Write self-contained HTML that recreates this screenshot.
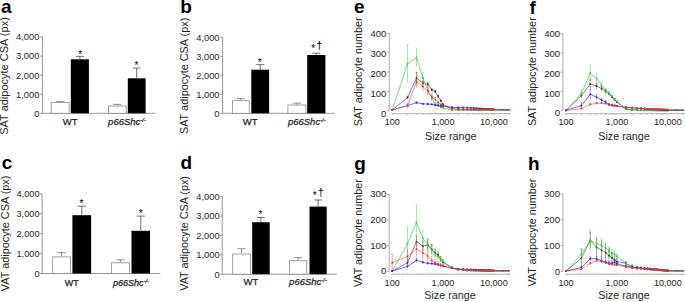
<!DOCTYPE html>
<html><head><meta charset="utf-8"><style>
html,body{margin:0;padding:0;background:#fff;}
body{width:685px;height:302px;overflow:hidden;}
svg{display:block;font-family:"Liberation Sans", sans-serif;}
.s{stroke:#231f20;stroke-width:0.25px;}
</style></head><body>
<svg width="685" height="302" viewBox="0 0 685 302">
<rect width="685" height="302" fill="#fff"/>
<line x1="42.40" y1="36.70" x2="42.40" y2="113.30" stroke="#8a8a8a" stroke-width="0.9" />
<line x1="40.20" y1="113.30" x2="42.40" y2="113.30" stroke="#8a8a8a" stroke-width="0.9" />
<text x="39.30" y="116.65" font-size="9.3" text-anchor="end" font-weight="normal" font-style="normal" fill="#231f20" >0</text>
<line x1="40.20" y1="94.22" x2="42.40" y2="94.22" stroke="#8a8a8a" stroke-width="0.9" />
<text x="39.30" y="97.57" font-size="9.3" text-anchor="end" font-weight="normal" font-style="normal" fill="#231f20" >1,000</text>
<line x1="40.20" y1="75.15" x2="42.40" y2="75.15" stroke="#8a8a8a" stroke-width="0.9" />
<text x="39.30" y="78.50" font-size="9.3" text-anchor="end" font-weight="normal" font-style="normal" fill="#231f20" >2,000</text>
<line x1="40.20" y1="56.08" x2="42.40" y2="56.08" stroke="#8a8a8a" stroke-width="0.9" />
<text x="39.30" y="59.42" font-size="9.3" text-anchor="end" font-weight="normal" font-style="normal" fill="#231f20" >3,000</text>
<line x1="40.20" y1="37.00" x2="42.40" y2="37.00" stroke="#8a8a8a" stroke-width="0.9" />
<text x="39.30" y="40.35" font-size="9.3" text-anchor="end" font-weight="normal" font-style="normal" fill="#231f20" >4,000</text>
<line x1="42.40" y1="113.30" x2="155.50" y2="113.30" stroke="#8a8a8a" stroke-width="0.9" />
<line x1="60.20" y1="102.20" x2="60.20" y2="101.40" stroke="#666" stroke-width="0.7" />
<line x1="55.97" y1="101.40" x2="64.43" y2="101.40" stroke="#666" stroke-width="0.7" />
<rect x="51.20" y="102.60" width="18.00" height="10.70" fill="#fff" stroke="#888" stroke-width="0.8"/>
<line x1="79.85" y1="59.30" x2="79.85" y2="56.40" stroke="#333" stroke-width="0.7" />
<line x1="75.78" y1="56.40" x2="83.92" y2="56.40" stroke="#333" stroke-width="0.7" />
<rect x="70.80" y="59.30" width="18.10" height="54.00" fill="#000"/>
<line x1="117.35" y1="105.60" x2="117.35" y2="104.40" stroke="#666" stroke-width="0.7" />
<line x1="113.19" y1="104.40" x2="121.51" y2="104.40" stroke="#666" stroke-width="0.7" />
<rect x="108.50" y="106.00" width="17.70" height="7.30" fill="#fff" stroke="#888" stroke-width="0.8"/>
<line x1="136.70" y1="78.30" x2="136.70" y2="68.10" stroke="#333" stroke-width="0.7" />
<line x1="132.69" y1="68.10" x2="140.70" y2="68.10" stroke="#333" stroke-width="0.7" />
<rect x="127.80" y="78.30" width="17.80" height="35.00" fill="#000"/>
<text x="80.20" y="57.70" font-size="10" text-anchor="middle" font-weight="normal" font-style="normal" fill="#000" >*</text>
<text x="136.40" y="69.30" font-size="10" text-anchor="middle" font-weight="normal" font-style="normal" fill="#000" >*</text>
<text x="70.20" y="125.40" font-size="9.5" text-anchor="middle" font-weight="normal" font-style="normal" fill="#231f20" class="s">WT</text>
<text class="s" x="127.00" y="125.40" font-size="9.5" text-anchor="middle" font-style="italic" fill="#231f20">p66Shc<tspan font-size="5.89" dy="-3.14">-/-</tspan></text>
<text transform="translate(8.40,76.00) rotate(-90)" font-size="11.0" text-anchor="middle" fill="#231f20">SAT adipocyte CSA (px)</text>
<text x="1.10" y="13.40" font-size="19" text-anchor="start" font-weight="bold" font-style="normal" fill="#000" >a</text>
<line x1="222.60" y1="37.00" x2="222.60" y2="113.30" stroke="#8a8a8a" stroke-width="0.9" />
<line x1="220.40" y1="113.30" x2="222.60" y2="113.30" stroke="#8a8a8a" stroke-width="0.9" />
<text x="219.50" y="116.65" font-size="9.3" text-anchor="end" font-weight="normal" font-style="normal" fill="#231f20" >0</text>
<line x1="220.40" y1="94.30" x2="222.60" y2="94.30" stroke="#8a8a8a" stroke-width="0.9" />
<text x="219.50" y="97.65" font-size="9.3" text-anchor="end" font-weight="normal" font-style="normal" fill="#231f20" >1,000</text>
<line x1="220.40" y1="75.30" x2="222.60" y2="75.30" stroke="#8a8a8a" stroke-width="0.9" />
<text x="219.50" y="78.65" font-size="9.3" text-anchor="end" font-weight="normal" font-style="normal" fill="#231f20" >2,000</text>
<line x1="220.40" y1="56.30" x2="222.60" y2="56.30" stroke="#8a8a8a" stroke-width="0.9" />
<text x="219.50" y="59.65" font-size="9.3" text-anchor="end" font-weight="normal" font-style="normal" fill="#231f20" >3,000</text>
<line x1="220.40" y1="37.30" x2="222.60" y2="37.30" stroke="#8a8a8a" stroke-width="0.9" />
<text x="219.50" y="40.65" font-size="9.3" text-anchor="end" font-weight="normal" font-style="normal" fill="#231f20" >4,000</text>
<line x1="222.60" y1="113.30" x2="334.40" y2="113.30" stroke="#8a8a8a" stroke-width="0.9" />
<line x1="240.80" y1="100.30" x2="240.80" y2="98.60" stroke="#666" stroke-width="0.7" />
<line x1="236.84" y1="98.60" x2="244.76" y2="98.60" stroke="#666" stroke-width="0.7" />
<rect x="232.40" y="100.70" width="16.80" height="12.60" fill="#fff" stroke="#888" stroke-width="0.8"/>
<line x1="260.20" y1="69.70" x2="260.20" y2="64.60" stroke="#333" stroke-width="0.7" />
<line x1="256.20" y1="64.60" x2="264.21" y2="64.60" stroke="#333" stroke-width="0.7" />
<rect x="251.30" y="69.70" width="17.80" height="43.60" fill="#000"/>
<line x1="296.90" y1="104.60" x2="296.90" y2="103.10" stroke="#666" stroke-width="0.7" />
<line x1="292.67" y1="103.10" x2="301.13" y2="103.10" stroke="#666" stroke-width="0.7" />
<rect x="287.90" y="105.00" width="18.00" height="8.30" fill="#fff" stroke="#888" stroke-width="0.8"/>
<line x1="316.30" y1="55.00" x2="316.30" y2="53.20" stroke="#333" stroke-width="0.7" />
<line x1="312.20" y1="53.20" x2="320.39" y2="53.20" stroke="#333" stroke-width="0.7" />
<rect x="307.20" y="55.00" width="18.20" height="58.30" fill="#000"/>
<text x="259.80" y="65.90" font-size="10" text-anchor="middle" font-weight="normal" font-style="normal" fill="#000" >*</text>
<text x="313.30" y="52.00" font-size="10" text-anchor="middle" font-weight="normal" font-style="normal" fill="#000" >*</text>
<text x="250.20" y="125.20" font-size="9.5" text-anchor="middle" font-weight="normal" font-style="normal" fill="#231f20" class="s">WT</text>
<text class="s" x="306.80" y="125.20" font-size="9.5" text-anchor="middle" font-style="italic" fill="#231f20">p66Shc<tspan font-size="5.89" dy="-3.14">-/-</tspan></text>
<text transform="translate(188.30,75.90) rotate(-90)" font-size="10.9" text-anchor="middle" fill="#231f20">SAT adipocyte CSA (px)</text>
<text x="180.30" y="13.40" font-size="19" text-anchor="start" font-weight="bold" font-style="normal" fill="#000" >b</text>
<text x="319.30" y="49.20" font-size="11" text-anchor="middle" font-weight="normal" font-style="normal" fill="#000" >†</text>
<line x1="42.10" y1="193.60" x2="42.10" y2="273.50" stroke="#8a8a8a" stroke-width="0.9" />
<line x1="39.90" y1="273.50" x2="42.10" y2="273.50" stroke="#8a8a8a" stroke-width="0.9" />
<text x="39.50" y="276.81" font-size="9.2" text-anchor="end" font-weight="normal" font-style="normal" fill="#231f20" >0</text>
<line x1="39.90" y1="253.60" x2="42.10" y2="253.60" stroke="#8a8a8a" stroke-width="0.9" />
<text x="39.50" y="256.91" font-size="9.2" text-anchor="end" font-weight="normal" font-style="normal" fill="#231f20" >1,000</text>
<line x1="39.90" y1="233.70" x2="42.10" y2="233.70" stroke="#8a8a8a" stroke-width="0.9" />
<text x="39.50" y="237.01" font-size="9.2" text-anchor="end" font-weight="normal" font-style="normal" fill="#231f20" >2,000</text>
<line x1="39.90" y1="213.80" x2="42.10" y2="213.80" stroke="#8a8a8a" stroke-width="0.9" />
<text x="39.50" y="217.11" font-size="9.2" text-anchor="end" font-weight="normal" font-style="normal" fill="#231f20" >3,000</text>
<line x1="39.90" y1="193.90" x2="42.10" y2="193.90" stroke="#8a8a8a" stroke-width="0.9" />
<text x="39.50" y="197.21" font-size="9.2" text-anchor="end" font-weight="normal" font-style="normal" fill="#231f20" >4,000</text>
<line x1="42.10" y1="273.50" x2="160.30" y2="273.50" stroke="#8a8a8a" stroke-width="0.9" />
<line x1="61.55" y1="256.50" x2="61.55" y2="252.60" stroke="#666" stroke-width="0.7" />
<line x1="57.39" y1="252.60" x2="65.71" y2="252.60" stroke="#666" stroke-width="0.7" />
<rect x="52.70" y="256.90" width="17.70" height="16.60" fill="#fff" stroke="#888" stroke-width="0.8"/>
<line x1="81.75" y1="215.20" x2="81.75" y2="206.20" stroke="#333" stroke-width="0.7" />
<line x1="77.54" y1="206.20" x2="85.96" y2="206.20" stroke="#333" stroke-width="0.7" />
<rect x="72.40" y="215.20" width="18.70" height="58.30" fill="#000"/>
<line x1="120.55" y1="262.40" x2="120.55" y2="259.80" stroke="#666" stroke-width="0.7" />
<line x1="116.34" y1="259.80" x2="124.76" y2="259.80" stroke="#666" stroke-width="0.7" />
<rect x="111.60" y="262.80" width="17.90" height="10.70" fill="#fff" stroke="#888" stroke-width="0.8"/>
<line x1="140.75" y1="230.80" x2="140.75" y2="216.10" stroke="#333" stroke-width="0.7" />
<line x1="136.59" y1="216.10" x2="144.91" y2="216.10" stroke="#333" stroke-width="0.7" />
<rect x="131.50" y="230.80" width="18.50" height="42.70" fill="#000"/>
<text x="81.50" y="206.56" font-size="10.3" text-anchor="middle" font-weight="normal" font-style="normal" fill="#000" >*</text>
<text x="140.80" y="216.76" font-size="10.3" text-anchor="middle" font-weight="normal" font-style="normal" fill="#000" >*</text>
<text x="71.80" y="286.20" font-size="9.0" text-anchor="middle" font-weight="normal" font-style="normal" fill="#231f20" class="s">WT</text>
<text class="s" x="131.00" y="286.20" font-size="9.0" text-anchor="middle" font-style="italic" fill="#231f20">p66Shc<tspan font-size="5.58" dy="-2.97">-/-</tspan></text>
<text transform="translate(8.60,233.40) rotate(-90)" font-size="10.9" text-anchor="middle" fill="#231f20">VAT adipocyte CSA (px)</text>
<text x="1.70" y="169.30" font-size="19" text-anchor="start" font-weight="bold" font-style="normal" fill="#000" >c</text>
<line x1="222.20" y1="196.30" x2="222.20" y2="274.20" stroke="#8a8a8a" stroke-width="0.9" />
<line x1="220.00" y1="274.20" x2="222.20" y2="274.20" stroke="#8a8a8a" stroke-width="0.9" />
<text x="219.60" y="277.55" font-size="9.3" text-anchor="end" font-weight="normal" font-style="normal" fill="#231f20" >0</text>
<line x1="220.00" y1="254.80" x2="222.20" y2="254.80" stroke="#8a8a8a" stroke-width="0.9" />
<text x="219.60" y="258.15" font-size="9.3" text-anchor="end" font-weight="normal" font-style="normal" fill="#231f20" >1,000</text>
<line x1="220.00" y1="235.40" x2="222.20" y2="235.40" stroke="#8a8a8a" stroke-width="0.9" />
<text x="219.60" y="238.75" font-size="9.3" text-anchor="end" font-weight="normal" font-style="normal" fill="#231f20" >2,000</text>
<line x1="220.00" y1="216.00" x2="222.20" y2="216.00" stroke="#8a8a8a" stroke-width="0.9" />
<text x="219.60" y="219.35" font-size="9.3" text-anchor="end" font-weight="normal" font-style="normal" fill="#231f20" >3,000</text>
<line x1="220.00" y1="196.60" x2="222.20" y2="196.60" stroke="#8a8a8a" stroke-width="0.9" />
<text x="219.60" y="199.95" font-size="9.3" text-anchor="end" font-weight="normal" font-style="normal" fill="#231f20" >4,000</text>
<line x1="222.20" y1="274.20" x2="336.80" y2="274.20" stroke="#8a8a8a" stroke-width="0.9" />
<line x1="241.55" y1="253.60" x2="241.55" y2="248.70" stroke="#666" stroke-width="0.7" />
<line x1="237.39" y1="248.70" x2="245.71" y2="248.70" stroke="#666" stroke-width="0.7" />
<rect x="232.70" y="254.00" width="17.70" height="20.20" fill="#fff" stroke="#888" stroke-width="0.8"/>
<line x1="260.95" y1="222.20" x2="260.95" y2="217.50" stroke="#333" stroke-width="0.7" />
<line x1="257.01" y1="217.50" x2="264.89" y2="217.50" stroke="#333" stroke-width="0.7" />
<rect x="252.20" y="222.20" width="17.50" height="52.00" fill="#000"/>
<line x1="298.10" y1="260.30" x2="298.10" y2="257.60" stroke="#666" stroke-width="0.7" />
<line x1="294.01" y1="257.60" x2="302.19" y2="257.60" stroke="#666" stroke-width="0.7" />
<rect x="289.40" y="260.70" width="17.40" height="13.50" fill="#fff" stroke="#888" stroke-width="0.8"/>
<line x1="318.10" y1="206.60" x2="318.10" y2="200.00" stroke="#333" stroke-width="0.7" />
<line x1="314.23" y1="200.00" x2="321.97" y2="200.00" stroke="#333" stroke-width="0.7" />
<rect x="309.50" y="206.60" width="17.20" height="67.60" fill="#000"/>
<text x="260.40" y="218.10" font-size="10" text-anchor="middle" font-weight="normal" font-style="normal" fill="#000" >*</text>
<text x="314.70" y="199.10" font-size="10" text-anchor="middle" font-weight="normal" font-style="normal" fill="#000" >*</text>
<text x="251.00" y="285.00" font-size="9.5" text-anchor="middle" font-weight="normal" font-style="normal" fill="#231f20" class="s">WT</text>
<text class="s" x="308.00" y="285.00" font-size="9.5" text-anchor="middle" font-style="italic" fill="#231f20">p66Shc<tspan font-size="5.89" dy="-3.14">-/-</tspan></text>
<text transform="translate(188.40,233.40) rotate(-90)" font-size="10.8" text-anchor="middle" fill="#231f20">VAT adipocyte CSA (px)</text>
<text x="180.40" y="169.00" font-size="19" text-anchor="start" font-weight="bold" font-style="normal" fill="#000" >d</text>
<text x="320.70" y="196.30" font-size="11" text-anchor="middle" font-weight="normal" font-style="normal" fill="#000" >†</text>
<line x1="389.30" y1="33.30" x2="389.30" y2="110.70" stroke="#a4a4a4" stroke-width="0.9" />
<line x1="387.10" y1="110.40" x2="389.30" y2="110.40" stroke="#a4a4a4" stroke-width="0.9" />
<text x="386.40" y="116.76" font-size="9.6" text-anchor="end" font-weight="normal" font-style="normal" fill="#231f20" >0</text>
<line x1="387.10" y1="91.20" x2="389.30" y2="91.20" stroke="#a4a4a4" stroke-width="0.9" />
<text x="386.40" y="96.86" font-size="9.6" text-anchor="end" font-weight="normal" font-style="normal" fill="#231f20" >100</text>
<line x1="387.10" y1="72.00" x2="389.30" y2="72.00" stroke="#a4a4a4" stroke-width="0.9" />
<text x="386.40" y="76.86" font-size="9.6" text-anchor="end" font-weight="normal" font-style="normal" fill="#231f20" >200</text>
<line x1="387.10" y1="52.80" x2="389.30" y2="52.80" stroke="#a4a4a4" stroke-width="0.9" />
<text x="386.40" y="57.16" font-size="9.6" text-anchor="end" font-weight="normal" font-style="normal" fill="#231f20" >300</text>
<line x1="387.10" y1="33.60" x2="389.30" y2="33.60" stroke="#a4a4a4" stroke-width="0.9" />
<text x="386.40" y="37.26" font-size="9.6" text-anchor="end" font-weight="normal" font-style="normal" fill="#231f20" >400</text>
<line x1="391.80" y1="113.70" x2="510.69" y2="113.70" stroke="#a4a4a4" stroke-width="0.9" />
<line x1="392.30" y1="113.70" x2="392.30" y2="115.00" stroke="#a4a4a4" stroke-width="0.6" />
<line x1="407.59" y1="113.70" x2="407.59" y2="115.00" stroke="#a4a4a4" stroke-width="0.6" />
<line x1="416.54" y1="113.70" x2="416.54" y2="115.00" stroke="#a4a4a4" stroke-width="0.6" />
<line x1="422.88" y1="113.70" x2="422.88" y2="115.00" stroke="#a4a4a4" stroke-width="0.6" />
<line x1="427.81" y1="113.70" x2="427.81" y2="115.00" stroke="#a4a4a4" stroke-width="0.6" />
<line x1="431.83" y1="113.70" x2="431.83" y2="115.00" stroke="#a4a4a4" stroke-width="0.6" />
<line x1="435.23" y1="113.70" x2="435.23" y2="115.00" stroke="#a4a4a4" stroke-width="0.6" />
<line x1="438.18" y1="113.70" x2="438.18" y2="115.00" stroke="#a4a4a4" stroke-width="0.6" />
<line x1="440.78" y1="113.70" x2="440.78" y2="115.00" stroke="#a4a4a4" stroke-width="0.6" />
<line x1="443.10" y1="113.70" x2="443.10" y2="115.00" stroke="#a4a4a4" stroke-width="0.6" />
<line x1="458.39" y1="113.70" x2="458.39" y2="115.00" stroke="#a4a4a4" stroke-width="0.6" />
<line x1="467.34" y1="113.70" x2="467.34" y2="115.00" stroke="#a4a4a4" stroke-width="0.6" />
<line x1="473.68" y1="113.70" x2="473.68" y2="115.00" stroke="#a4a4a4" stroke-width="0.6" />
<line x1="478.61" y1="113.70" x2="478.61" y2="115.00" stroke="#a4a4a4" stroke-width="0.6" />
<line x1="482.63" y1="113.70" x2="482.63" y2="115.00" stroke="#a4a4a4" stroke-width="0.6" />
<line x1="486.03" y1="113.70" x2="486.03" y2="115.00" stroke="#a4a4a4" stroke-width="0.6" />
<line x1="488.98" y1="113.70" x2="488.98" y2="115.00" stroke="#a4a4a4" stroke-width="0.6" />
<line x1="491.58" y1="113.70" x2="491.58" y2="115.00" stroke="#a4a4a4" stroke-width="0.6" />
<line x1="493.90" y1="113.70" x2="493.90" y2="115.00" stroke="#a4a4a4" stroke-width="0.6" />
<line x1="509.19" y1="113.70" x2="509.19" y2="115.00" stroke="#a4a4a4" stroke-width="0.6" />
<text x="392.30" y="125.00" font-size="9.1" text-anchor="middle" font-weight="normal" font-style="normal" fill="#231f20" >100</text>
<text x="443.10" y="125.00" font-size="9.1" text-anchor="middle" font-weight="normal" font-style="normal" fill="#231f20" >1,000</text>
<text x="493.90" y="125.00" font-size="9.1" text-anchor="middle" font-weight="normal" font-style="normal" fill="#231f20" >10,000</text>
<text x="450.70" y="140.10" font-size="10.75" text-anchor="middle" font-weight="normal" font-style="normal" fill="#231f20" >Size range</text>
<text transform="translate(362.40,71.90) rotate(-90)" font-size="10.8" text-anchor="middle" fill="#231f20">SAT adipocyte number</text>
<text x="353.90" y="13.10" font-size="19" text-anchor="start" font-weight="bold" font-style="normal" fill="#000" >e</text>
<path d="M392.30,109.82 L407.59,97.54 L416.54,78.14 L422.88,83.33 L427.81,84.29 L431.83,89.86 L435.23,91.58 L438.18,96.38 L440.78,100.80 L443.10,104.45 L452.05,108.67 L458.39,109.25 L463.32,109.46 L467.34,109.63 L470.74,109.68 L473.68,109.72 L476.28,109.76 L478.61,109.79 L480.71,109.83 L482.63,109.85 L484.40,109.88 L486.03,109.90 L487.55,109.92 L488.98,109.94 L490.31,109.96 L491.58,109.98 L492.77,110.00 L493.90,110.02 L502.85,110.13 L509.19,110.21" fill="none" stroke="#222" stroke-width="0.7" opacity="0.8"/>
<line x1="392.30" y1="109.63" x2="392.30" y2="110.02" stroke="#222" stroke-width="0.6" opacity="0.75"/>
<line x1="391.50" y1="109.63" x2="393.10" y2="109.63" stroke="#222" stroke-width="0.6" opacity="0.75"/>
<rect x="391.50" y="109.02" width="1.6" height="1.6" fill="#222"/>
<line x1="407.59" y1="96.00" x2="407.59" y2="99.07" stroke="#222" stroke-width="0.6" opacity="0.75"/>
<line x1="406.79" y1="96.00" x2="408.39" y2="96.00" stroke="#222" stroke-width="0.6" opacity="0.75"/>
<rect x="406.79" y="96.74" width="1.6" height="1.6" fill="#222"/>
<line x1="416.54" y1="72.38" x2="416.54" y2="83.90" stroke="#222" stroke-width="0.6" opacity="0.75"/>
<line x1="415.74" y1="72.38" x2="417.34" y2="72.38" stroke="#222" stroke-width="0.6" opacity="0.75"/>
<rect x="415.74" y="77.34" width="1.6" height="1.6" fill="#222"/>
<line x1="422.88" y1="81.02" x2="422.88" y2="85.63" stroke="#222" stroke-width="0.6" opacity="0.75"/>
<line x1="422.08" y1="81.02" x2="423.68" y2="81.02" stroke="#222" stroke-width="0.6" opacity="0.75"/>
<rect x="422.08" y="82.53" width="1.6" height="1.6" fill="#222"/>
<line x1="427.81" y1="82.37" x2="427.81" y2="86.21" stroke="#222" stroke-width="0.6" opacity="0.75"/>
<line x1="427.01" y1="82.37" x2="428.61" y2="82.37" stroke="#222" stroke-width="0.6" opacity="0.75"/>
<rect x="427.01" y="83.49" width="1.6" height="1.6" fill="#222"/>
<line x1="431.83" y1="88.32" x2="431.83" y2="91.39" stroke="#222" stroke-width="0.6" opacity="0.75"/>
<line x1="431.03" y1="88.32" x2="432.63" y2="88.32" stroke="#222" stroke-width="0.6" opacity="0.75"/>
<rect x="431.03" y="89.06" width="1.6" height="1.6" fill="#222"/>
<line x1="435.23" y1="90.05" x2="435.23" y2="93.12" stroke="#222" stroke-width="0.6" opacity="0.75"/>
<line x1="434.43" y1="90.05" x2="436.03" y2="90.05" stroke="#222" stroke-width="0.6" opacity="0.75"/>
<rect x="434.43" y="90.78" width="1.6" height="1.6" fill="#222"/>
<line x1="438.18" y1="95.23" x2="438.18" y2="97.54" stroke="#222" stroke-width="0.6" opacity="0.75"/>
<line x1="437.38" y1="95.23" x2="438.98" y2="95.23" stroke="#222" stroke-width="0.6" opacity="0.75"/>
<rect x="437.38" y="95.58" width="1.6" height="1.6" fill="#222"/>
<line x1="440.78" y1="99.84" x2="440.78" y2="101.76" stroke="#222" stroke-width="0.6" opacity="0.75"/>
<line x1="439.98" y1="99.84" x2="441.58" y2="99.84" stroke="#222" stroke-width="0.6" opacity="0.75"/>
<rect x="439.98" y="100.00" width="1.6" height="1.6" fill="#222"/>
<line x1="443.10" y1="103.68" x2="443.10" y2="105.22" stroke="#222" stroke-width="0.6" opacity="0.75"/>
<line x1="442.30" y1="103.68" x2="443.90" y2="103.68" stroke="#222" stroke-width="0.6" opacity="0.75"/>
<rect x="442.30" y="103.65" width="1.6" height="1.6" fill="#222"/>
<line x1="452.05" y1="108.29" x2="452.05" y2="109.06" stroke="#222" stroke-width="0.6" opacity="0.75"/>
<line x1="451.25" y1="108.29" x2="452.85" y2="108.29" stroke="#222" stroke-width="0.6" opacity="0.75"/>
<rect x="451.25" y="107.87" width="1.6" height="1.6" fill="#222"/>
<line x1="458.39" y1="108.89" x2="458.39" y2="109.61" stroke="#222" stroke-width="0.6" opacity="0.75"/>
<line x1="457.59" y1="108.89" x2="459.19" y2="108.89" stroke="#222" stroke-width="0.6" opacity="0.75"/>
<rect x="457.59" y="108.45" width="1.6" height="1.6" fill="#222"/>
<line x1="463.32" y1="109.11" x2="463.32" y2="109.81" stroke="#222" stroke-width="0.6" opacity="0.75"/>
<line x1="462.52" y1="109.11" x2="464.12" y2="109.11" stroke="#222" stroke-width="0.6" opacity="0.75"/>
<rect x="462.52" y="108.66" width="1.6" height="1.6" fill="#222"/>
<line x1="467.34" y1="109.30" x2="467.34" y2="109.96" stroke="#222" stroke-width="0.6" opacity="0.75"/>
<line x1="466.54" y1="109.30" x2="468.14" y2="109.30" stroke="#222" stroke-width="0.6" opacity="0.75"/>
<rect x="466.54" y="108.83" width="1.6" height="1.6" fill="#222"/>
<line x1="470.74" y1="109.36" x2="470.74" y2="110.00" stroke="#222" stroke-width="0.6" opacity="0.75"/>
<line x1="469.94" y1="109.36" x2="471.54" y2="109.36" stroke="#222" stroke-width="0.6" opacity="0.75"/>
<rect x="469.94" y="108.88" width="1.6" height="1.6" fill="#222"/>
<line x1="473.68" y1="109.41" x2="473.68" y2="110.04" stroke="#222" stroke-width="0.6" opacity="0.75"/>
<line x1="472.88" y1="109.41" x2="474.48" y2="109.41" stroke="#222" stroke-width="0.6" opacity="0.75"/>
<rect x="472.88" y="108.92" width="1.6" height="1.6" fill="#222"/>
<line x1="476.28" y1="109.46" x2="476.28" y2="110.06" stroke="#222" stroke-width="0.6" opacity="0.75"/>
<line x1="475.48" y1="109.46" x2="477.08" y2="109.46" stroke="#222" stroke-width="0.6" opacity="0.75"/>
<rect x="475.48" y="108.96" width="1.6" height="1.6" fill="#222"/>
<line x1="478.61" y1="109.50" x2="478.61" y2="110.09" stroke="#222" stroke-width="0.6" opacity="0.75"/>
<line x1="477.81" y1="109.50" x2="479.41" y2="109.50" stroke="#222" stroke-width="0.6" opacity="0.75"/>
<rect x="477.81" y="108.99" width="1.6" height="1.6" fill="#222"/>
<line x1="480.71" y1="109.54" x2="480.71" y2="110.11" stroke="#222" stroke-width="0.6" opacity="0.75"/>
<line x1="479.91" y1="109.54" x2="481.51" y2="109.54" stroke="#222" stroke-width="0.6" opacity="0.75"/>
<rect x="479.91" y="109.03" width="1.6" height="1.6" fill="#222"/>
<line x1="482.63" y1="109.57" x2="482.63" y2="110.13" stroke="#222" stroke-width="0.6" opacity="0.75"/>
<line x1="481.83" y1="109.57" x2="483.43" y2="109.57" stroke="#222" stroke-width="0.6" opacity="0.75"/>
<rect x="481.83" y="109.05" width="1.6" height="1.6" fill="#222"/>
<line x1="484.40" y1="109.60" x2="484.40" y2="110.15" stroke="#222" stroke-width="0.6" opacity="0.75"/>
<line x1="483.60" y1="109.60" x2="485.20" y2="109.60" stroke="#222" stroke-width="0.6" opacity="0.75"/>
<rect x="483.60" y="109.08" width="1.6" height="1.6" fill="#222"/>
<line x1="486.03" y1="109.63" x2="486.03" y2="110.17" stroke="#222" stroke-width="0.6" opacity="0.75"/>
<line x1="485.23" y1="109.63" x2="486.83" y2="109.63" stroke="#222" stroke-width="0.6" opacity="0.75"/>
<rect x="485.23" y="109.10" width="1.6" height="1.6" fill="#222"/>
<line x1="487.55" y1="109.66" x2="487.55" y2="110.19" stroke="#222" stroke-width="0.6" opacity="0.75"/>
<line x1="486.75" y1="109.66" x2="488.35" y2="109.66" stroke="#222" stroke-width="0.6" opacity="0.75"/>
<rect x="486.75" y="109.12" width="1.6" height="1.6" fill="#222"/>
<line x1="488.98" y1="109.68" x2="488.98" y2="110.20" stroke="#222" stroke-width="0.6" opacity="0.75"/>
<line x1="488.18" y1="109.68" x2="489.78" y2="109.68" stroke="#222" stroke-width="0.6" opacity="0.75"/>
<rect x="488.18" y="109.14" width="1.6" height="1.6" fill="#222"/>
<line x1="490.31" y1="109.71" x2="490.31" y2="110.22" stroke="#222" stroke-width="0.6" opacity="0.75"/>
<line x1="489.51" y1="109.71" x2="491.11" y2="109.71" stroke="#222" stroke-width="0.6" opacity="0.75"/>
<rect x="489.51" y="109.16" width="1.6" height="1.6" fill="#222"/>
<line x1="491.58" y1="109.73" x2="491.58" y2="110.23" stroke="#222" stroke-width="0.6" opacity="0.75"/>
<line x1="490.78" y1="109.73" x2="492.38" y2="109.73" stroke="#222" stroke-width="0.6" opacity="0.75"/>
<rect x="490.78" y="109.18" width="1.6" height="1.6" fill="#222"/>
<line x1="492.77" y1="109.75" x2="492.77" y2="110.25" stroke="#222" stroke-width="0.6" opacity="0.75"/>
<line x1="491.97" y1="109.75" x2="493.57" y2="109.75" stroke="#222" stroke-width="0.6" opacity="0.75"/>
<rect x="491.97" y="109.20" width="1.6" height="1.6" fill="#222"/>
<line x1="493.90" y1="109.77" x2="493.90" y2="110.26" stroke="#222" stroke-width="0.6" opacity="0.75"/>
<line x1="493.10" y1="109.77" x2="494.70" y2="109.77" stroke="#222" stroke-width="0.6" opacity="0.75"/>
<rect x="493.10" y="109.22" width="1.6" height="1.6" fill="#222"/>
<line x1="502.85" y1="109.91" x2="502.85" y2="110.34" stroke="#222" stroke-width="0.6" opacity="0.75"/>
<line x1="502.05" y1="109.91" x2="503.65" y2="109.91" stroke="#222" stroke-width="0.6" opacity="0.75"/>
<line x1="509.19" y1="110.02" x2="509.19" y2="110.40" stroke="#222" stroke-width="0.6" opacity="0.75"/>
<line x1="508.39" y1="110.02" x2="509.99" y2="110.02" stroke="#222" stroke-width="0.6" opacity="0.75"/>
<path d="M392.30,109.82 L407.59,63.74 L416.54,57.41 L422.88,78.14 L427.81,90.24 L431.83,98.30 L435.23,103.87 L438.18,105.02 L440.78,106.94 L443.10,108.10 L452.05,110.21 L458.39,110.21 L463.32,110.21 L467.34,110.21 L470.74,110.21 L473.68,110.21 L476.28,110.21 L478.61,110.21 L480.71,110.21 L482.63,110.21 L484.40,110.21 L486.03,110.21 L487.55,110.21 L488.98,110.21 L490.31,110.21 L491.58,110.21 L492.77,110.21 L493.90,110.21 L502.85,110.21 L509.19,110.21" fill="none" stroke="#3cc83c" stroke-width="0.8" opacity="0.85"/>
<line x1="392.30" y1="109.63" x2="392.30" y2="110.02" stroke="#3cc83c" stroke-width="0.6" opacity="0.75"/>
<line x1="391.50" y1="109.63" x2="393.10" y2="109.63" stroke="#3cc83c" stroke-width="0.6" opacity="0.75"/>
<rect x="391.50" y="109.02" width="1.6" height="1.6" fill="#3cc83c"/>
<line x1="407.59" y1="44.54" x2="407.59" y2="82.94" stroke="#3cc83c" stroke-width="0.6" opacity="0.75"/>
<line x1="406.79" y1="44.54" x2="408.39" y2="44.54" stroke="#3cc83c" stroke-width="0.6" opacity="0.75"/>
<rect x="406.79" y="62.94" width="1.6" height="1.6" fill="#3cc83c"/>
<line x1="416.54" y1="48.19" x2="416.54" y2="66.62" stroke="#3cc83c" stroke-width="0.6" opacity="0.75"/>
<line x1="415.74" y1="48.19" x2="417.34" y2="48.19" stroke="#3cc83c" stroke-width="0.6" opacity="0.75"/>
<rect x="415.74" y="56.61" width="1.6" height="1.6" fill="#3cc83c"/>
<line x1="422.88" y1="72.38" x2="422.88" y2="83.90" stroke="#3cc83c" stroke-width="0.6" opacity="0.75"/>
<line x1="422.08" y1="72.38" x2="423.68" y2="72.38" stroke="#3cc83c" stroke-width="0.6" opacity="0.75"/>
<rect x="422.08" y="77.34" width="1.6" height="1.6" fill="#3cc83c"/>
<line x1="427.81" y1="86.40" x2="427.81" y2="94.08" stroke="#3cc83c" stroke-width="0.6" opacity="0.75"/>
<line x1="427.01" y1="86.40" x2="428.61" y2="86.40" stroke="#3cc83c" stroke-width="0.6" opacity="0.75"/>
<rect x="427.01" y="89.44" width="1.6" height="1.6" fill="#3cc83c"/>
<line x1="431.83" y1="95.42" x2="431.83" y2="101.18" stroke="#3cc83c" stroke-width="0.6" opacity="0.75"/>
<line x1="431.03" y1="95.42" x2="432.63" y2="95.42" stroke="#3cc83c" stroke-width="0.6" opacity="0.75"/>
<rect x="431.03" y="97.50" width="1.6" height="1.6" fill="#3cc83c"/>
<line x1="435.23" y1="101.95" x2="435.23" y2="105.79" stroke="#3cc83c" stroke-width="0.6" opacity="0.75"/>
<line x1="434.43" y1="101.95" x2="436.03" y2="101.95" stroke="#3cc83c" stroke-width="0.6" opacity="0.75"/>
<rect x="434.43" y="103.07" width="1.6" height="1.6" fill="#3cc83c"/>
<line x1="438.18" y1="103.49" x2="438.18" y2="106.56" stroke="#3cc83c" stroke-width="0.6" opacity="0.75"/>
<line x1="437.38" y1="103.49" x2="438.98" y2="103.49" stroke="#3cc83c" stroke-width="0.6" opacity="0.75"/>
<rect x="437.38" y="104.22" width="1.6" height="1.6" fill="#3cc83c"/>
<line x1="440.78" y1="105.79" x2="440.78" y2="108.10" stroke="#3cc83c" stroke-width="0.6" opacity="0.75"/>
<line x1="439.98" y1="105.79" x2="441.58" y2="105.79" stroke="#3cc83c" stroke-width="0.6" opacity="0.75"/>
<rect x="439.98" y="106.14" width="1.6" height="1.6" fill="#3cc83c"/>
<line x1="443.10" y1="107.33" x2="443.10" y2="108.86" stroke="#3cc83c" stroke-width="0.6" opacity="0.75"/>
<line x1="442.30" y1="107.33" x2="443.90" y2="107.33" stroke="#3cc83c" stroke-width="0.6" opacity="0.75"/>
<rect x="442.30" y="107.30" width="1.6" height="1.6" fill="#3cc83c"/>
<line x1="452.05" y1="109.82" x2="452.05" y2="110.40" stroke="#3cc83c" stroke-width="0.6" opacity="0.75"/>
<line x1="451.25" y1="109.82" x2="452.85" y2="109.82" stroke="#3cc83c" stroke-width="0.6" opacity="0.75"/>
<rect x="451.25" y="109.41" width="1.6" height="1.6" fill="#3cc83c"/>
<line x1="458.39" y1="109.85" x2="458.39" y2="110.40" stroke="#3cc83c" stroke-width="0.6" opacity="0.75"/>
<line x1="457.59" y1="109.85" x2="459.19" y2="109.85" stroke="#3cc83c" stroke-width="0.6" opacity="0.75"/>
<rect x="457.59" y="109.41" width="1.6" height="1.6" fill="#3cc83c"/>
<line x1="463.32" y1="109.86" x2="463.32" y2="110.40" stroke="#3cc83c" stroke-width="0.6" opacity="0.75"/>
<line x1="462.52" y1="109.86" x2="464.12" y2="109.86" stroke="#3cc83c" stroke-width="0.6" opacity="0.75"/>
<rect x="462.52" y="109.41" width="1.6" height="1.6" fill="#3cc83c"/>
<line x1="467.34" y1="109.88" x2="467.34" y2="110.40" stroke="#3cc83c" stroke-width="0.6" opacity="0.75"/>
<line x1="466.54" y1="109.88" x2="468.14" y2="109.88" stroke="#3cc83c" stroke-width="0.6" opacity="0.75"/>
<rect x="466.54" y="109.41" width="1.6" height="1.6" fill="#3cc83c"/>
<line x1="470.74" y1="109.89" x2="470.74" y2="110.40" stroke="#3cc83c" stroke-width="0.6" opacity="0.75"/>
<line x1="469.94" y1="109.89" x2="471.54" y2="109.89" stroke="#3cc83c" stroke-width="0.6" opacity="0.75"/>
<rect x="469.94" y="109.41" width="1.6" height="1.6" fill="#3cc83c"/>
<line x1="473.68" y1="109.90" x2="473.68" y2="110.40" stroke="#3cc83c" stroke-width="0.6" opacity="0.75"/>
<line x1="472.88" y1="109.90" x2="474.48" y2="109.90" stroke="#3cc83c" stroke-width="0.6" opacity="0.75"/>
<rect x="472.88" y="109.41" width="1.6" height="1.6" fill="#3cc83c"/>
<line x1="476.28" y1="109.91" x2="476.28" y2="110.40" stroke="#3cc83c" stroke-width="0.6" opacity="0.75"/>
<line x1="475.48" y1="109.91" x2="477.08" y2="109.91" stroke="#3cc83c" stroke-width="0.6" opacity="0.75"/>
<rect x="475.48" y="109.41" width="1.6" height="1.6" fill="#3cc83c"/>
<line x1="478.61" y1="109.91" x2="478.61" y2="110.40" stroke="#3cc83c" stroke-width="0.6" opacity="0.75"/>
<line x1="477.81" y1="109.91" x2="479.41" y2="109.91" stroke="#3cc83c" stroke-width="0.6" opacity="0.75"/>
<rect x="477.81" y="109.41" width="1.6" height="1.6" fill="#3cc83c"/>
<line x1="480.71" y1="109.92" x2="480.71" y2="110.40" stroke="#3cc83c" stroke-width="0.6" opacity="0.75"/>
<line x1="479.91" y1="109.92" x2="481.51" y2="109.92" stroke="#3cc83c" stroke-width="0.6" opacity="0.75"/>
<rect x="479.91" y="109.41" width="1.6" height="1.6" fill="#3cc83c"/>
<line x1="482.63" y1="109.93" x2="482.63" y2="110.40" stroke="#3cc83c" stroke-width="0.6" opacity="0.75"/>
<line x1="481.83" y1="109.93" x2="483.43" y2="109.93" stroke="#3cc83c" stroke-width="0.6" opacity="0.75"/>
<rect x="481.83" y="109.41" width="1.6" height="1.6" fill="#3cc83c"/>
<line x1="484.40" y1="109.93" x2="484.40" y2="110.40" stroke="#3cc83c" stroke-width="0.6" opacity="0.75"/>
<line x1="483.60" y1="109.93" x2="485.20" y2="109.93" stroke="#3cc83c" stroke-width="0.6" opacity="0.75"/>
<rect x="483.60" y="109.41" width="1.6" height="1.6" fill="#3cc83c"/>
<line x1="486.03" y1="109.94" x2="486.03" y2="110.40" stroke="#3cc83c" stroke-width="0.6" opacity="0.75"/>
<line x1="485.23" y1="109.94" x2="486.83" y2="109.94" stroke="#3cc83c" stroke-width="0.6" opacity="0.75"/>
<rect x="485.23" y="109.41" width="1.6" height="1.6" fill="#3cc83c"/>
<line x1="487.55" y1="109.94" x2="487.55" y2="110.40" stroke="#3cc83c" stroke-width="0.6" opacity="0.75"/>
<line x1="486.75" y1="109.94" x2="488.35" y2="109.94" stroke="#3cc83c" stroke-width="0.6" opacity="0.75"/>
<rect x="486.75" y="109.41" width="1.6" height="1.6" fill="#3cc83c"/>
<line x1="488.98" y1="109.95" x2="488.98" y2="110.40" stroke="#3cc83c" stroke-width="0.6" opacity="0.75"/>
<line x1="488.18" y1="109.95" x2="489.78" y2="109.95" stroke="#3cc83c" stroke-width="0.6" opacity="0.75"/>
<rect x="488.18" y="109.41" width="1.6" height="1.6" fill="#3cc83c"/>
<line x1="490.31" y1="109.95" x2="490.31" y2="110.40" stroke="#3cc83c" stroke-width="0.6" opacity="0.75"/>
<line x1="489.51" y1="109.95" x2="491.11" y2="109.95" stroke="#3cc83c" stroke-width="0.6" opacity="0.75"/>
<rect x="489.51" y="109.41" width="1.6" height="1.6" fill="#3cc83c"/>
<line x1="491.58" y1="109.96" x2="491.58" y2="110.40" stroke="#3cc83c" stroke-width="0.6" opacity="0.75"/>
<line x1="490.78" y1="109.96" x2="492.38" y2="109.96" stroke="#3cc83c" stroke-width="0.6" opacity="0.75"/>
<rect x="490.78" y="109.41" width="1.6" height="1.6" fill="#3cc83c"/>
<line x1="492.77" y1="109.96" x2="492.77" y2="110.40" stroke="#3cc83c" stroke-width="0.6" opacity="0.75"/>
<line x1="491.97" y1="109.96" x2="493.57" y2="109.96" stroke="#3cc83c" stroke-width="0.6" opacity="0.75"/>
<rect x="491.97" y="109.41" width="1.6" height="1.6" fill="#3cc83c"/>
<line x1="493.90" y1="109.96" x2="493.90" y2="110.40" stroke="#3cc83c" stroke-width="0.6" opacity="0.75"/>
<line x1="493.10" y1="109.96" x2="494.70" y2="109.96" stroke="#3cc83c" stroke-width="0.6" opacity="0.75"/>
<rect x="493.10" y="109.41" width="1.6" height="1.6" fill="#3cc83c"/>
<line x1="502.85" y1="109.99" x2="502.85" y2="110.40" stroke="#3cc83c" stroke-width="0.6" opacity="0.75"/>
<line x1="502.05" y1="109.99" x2="503.65" y2="109.99" stroke="#3cc83c" stroke-width="0.6" opacity="0.75"/>
<line x1="509.19" y1="110.02" x2="509.19" y2="110.40" stroke="#3cc83c" stroke-width="0.6" opacity="0.75"/>
<line x1="508.39" y1="110.02" x2="509.99" y2="110.02" stroke="#3cc83c" stroke-width="0.6" opacity="0.75"/>
<path d="M392.30,109.82 L407.59,105.60 L416.54,102.72 L422.88,103.87 L427.81,104.06 L431.83,104.45 L435.23,105.22 L438.18,105.60 L440.78,105.98 L443.10,106.18 L452.05,107.33 L458.39,107.52 L463.32,107.63 L467.34,107.71 L470.74,107.94 L473.68,108.14 L476.28,108.32 L478.61,108.48 L480.71,108.61 L482.63,108.73 L484.40,108.84 L486.03,108.95 L487.55,109.04 L488.98,109.13 L490.31,109.21 L491.58,109.29 L492.77,109.37 L493.90,109.44 L502.85,109.66 L509.19,109.82" fill="none" stroke="#2020e8" stroke-width="0.8" opacity="0.85"/>
<line x1="392.30" y1="109.63" x2="392.30" y2="110.02" stroke="#2020e8" stroke-width="0.6" opacity="0.75"/>
<line x1="391.50" y1="109.63" x2="393.10" y2="109.63" stroke="#2020e8" stroke-width="0.6" opacity="0.75"/>
<rect x="391.50" y="109.02" width="1.6" height="1.6" fill="#2020e8"/>
<line x1="407.59" y1="104.64" x2="407.59" y2="106.56" stroke="#2020e8" stroke-width="0.6" opacity="0.75"/>
<line x1="406.79" y1="104.64" x2="408.39" y2="104.64" stroke="#2020e8" stroke-width="0.6" opacity="0.75"/>
<rect x="406.79" y="104.80" width="1.6" height="1.6" fill="#2020e8"/>
<line x1="416.54" y1="101.76" x2="416.54" y2="103.68" stroke="#2020e8" stroke-width="0.6" opacity="0.75"/>
<line x1="415.74" y1="101.76" x2="417.34" y2="101.76" stroke="#2020e8" stroke-width="0.6" opacity="0.75"/>
<rect x="415.74" y="101.92" width="1.6" height="1.6" fill="#2020e8"/>
<line x1="422.88" y1="103.10" x2="422.88" y2="104.64" stroke="#2020e8" stroke-width="0.6" opacity="0.75"/>
<line x1="422.08" y1="103.10" x2="423.68" y2="103.10" stroke="#2020e8" stroke-width="0.6" opacity="0.75"/>
<rect x="422.08" y="103.07" width="1.6" height="1.6" fill="#2020e8"/>
<line x1="427.81" y1="103.34" x2="427.81" y2="104.79" stroke="#2020e8" stroke-width="0.6" opacity="0.75"/>
<line x1="427.01" y1="103.34" x2="428.61" y2="103.34" stroke="#2020e8" stroke-width="0.6" opacity="0.75"/>
<rect x="427.01" y="103.26" width="1.6" height="1.6" fill="#2020e8"/>
<line x1="431.83" y1="103.76" x2="431.83" y2="105.13" stroke="#2020e8" stroke-width="0.6" opacity="0.75"/>
<line x1="431.03" y1="103.76" x2="432.63" y2="103.76" stroke="#2020e8" stroke-width="0.6" opacity="0.75"/>
<rect x="431.03" y="103.65" width="1.6" height="1.6" fill="#2020e8"/>
<line x1="435.23" y1="104.57" x2="435.23" y2="105.87" stroke="#2020e8" stroke-width="0.6" opacity="0.75"/>
<line x1="434.43" y1="104.57" x2="436.03" y2="104.57" stroke="#2020e8" stroke-width="0.6" opacity="0.75"/>
<rect x="434.43" y="104.42" width="1.6" height="1.6" fill="#2020e8"/>
<line x1="438.18" y1="104.98" x2="438.18" y2="106.22" stroke="#2020e8" stroke-width="0.6" opacity="0.75"/>
<line x1="437.38" y1="104.98" x2="438.98" y2="104.98" stroke="#2020e8" stroke-width="0.6" opacity="0.75"/>
<rect x="437.38" y="104.80" width="1.6" height="1.6" fill="#2020e8"/>
<line x1="440.78" y1="105.39" x2="440.78" y2="106.58" stroke="#2020e8" stroke-width="0.6" opacity="0.75"/>
<line x1="439.98" y1="105.39" x2="441.58" y2="105.39" stroke="#2020e8" stroke-width="0.6" opacity="0.75"/>
<rect x="439.98" y="105.18" width="1.6" height="1.6" fill="#2020e8"/>
<line x1="443.10" y1="105.60" x2="443.10" y2="106.75" stroke="#2020e8" stroke-width="0.6" opacity="0.75"/>
<line x1="442.30" y1="105.60" x2="443.90" y2="105.60" stroke="#2020e8" stroke-width="0.6" opacity="0.75"/>
<rect x="442.30" y="105.38" width="1.6" height="1.6" fill="#2020e8"/>
<line x1="452.05" y1="106.75" x2="452.05" y2="107.90" stroke="#2020e8" stroke-width="0.6" opacity="0.75"/>
<line x1="451.25" y1="106.75" x2="452.85" y2="106.75" stroke="#2020e8" stroke-width="0.6" opacity="0.75"/>
<rect x="451.25" y="106.53" width="1.6" height="1.6" fill="#2020e8"/>
<line x1="458.39" y1="106.94" x2="458.39" y2="108.10" stroke="#2020e8" stroke-width="0.6" opacity="0.75"/>
<line x1="457.59" y1="106.94" x2="459.19" y2="106.94" stroke="#2020e8" stroke-width="0.6" opacity="0.75"/>
<rect x="457.59" y="106.72" width="1.6" height="1.6" fill="#2020e8"/>
<line x1="463.32" y1="107.05" x2="463.32" y2="108.20" stroke="#2020e8" stroke-width="0.6" opacity="0.75"/>
<line x1="462.52" y1="107.05" x2="464.12" y2="107.05" stroke="#2020e8" stroke-width="0.6" opacity="0.75"/>
<rect x="462.52" y="106.83" width="1.6" height="1.6" fill="#2020e8"/>
<line x1="467.34" y1="107.14" x2="467.34" y2="108.29" stroke="#2020e8" stroke-width="0.6" opacity="0.75"/>
<line x1="466.54" y1="107.14" x2="468.14" y2="107.14" stroke="#2020e8" stroke-width="0.6" opacity="0.75"/>
<rect x="466.54" y="106.91" width="1.6" height="1.6" fill="#2020e8"/>
<line x1="470.74" y1="107.40" x2="470.74" y2="108.49" stroke="#2020e8" stroke-width="0.6" opacity="0.75"/>
<line x1="469.94" y1="107.40" x2="471.54" y2="107.40" stroke="#2020e8" stroke-width="0.6" opacity="0.75"/>
<rect x="469.94" y="107.14" width="1.6" height="1.6" fill="#2020e8"/>
<line x1="473.68" y1="107.63" x2="473.68" y2="108.66" stroke="#2020e8" stroke-width="0.6" opacity="0.75"/>
<line x1="472.88" y1="107.63" x2="474.48" y2="107.63" stroke="#2020e8" stroke-width="0.6" opacity="0.75"/>
<rect x="472.88" y="107.34" width="1.6" height="1.6" fill="#2020e8"/>
<line x1="476.28" y1="107.83" x2="476.28" y2="108.82" stroke="#2020e8" stroke-width="0.6" opacity="0.75"/>
<line x1="475.48" y1="107.83" x2="477.08" y2="107.83" stroke="#2020e8" stroke-width="0.6" opacity="0.75"/>
<rect x="475.48" y="107.52" width="1.6" height="1.6" fill="#2020e8"/>
<line x1="478.61" y1="108.01" x2="478.61" y2="108.95" stroke="#2020e8" stroke-width="0.6" opacity="0.75"/>
<line x1="477.81" y1="108.01" x2="479.41" y2="108.01" stroke="#2020e8" stroke-width="0.6" opacity="0.75"/>
<rect x="477.81" y="107.68" width="1.6" height="1.6" fill="#2020e8"/>
<line x1="480.71" y1="108.16" x2="480.71" y2="109.07" stroke="#2020e8" stroke-width="0.6" opacity="0.75"/>
<line x1="479.91" y1="108.16" x2="481.51" y2="108.16" stroke="#2020e8" stroke-width="0.6" opacity="0.75"/>
<rect x="479.91" y="107.81" width="1.6" height="1.6" fill="#2020e8"/>
<line x1="482.63" y1="108.30" x2="482.63" y2="109.17" stroke="#2020e8" stroke-width="0.6" opacity="0.75"/>
<line x1="481.83" y1="108.30" x2="483.43" y2="108.30" stroke="#2020e8" stroke-width="0.6" opacity="0.75"/>
<rect x="481.83" y="107.93" width="1.6" height="1.6" fill="#2020e8"/>
<line x1="484.40" y1="108.42" x2="484.40" y2="109.26" stroke="#2020e8" stroke-width="0.6" opacity="0.75"/>
<line x1="483.60" y1="108.42" x2="485.20" y2="108.42" stroke="#2020e8" stroke-width="0.6" opacity="0.75"/>
<rect x="483.60" y="108.04" width="1.6" height="1.6" fill="#2020e8"/>
<line x1="486.03" y1="108.54" x2="486.03" y2="109.35" stroke="#2020e8" stroke-width="0.6" opacity="0.75"/>
<line x1="485.23" y1="108.54" x2="486.83" y2="108.54" stroke="#2020e8" stroke-width="0.6" opacity="0.75"/>
<rect x="485.23" y="108.15" width="1.6" height="1.6" fill="#2020e8"/>
<line x1="487.55" y1="108.65" x2="487.55" y2="109.43" stroke="#2020e8" stroke-width="0.6" opacity="0.75"/>
<line x1="486.75" y1="108.65" x2="488.35" y2="108.65" stroke="#2020e8" stroke-width="0.6" opacity="0.75"/>
<rect x="486.75" y="108.24" width="1.6" height="1.6" fill="#2020e8"/>
<line x1="488.98" y1="108.75" x2="488.98" y2="109.51" stroke="#2020e8" stroke-width="0.6" opacity="0.75"/>
<line x1="488.18" y1="108.75" x2="489.78" y2="108.75" stroke="#2020e8" stroke-width="0.6" opacity="0.75"/>
<rect x="488.18" y="108.33" width="1.6" height="1.6" fill="#2020e8"/>
<line x1="490.31" y1="108.85" x2="490.31" y2="109.58" stroke="#2020e8" stroke-width="0.6" opacity="0.75"/>
<line x1="489.51" y1="108.85" x2="491.11" y2="108.85" stroke="#2020e8" stroke-width="0.6" opacity="0.75"/>
<rect x="489.51" y="108.41" width="1.6" height="1.6" fill="#2020e8"/>
<line x1="491.58" y1="108.94" x2="491.58" y2="109.65" stroke="#2020e8" stroke-width="0.6" opacity="0.75"/>
<line x1="490.78" y1="108.94" x2="492.38" y2="108.94" stroke="#2020e8" stroke-width="0.6" opacity="0.75"/>
<rect x="490.78" y="108.49" width="1.6" height="1.6" fill="#2020e8"/>
<line x1="492.77" y1="109.03" x2="492.77" y2="109.71" stroke="#2020e8" stroke-width="0.6" opacity="0.75"/>
<line x1="491.97" y1="109.03" x2="493.57" y2="109.03" stroke="#2020e8" stroke-width="0.6" opacity="0.75"/>
<rect x="491.97" y="108.57" width="1.6" height="1.6" fill="#2020e8"/>
<line x1="493.90" y1="109.11" x2="493.90" y2="109.77" stroke="#2020e8" stroke-width="0.6" opacity="0.75"/>
<line x1="493.10" y1="109.11" x2="494.70" y2="109.11" stroke="#2020e8" stroke-width="0.6" opacity="0.75"/>
<rect x="493.10" y="108.64" width="1.6" height="1.6" fill="#2020e8"/>
<line x1="502.85" y1="109.41" x2="502.85" y2="109.91" stroke="#2020e8" stroke-width="0.6" opacity="0.75"/>
<line x1="502.05" y1="109.41" x2="503.65" y2="109.41" stroke="#2020e8" stroke-width="0.6" opacity="0.75"/>
<line x1="509.19" y1="109.63" x2="509.19" y2="110.02" stroke="#2020e8" stroke-width="0.6" opacity="0.75"/>
<line x1="508.39" y1="109.63" x2="509.99" y2="109.63" stroke="#2020e8" stroke-width="0.6" opacity="0.75"/>
<path d="M392.30,109.82 L407.59,105.60 L416.54,81.60 L422.88,86.59 L427.81,91.01 L431.83,96.96 L435.23,99.46 L438.18,102.53 L440.78,104.45 L443.10,105.60 L452.05,109.06 L458.39,109.25 L463.32,109.35 L467.34,109.44 L470.74,109.44 L473.68,109.44 L476.28,109.44 L478.61,109.44 L480.71,109.44 L482.63,109.44 L484.40,109.44 L486.03,109.44 L487.55,109.44 L488.98,109.44 L490.31,109.44 L491.58,109.44 L492.77,109.44 L493.90,109.44 L502.85,109.44 L509.19,109.44" fill="none" stroke="#f03030" stroke-width="0.7" opacity="0.75"/>
<line x1="392.30" y1="109.63" x2="392.30" y2="110.02" stroke="#f03030" stroke-width="0.6" opacity="0.75"/>
<line x1="391.50" y1="109.63" x2="393.10" y2="109.63" stroke="#f03030" stroke-width="0.6" opacity="0.75"/>
<rect x="391.50" y="109.02" width="1.6" height="1.6" fill="#f03030"/>
<line x1="407.59" y1="102.72" x2="407.59" y2="108.48" stroke="#f03030" stroke-width="0.6" opacity="0.75"/>
<line x1="406.79" y1="102.72" x2="408.39" y2="102.72" stroke="#f03030" stroke-width="0.6" opacity="0.75"/>
<rect x="406.79" y="104.80" width="1.6" height="1.6" fill="#f03030"/>
<line x1="416.54" y1="75.84" x2="416.54" y2="87.36" stroke="#f03030" stroke-width="0.6" opacity="0.75"/>
<line x1="415.74" y1="75.84" x2="417.34" y2="75.84" stroke="#f03030" stroke-width="0.6" opacity="0.75"/>
<rect x="415.74" y="80.80" width="1.6" height="1.6" fill="#f03030"/>
<line x1="422.88" y1="81.79" x2="422.88" y2="91.39" stroke="#f03030" stroke-width="0.6" opacity="0.75"/>
<line x1="422.08" y1="81.79" x2="423.68" y2="81.79" stroke="#f03030" stroke-width="0.6" opacity="0.75"/>
<rect x="422.08" y="85.79" width="1.6" height="1.6" fill="#f03030"/>
<line x1="427.81" y1="87.17" x2="427.81" y2="94.85" stroke="#f03030" stroke-width="0.6" opacity="0.75"/>
<line x1="427.01" y1="87.17" x2="428.61" y2="87.17" stroke="#f03030" stroke-width="0.6" opacity="0.75"/>
<rect x="427.01" y="90.21" width="1.6" height="1.6" fill="#f03030"/>
<line x1="431.83" y1="94.08" x2="431.83" y2="99.84" stroke="#f03030" stroke-width="0.6" opacity="0.75"/>
<line x1="431.03" y1="94.08" x2="432.63" y2="94.08" stroke="#f03030" stroke-width="0.6" opacity="0.75"/>
<rect x="431.03" y="96.16" width="1.6" height="1.6" fill="#f03030"/>
<line x1="435.23" y1="97.54" x2="435.23" y2="101.38" stroke="#f03030" stroke-width="0.6" opacity="0.75"/>
<line x1="434.43" y1="97.54" x2="436.03" y2="97.54" stroke="#f03030" stroke-width="0.6" opacity="0.75"/>
<rect x="434.43" y="98.66" width="1.6" height="1.6" fill="#f03030"/>
<line x1="438.18" y1="100.99" x2="438.18" y2="104.06" stroke="#f03030" stroke-width="0.6" opacity="0.75"/>
<line x1="437.38" y1="100.99" x2="438.98" y2="100.99" stroke="#f03030" stroke-width="0.6" opacity="0.75"/>
<rect x="437.38" y="101.73" width="1.6" height="1.6" fill="#f03030"/>
<line x1="440.78" y1="103.30" x2="440.78" y2="105.60" stroke="#f03030" stroke-width="0.6" opacity="0.75"/>
<line x1="439.98" y1="103.30" x2="441.58" y2="103.30" stroke="#f03030" stroke-width="0.6" opacity="0.75"/>
<rect x="439.98" y="103.65" width="1.6" height="1.6" fill="#f03030"/>
<line x1="443.10" y1="104.83" x2="443.10" y2="106.37" stroke="#f03030" stroke-width="0.6" opacity="0.75"/>
<line x1="442.30" y1="104.83" x2="443.90" y2="104.83" stroke="#f03030" stroke-width="0.6" opacity="0.75"/>
<rect x="442.30" y="104.80" width="1.6" height="1.6" fill="#f03030"/>
<line x1="452.05" y1="108.67" x2="452.05" y2="109.44" stroke="#f03030" stroke-width="0.6" opacity="0.75"/>
<line x1="451.25" y1="108.67" x2="452.85" y2="108.67" stroke="#f03030" stroke-width="0.6" opacity="0.75"/>
<rect x="451.25" y="108.26" width="1.6" height="1.6" fill="#f03030"/>
<line x1="458.39" y1="108.89" x2="458.39" y2="109.61" stroke="#f03030" stroke-width="0.6" opacity="0.75"/>
<line x1="457.59" y1="108.89" x2="459.19" y2="108.89" stroke="#f03030" stroke-width="0.6" opacity="0.75"/>
<rect x="457.59" y="108.45" width="1.6" height="1.6" fill="#f03030"/>
<line x1="463.32" y1="109.01" x2="463.32" y2="109.70" stroke="#f03030" stroke-width="0.6" opacity="0.75"/>
<line x1="462.52" y1="109.01" x2="464.12" y2="109.01" stroke="#f03030" stroke-width="0.6" opacity="0.75"/>
<rect x="462.52" y="108.55" width="1.6" height="1.6" fill="#f03030"/>
<line x1="467.34" y1="109.11" x2="467.34" y2="109.77" stroke="#f03030" stroke-width="0.6" opacity="0.75"/>
<line x1="466.54" y1="109.11" x2="468.14" y2="109.11" stroke="#f03030" stroke-width="0.6" opacity="0.75"/>
<rect x="466.54" y="108.64" width="1.6" height="1.6" fill="#f03030"/>
<line x1="470.74" y1="109.12" x2="470.74" y2="109.76" stroke="#f03030" stroke-width="0.6" opacity="0.75"/>
<line x1="469.94" y1="109.12" x2="471.54" y2="109.12" stroke="#f03030" stroke-width="0.6" opacity="0.75"/>
<rect x="469.94" y="108.64" width="1.6" height="1.6" fill="#f03030"/>
<line x1="473.68" y1="109.13" x2="473.68" y2="109.75" stroke="#f03030" stroke-width="0.6" opacity="0.75"/>
<line x1="472.88" y1="109.13" x2="474.48" y2="109.13" stroke="#f03030" stroke-width="0.6" opacity="0.75"/>
<rect x="472.88" y="108.64" width="1.6" height="1.6" fill="#f03030"/>
<line x1="476.28" y1="109.14" x2="476.28" y2="109.74" stroke="#f03030" stroke-width="0.6" opacity="0.75"/>
<line x1="475.48" y1="109.14" x2="477.08" y2="109.14" stroke="#f03030" stroke-width="0.6" opacity="0.75"/>
<rect x="475.48" y="108.64" width="1.6" height="1.6" fill="#f03030"/>
<line x1="478.61" y1="109.15" x2="478.61" y2="109.73" stroke="#f03030" stroke-width="0.6" opacity="0.75"/>
<line x1="477.81" y1="109.15" x2="479.41" y2="109.15" stroke="#f03030" stroke-width="0.6" opacity="0.75"/>
<rect x="477.81" y="108.64" width="1.6" height="1.6" fill="#f03030"/>
<line x1="480.71" y1="109.15" x2="480.71" y2="109.73" stroke="#f03030" stroke-width="0.6" opacity="0.75"/>
<line x1="479.91" y1="109.15" x2="481.51" y2="109.15" stroke="#f03030" stroke-width="0.6" opacity="0.75"/>
<rect x="479.91" y="108.64" width="1.6" height="1.6" fill="#f03030"/>
<line x1="482.63" y1="109.16" x2="482.63" y2="109.72" stroke="#f03030" stroke-width="0.6" opacity="0.75"/>
<line x1="481.83" y1="109.16" x2="483.43" y2="109.16" stroke="#f03030" stroke-width="0.6" opacity="0.75"/>
<rect x="481.83" y="108.64" width="1.6" height="1.6" fill="#f03030"/>
<line x1="484.40" y1="109.16" x2="484.40" y2="109.72" stroke="#f03030" stroke-width="0.6" opacity="0.75"/>
<line x1="483.60" y1="109.16" x2="485.20" y2="109.16" stroke="#f03030" stroke-width="0.6" opacity="0.75"/>
<rect x="483.60" y="108.64" width="1.6" height="1.6" fill="#f03030"/>
<line x1="486.03" y1="109.17" x2="486.03" y2="109.71" stroke="#f03030" stroke-width="0.6" opacity="0.75"/>
<line x1="485.23" y1="109.17" x2="486.83" y2="109.17" stroke="#f03030" stroke-width="0.6" opacity="0.75"/>
<rect x="485.23" y="108.64" width="1.6" height="1.6" fill="#f03030"/>
<line x1="487.55" y1="109.18" x2="487.55" y2="109.70" stroke="#f03030" stroke-width="0.6" opacity="0.75"/>
<line x1="486.75" y1="109.18" x2="488.35" y2="109.18" stroke="#f03030" stroke-width="0.6" opacity="0.75"/>
<rect x="486.75" y="108.64" width="1.6" height="1.6" fill="#f03030"/>
<line x1="488.98" y1="109.18" x2="488.98" y2="109.70" stroke="#f03030" stroke-width="0.6" opacity="0.75"/>
<line x1="488.18" y1="109.18" x2="489.78" y2="109.18" stroke="#f03030" stroke-width="0.6" opacity="0.75"/>
<rect x="488.18" y="108.64" width="1.6" height="1.6" fill="#f03030"/>
<line x1="490.31" y1="109.18" x2="490.31" y2="109.70" stroke="#f03030" stroke-width="0.6" opacity="0.75"/>
<line x1="489.51" y1="109.18" x2="491.11" y2="109.18" stroke="#f03030" stroke-width="0.6" opacity="0.75"/>
<rect x="489.51" y="108.64" width="1.6" height="1.6" fill="#f03030"/>
<line x1="491.58" y1="109.19" x2="491.58" y2="109.69" stroke="#f03030" stroke-width="0.6" opacity="0.75"/>
<line x1="490.78" y1="109.19" x2="492.38" y2="109.19" stroke="#f03030" stroke-width="0.6" opacity="0.75"/>
<rect x="490.78" y="108.64" width="1.6" height="1.6" fill="#f03030"/>
<line x1="492.77" y1="109.19" x2="492.77" y2="109.69" stroke="#f03030" stroke-width="0.6" opacity="0.75"/>
<line x1="491.97" y1="109.19" x2="493.57" y2="109.19" stroke="#f03030" stroke-width="0.6" opacity="0.75"/>
<rect x="491.97" y="108.64" width="1.6" height="1.6" fill="#f03030"/>
<line x1="493.90" y1="109.20" x2="493.90" y2="109.68" stroke="#f03030" stroke-width="0.6" opacity="0.75"/>
<line x1="493.10" y1="109.20" x2="494.70" y2="109.20" stroke="#f03030" stroke-width="0.6" opacity="0.75"/>
<rect x="493.10" y="108.64" width="1.6" height="1.6" fill="#f03030"/>
<line x1="502.85" y1="109.23" x2="502.85" y2="109.65" stroke="#f03030" stroke-width="0.6" opacity="0.75"/>
<line x1="502.05" y1="109.23" x2="503.65" y2="109.23" stroke="#f03030" stroke-width="0.6" opacity="0.75"/>
<line x1="509.19" y1="109.25" x2="509.19" y2="109.63" stroke="#f03030" stroke-width="0.6" opacity="0.75"/>
<line x1="508.39" y1="109.25" x2="509.99" y2="109.25" stroke="#f03030" stroke-width="0.6" opacity="0.75"/>
<line x1="562.90" y1="33.50" x2="562.90" y2="110.90" stroke="#a4a4a4" stroke-width="0.9" />
<line x1="560.70" y1="110.60" x2="562.90" y2="110.60" stroke="#a4a4a4" stroke-width="0.9" />
<text x="560.20" y="116.36" font-size="9.6" text-anchor="end" font-weight="normal" font-style="normal" fill="#231f20" >0</text>
<line x1="560.70" y1="91.40" x2="562.90" y2="91.40" stroke="#a4a4a4" stroke-width="0.9" />
<text x="560.20" y="96.76" font-size="9.6" text-anchor="end" font-weight="normal" font-style="normal" fill="#231f20" >100</text>
<line x1="560.70" y1="72.20" x2="562.90" y2="72.20" stroke="#a4a4a4" stroke-width="0.9" />
<text x="560.20" y="76.86" font-size="9.6" text-anchor="end" font-weight="normal" font-style="normal" fill="#231f20" >200</text>
<line x1="560.70" y1="53.00" x2="562.90" y2="53.00" stroke="#a4a4a4" stroke-width="0.9" />
<text x="560.20" y="56.96" font-size="9.6" text-anchor="end" font-weight="normal" font-style="normal" fill="#231f20" >300</text>
<line x1="560.70" y1="33.80" x2="562.90" y2="33.80" stroke="#a4a4a4" stroke-width="0.9" />
<text x="560.20" y="36.96" font-size="9.6" text-anchor="end" font-weight="normal" font-style="normal" fill="#231f20" >400</text>
<line x1="565.50" y1="113.70" x2="684.62" y2="113.70" stroke="#a4a4a4" stroke-width="0.9" />
<line x1="566.00" y1="113.70" x2="566.00" y2="115.00" stroke="#a4a4a4" stroke-width="0.6" />
<line x1="581.32" y1="113.70" x2="581.32" y2="115.00" stroke="#a4a4a4" stroke-width="0.6" />
<line x1="590.29" y1="113.70" x2="590.29" y2="115.00" stroke="#a4a4a4" stroke-width="0.6" />
<line x1="596.64" y1="113.70" x2="596.64" y2="115.00" stroke="#a4a4a4" stroke-width="0.6" />
<line x1="601.58" y1="113.70" x2="601.58" y2="115.00" stroke="#a4a4a4" stroke-width="0.6" />
<line x1="605.61" y1="113.70" x2="605.61" y2="115.00" stroke="#a4a4a4" stroke-width="0.6" />
<line x1="609.02" y1="113.70" x2="609.02" y2="115.00" stroke="#a4a4a4" stroke-width="0.6" />
<line x1="611.97" y1="113.70" x2="611.97" y2="115.00" stroke="#a4a4a4" stroke-width="0.6" />
<line x1="614.57" y1="113.70" x2="614.57" y2="115.00" stroke="#a4a4a4" stroke-width="0.6" />
<line x1="616.90" y1="113.70" x2="616.90" y2="115.00" stroke="#a4a4a4" stroke-width="0.6" />
<line x1="632.22" y1="113.70" x2="632.22" y2="115.00" stroke="#a4a4a4" stroke-width="0.6" />
<line x1="641.19" y1="113.70" x2="641.19" y2="115.00" stroke="#a4a4a4" stroke-width="0.6" />
<line x1="647.54" y1="113.70" x2="647.54" y2="115.00" stroke="#a4a4a4" stroke-width="0.6" />
<line x1="652.48" y1="113.70" x2="652.48" y2="115.00" stroke="#a4a4a4" stroke-width="0.6" />
<line x1="656.51" y1="113.70" x2="656.51" y2="115.00" stroke="#a4a4a4" stroke-width="0.6" />
<line x1="659.92" y1="113.70" x2="659.92" y2="115.00" stroke="#a4a4a4" stroke-width="0.6" />
<line x1="662.87" y1="113.70" x2="662.87" y2="115.00" stroke="#a4a4a4" stroke-width="0.6" />
<line x1="665.47" y1="113.70" x2="665.47" y2="115.00" stroke="#a4a4a4" stroke-width="0.6" />
<line x1="667.80" y1="113.70" x2="667.80" y2="115.00" stroke="#a4a4a4" stroke-width="0.6" />
<line x1="683.12" y1="113.70" x2="683.12" y2="115.00" stroke="#a4a4a4" stroke-width="0.6" />
<text x="566.00" y="125.00" font-size="9.1" text-anchor="middle" font-weight="normal" font-style="normal" fill="#231f20" >100</text>
<text x="616.90" y="125.00" font-size="9.1" text-anchor="middle" font-weight="normal" font-style="normal" fill="#231f20" >1,000</text>
<text x="667.80" y="125.00" font-size="9.1" text-anchor="middle" font-weight="normal" font-style="normal" fill="#231f20" >10,000</text>
<text x="624.00" y="140.10" font-size="10.75" text-anchor="middle" font-weight="normal" font-style="normal" fill="#231f20" >Size range</text>
<text transform="translate(536.40,71.70) rotate(-90)" font-size="10.8" text-anchor="middle" fill="#231f20">SAT adipocyte number</text>
<text x="529.50" y="13.60" font-size="19" text-anchor="start" font-weight="bold" font-style="normal" fill="#000" >f</text>
<path d="M566.00,110.41 L581.32,95.62 L590.29,84.10 L596.64,86.02 L601.58,88.52 L605.61,91.40 L609.02,93.90 L611.97,97.16 L614.57,99.66 L616.90,102.15 L625.86,108.87 L632.22,109.83 L637.16,110.04 L641.19,110.22 L644.59,110.24 L647.54,110.26 L650.15,110.28 L652.48,110.30 L654.58,110.31 L656.51,110.33 L658.28,110.34 L659.92,110.35 L661.44,110.36 L662.87,110.37 L664.21,110.38 L665.47,110.39 L666.67,110.40 L667.80,110.41 L676.76,110.41 L683.12,110.41" fill="none" stroke="#222" stroke-width="0.7" opacity="0.8"/>
<line x1="566.00" y1="110.22" x2="566.00" y2="110.60" stroke="#222" stroke-width="0.6" opacity="0.75"/>
<line x1="565.20" y1="110.22" x2="566.80" y2="110.22" stroke="#222" stroke-width="0.6" opacity="0.75"/>
<rect x="565.20" y="109.61" width="1.6" height="1.6" fill="#222"/>
<line x1="581.32" y1="92.74" x2="581.32" y2="98.50" stroke="#222" stroke-width="0.6" opacity="0.75"/>
<line x1="580.52" y1="92.74" x2="582.12" y2="92.74" stroke="#222" stroke-width="0.6" opacity="0.75"/>
<rect x="580.52" y="94.82" width="1.6" height="1.6" fill="#222"/>
<line x1="590.29" y1="79.30" x2="590.29" y2="88.90" stroke="#222" stroke-width="0.6" opacity="0.75"/>
<line x1="589.49" y1="79.30" x2="591.09" y2="79.30" stroke="#222" stroke-width="0.6" opacity="0.75"/>
<rect x="589.49" y="83.30" width="1.6" height="1.6" fill="#222"/>
<line x1="596.64" y1="83.14" x2="596.64" y2="88.90" stroke="#222" stroke-width="0.6" opacity="0.75"/>
<line x1="595.84" y1="83.14" x2="597.44" y2="83.14" stroke="#222" stroke-width="0.6" opacity="0.75"/>
<rect x="595.84" y="85.22" width="1.6" height="1.6" fill="#222"/>
<line x1="601.58" y1="86.22" x2="601.58" y2="90.82" stroke="#222" stroke-width="0.6" opacity="0.75"/>
<line x1="600.78" y1="86.22" x2="602.38" y2="86.22" stroke="#222" stroke-width="0.6" opacity="0.75"/>
<rect x="600.78" y="87.72" width="1.6" height="1.6" fill="#222"/>
<line x1="605.61" y1="89.48" x2="605.61" y2="93.32" stroke="#222" stroke-width="0.6" opacity="0.75"/>
<line x1="604.81" y1="89.48" x2="606.41" y2="89.48" stroke="#222" stroke-width="0.6" opacity="0.75"/>
<rect x="604.81" y="90.60" width="1.6" height="1.6" fill="#222"/>
<line x1="609.02" y1="92.36" x2="609.02" y2="95.43" stroke="#222" stroke-width="0.6" opacity="0.75"/>
<line x1="608.22" y1="92.36" x2="609.82" y2="92.36" stroke="#222" stroke-width="0.6" opacity="0.75"/>
<rect x="608.22" y="93.10" width="1.6" height="1.6" fill="#222"/>
<line x1="611.97" y1="96.01" x2="611.97" y2="98.31" stroke="#222" stroke-width="0.6" opacity="0.75"/>
<line x1="611.17" y1="96.01" x2="612.77" y2="96.01" stroke="#222" stroke-width="0.6" opacity="0.75"/>
<rect x="611.17" y="96.36" width="1.6" height="1.6" fill="#222"/>
<line x1="614.57" y1="98.70" x2="614.57" y2="100.62" stroke="#222" stroke-width="0.6" opacity="0.75"/>
<line x1="613.77" y1="98.70" x2="615.37" y2="98.70" stroke="#222" stroke-width="0.6" opacity="0.75"/>
<rect x="613.77" y="98.86" width="1.6" height="1.6" fill="#222"/>
<line x1="616.90" y1="101.38" x2="616.90" y2="102.92" stroke="#222" stroke-width="0.6" opacity="0.75"/>
<line x1="616.10" y1="101.38" x2="617.70" y2="101.38" stroke="#222" stroke-width="0.6" opacity="0.75"/>
<rect x="616.10" y="101.35" width="1.6" height="1.6" fill="#222"/>
<line x1="625.86" y1="108.49" x2="625.86" y2="109.26" stroke="#222" stroke-width="0.6" opacity="0.75"/>
<line x1="625.06" y1="108.49" x2="626.66" y2="108.49" stroke="#222" stroke-width="0.6" opacity="0.75"/>
<rect x="625.06" y="108.07" width="1.6" height="1.6" fill="#222"/>
<line x1="632.22" y1="109.47" x2="632.22" y2="110.19" stroke="#222" stroke-width="0.6" opacity="0.75"/>
<line x1="631.42" y1="109.47" x2="633.02" y2="109.47" stroke="#222" stroke-width="0.6" opacity="0.75"/>
<rect x="631.42" y="109.03" width="1.6" height="1.6" fill="#222"/>
<line x1="637.16" y1="109.70" x2="637.16" y2="110.39" stroke="#222" stroke-width="0.6" opacity="0.75"/>
<line x1="636.36" y1="109.70" x2="637.96" y2="109.70" stroke="#222" stroke-width="0.6" opacity="0.75"/>
<rect x="636.36" y="109.24" width="1.6" height="1.6" fill="#222"/>
<line x1="641.19" y1="109.88" x2="641.19" y2="110.55" stroke="#222" stroke-width="0.6" opacity="0.75"/>
<line x1="640.39" y1="109.88" x2="641.99" y2="109.88" stroke="#222" stroke-width="0.6" opacity="0.75"/>
<rect x="640.39" y="109.42" width="1.6" height="1.6" fill="#222"/>
<line x1="644.59" y1="109.92" x2="644.59" y2="110.56" stroke="#222" stroke-width="0.6" opacity="0.75"/>
<line x1="643.79" y1="109.92" x2="645.39" y2="109.92" stroke="#222" stroke-width="0.6" opacity="0.75"/>
<rect x="643.79" y="109.44" width="1.6" height="1.6" fill="#222"/>
<line x1="647.54" y1="109.95" x2="647.54" y2="110.57" stroke="#222" stroke-width="0.6" opacity="0.75"/>
<line x1="646.74" y1="109.95" x2="648.34" y2="109.95" stroke="#222" stroke-width="0.6" opacity="0.75"/>
<rect x="646.74" y="109.46" width="1.6" height="1.6" fill="#222"/>
<line x1="650.15" y1="109.98" x2="650.15" y2="110.58" stroke="#222" stroke-width="0.6" opacity="0.75"/>
<line x1="649.35" y1="109.98" x2="650.95" y2="109.98" stroke="#222" stroke-width="0.6" opacity="0.75"/>
<rect x="649.35" y="109.48" width="1.6" height="1.6" fill="#222"/>
<line x1="652.48" y1="110.00" x2="652.48" y2="110.59" stroke="#222" stroke-width="0.6" opacity="0.75"/>
<line x1="651.68" y1="110.00" x2="653.28" y2="110.00" stroke="#222" stroke-width="0.6" opacity="0.75"/>
<rect x="651.68" y="109.50" width="1.6" height="1.6" fill="#222"/>
<line x1="654.58" y1="110.02" x2="654.58" y2="110.60" stroke="#222" stroke-width="0.6" opacity="0.75"/>
<line x1="653.78" y1="110.02" x2="655.38" y2="110.02" stroke="#222" stroke-width="0.6" opacity="0.75"/>
<rect x="653.78" y="109.51" width="1.6" height="1.6" fill="#222"/>
<line x1="656.51" y1="110.05" x2="656.51" y2="110.60" stroke="#222" stroke-width="0.6" opacity="0.75"/>
<line x1="655.71" y1="110.05" x2="657.31" y2="110.05" stroke="#222" stroke-width="0.6" opacity="0.75"/>
<rect x="655.71" y="109.53" width="1.6" height="1.6" fill="#222"/>
<line x1="658.28" y1="110.06" x2="658.28" y2="110.60" stroke="#222" stroke-width="0.6" opacity="0.75"/>
<line x1="657.48" y1="110.06" x2="659.08" y2="110.06" stroke="#222" stroke-width="0.6" opacity="0.75"/>
<rect x="657.48" y="109.54" width="1.6" height="1.6" fill="#222"/>
<line x1="659.92" y1="110.08" x2="659.92" y2="110.60" stroke="#222" stroke-width="0.6" opacity="0.75"/>
<line x1="659.12" y1="110.08" x2="660.72" y2="110.08" stroke="#222" stroke-width="0.6" opacity="0.75"/>
<rect x="659.12" y="109.55" width="1.6" height="1.6" fill="#222"/>
<line x1="661.44" y1="110.10" x2="661.44" y2="110.60" stroke="#222" stroke-width="0.6" opacity="0.75"/>
<line x1="660.64" y1="110.10" x2="662.24" y2="110.10" stroke="#222" stroke-width="0.6" opacity="0.75"/>
<rect x="660.64" y="109.56" width="1.6" height="1.6" fill="#222"/>
<line x1="662.87" y1="110.11" x2="662.87" y2="110.60" stroke="#222" stroke-width="0.6" opacity="0.75"/>
<line x1="662.07" y1="110.11" x2="663.67" y2="110.11" stroke="#222" stroke-width="0.6" opacity="0.75"/>
<rect x="662.07" y="109.57" width="1.6" height="1.6" fill="#222"/>
<line x1="664.21" y1="110.13" x2="664.21" y2="110.60" stroke="#222" stroke-width="0.6" opacity="0.75"/>
<line x1="663.41" y1="110.13" x2="665.01" y2="110.13" stroke="#222" stroke-width="0.6" opacity="0.75"/>
<rect x="663.41" y="109.58" width="1.6" height="1.6" fill="#222"/>
<line x1="665.47" y1="110.14" x2="665.47" y2="110.60" stroke="#222" stroke-width="0.6" opacity="0.75"/>
<line x1="664.67" y1="110.14" x2="666.27" y2="110.14" stroke="#222" stroke-width="0.6" opacity="0.75"/>
<rect x="664.67" y="109.59" width="1.6" height="1.6" fill="#222"/>
<line x1="666.67" y1="110.15" x2="666.67" y2="110.60" stroke="#222" stroke-width="0.6" opacity="0.75"/>
<line x1="665.87" y1="110.15" x2="667.47" y2="110.15" stroke="#222" stroke-width="0.6" opacity="0.75"/>
<rect x="665.87" y="109.60" width="1.6" height="1.6" fill="#222"/>
<line x1="667.80" y1="110.16" x2="667.80" y2="110.60" stroke="#222" stroke-width="0.6" opacity="0.75"/>
<line x1="667.00" y1="110.16" x2="668.60" y2="110.16" stroke="#222" stroke-width="0.6" opacity="0.75"/>
<rect x="667.00" y="109.61" width="1.6" height="1.6" fill="#222"/>
<line x1="676.76" y1="110.19" x2="676.76" y2="110.60" stroke="#222" stroke-width="0.6" opacity="0.75"/>
<line x1="675.96" y1="110.19" x2="677.56" y2="110.19" stroke="#222" stroke-width="0.6" opacity="0.75"/>
<line x1="683.12" y1="110.22" x2="683.12" y2="110.60" stroke="#222" stroke-width="0.6" opacity="0.75"/>
<line x1="682.32" y1="110.22" x2="683.92" y2="110.22" stroke="#222" stroke-width="0.6" opacity="0.75"/>
<path d="M566.00,110.41 L581.32,93.70 L590.29,72.97 L596.64,78.54 L601.58,85.06 L605.61,90.44 L609.02,93.32 L611.97,96.20 L614.57,98.89 L616.90,101.38 L625.86,109.06 L632.22,110.02 L637.16,110.24 L641.19,110.41 L644.59,110.41 L647.54,110.41 L650.15,110.41 L652.48,110.41 L654.58,110.41 L656.51,110.41 L658.28,110.41 L659.92,110.41 L661.44,110.41 L662.87,110.41 L664.21,110.41 L665.47,110.41 L666.67,110.41 L667.80,110.41 L676.76,110.41 L683.12,110.41" fill="none" stroke="#3cc83c" stroke-width="0.8" opacity="0.85"/>
<line x1="566.00" y1="110.22" x2="566.00" y2="110.60" stroke="#3cc83c" stroke-width="0.6" opacity="0.75"/>
<line x1="565.20" y1="110.22" x2="566.80" y2="110.22" stroke="#3cc83c" stroke-width="0.6" opacity="0.75"/>
<rect x="565.20" y="109.61" width="1.6" height="1.6" fill="#3cc83c"/>
<line x1="581.32" y1="89.86" x2="581.32" y2="97.54" stroke="#3cc83c" stroke-width="0.6" opacity="0.75"/>
<line x1="580.52" y1="89.86" x2="582.12" y2="89.86" stroke="#3cc83c" stroke-width="0.6" opacity="0.75"/>
<rect x="580.52" y="92.90" width="1.6" height="1.6" fill="#3cc83c"/>
<line x1="590.29" y1="65.29" x2="590.29" y2="80.65" stroke="#3cc83c" stroke-width="0.6" opacity="0.75"/>
<line x1="589.49" y1="65.29" x2="591.09" y2="65.29" stroke="#3cc83c" stroke-width="0.6" opacity="0.75"/>
<rect x="589.49" y="72.17" width="1.6" height="1.6" fill="#3cc83c"/>
<line x1="596.64" y1="73.74" x2="596.64" y2="83.34" stroke="#3cc83c" stroke-width="0.6" opacity="0.75"/>
<line x1="595.84" y1="73.74" x2="597.44" y2="73.74" stroke="#3cc83c" stroke-width="0.6" opacity="0.75"/>
<rect x="595.84" y="77.74" width="1.6" height="1.6" fill="#3cc83c"/>
<line x1="601.58" y1="81.61" x2="601.58" y2="88.52" stroke="#3cc83c" stroke-width="0.6" opacity="0.75"/>
<line x1="600.78" y1="81.61" x2="602.38" y2="81.61" stroke="#3cc83c" stroke-width="0.6" opacity="0.75"/>
<rect x="600.78" y="84.26" width="1.6" height="1.6" fill="#3cc83c"/>
<line x1="605.61" y1="88.14" x2="605.61" y2="92.74" stroke="#3cc83c" stroke-width="0.6" opacity="0.75"/>
<line x1="604.81" y1="88.14" x2="606.41" y2="88.14" stroke="#3cc83c" stroke-width="0.6" opacity="0.75"/>
<rect x="604.81" y="89.64" width="1.6" height="1.6" fill="#3cc83c"/>
<line x1="609.02" y1="91.40" x2="609.02" y2="95.24" stroke="#3cc83c" stroke-width="0.6" opacity="0.75"/>
<line x1="608.22" y1="91.40" x2="609.82" y2="91.40" stroke="#3cc83c" stroke-width="0.6" opacity="0.75"/>
<rect x="608.22" y="92.52" width="1.6" height="1.6" fill="#3cc83c"/>
<line x1="611.97" y1="94.66" x2="611.97" y2="97.74" stroke="#3cc83c" stroke-width="0.6" opacity="0.75"/>
<line x1="611.17" y1="94.66" x2="612.77" y2="94.66" stroke="#3cc83c" stroke-width="0.6" opacity="0.75"/>
<rect x="611.17" y="95.40" width="1.6" height="1.6" fill="#3cc83c"/>
<line x1="614.57" y1="97.74" x2="614.57" y2="100.04" stroke="#3cc83c" stroke-width="0.6" opacity="0.75"/>
<line x1="613.77" y1="97.74" x2="615.37" y2="97.74" stroke="#3cc83c" stroke-width="0.6" opacity="0.75"/>
<rect x="613.77" y="98.09" width="1.6" height="1.6" fill="#3cc83c"/>
<line x1="616.90" y1="100.42" x2="616.90" y2="102.34" stroke="#3cc83c" stroke-width="0.6" opacity="0.75"/>
<line x1="616.10" y1="100.42" x2="617.70" y2="100.42" stroke="#3cc83c" stroke-width="0.6" opacity="0.75"/>
<rect x="616.10" y="100.58" width="1.6" height="1.6" fill="#3cc83c"/>
<line x1="625.86" y1="108.49" x2="625.86" y2="109.64" stroke="#3cc83c" stroke-width="0.6" opacity="0.75"/>
<line x1="625.06" y1="108.49" x2="626.66" y2="108.49" stroke="#3cc83c" stroke-width="0.6" opacity="0.75"/>
<rect x="625.06" y="108.26" width="1.6" height="1.6" fill="#3cc83c"/>
<line x1="632.22" y1="109.49" x2="632.22" y2="110.56" stroke="#3cc83c" stroke-width="0.6" opacity="0.75"/>
<line x1="631.42" y1="109.49" x2="633.02" y2="109.49" stroke="#3cc83c" stroke-width="0.6" opacity="0.75"/>
<rect x="631.42" y="109.22" width="1.6" height="1.6" fill="#3cc83c"/>
<line x1="637.16" y1="109.74" x2="637.16" y2="110.60" stroke="#3cc83c" stroke-width="0.6" opacity="0.75"/>
<line x1="636.36" y1="109.74" x2="637.96" y2="109.74" stroke="#3cc83c" stroke-width="0.6" opacity="0.75"/>
<rect x="636.36" y="109.44" width="1.6" height="1.6" fill="#3cc83c"/>
<line x1="641.19" y1="109.93" x2="641.19" y2="110.60" stroke="#3cc83c" stroke-width="0.6" opacity="0.75"/>
<line x1="640.39" y1="109.93" x2="641.99" y2="109.93" stroke="#3cc83c" stroke-width="0.6" opacity="0.75"/>
<rect x="640.39" y="109.61" width="1.6" height="1.6" fill="#3cc83c"/>
<line x1="644.59" y1="109.96" x2="644.59" y2="110.60" stroke="#3cc83c" stroke-width="0.6" opacity="0.75"/>
<line x1="643.79" y1="109.96" x2="645.39" y2="109.96" stroke="#3cc83c" stroke-width="0.6" opacity="0.75"/>
<rect x="643.79" y="109.61" width="1.6" height="1.6" fill="#3cc83c"/>
<line x1="647.54" y1="109.98" x2="647.54" y2="110.60" stroke="#3cc83c" stroke-width="0.6" opacity="0.75"/>
<line x1="646.74" y1="109.98" x2="648.34" y2="109.98" stroke="#3cc83c" stroke-width="0.6" opacity="0.75"/>
<rect x="646.74" y="109.61" width="1.6" height="1.6" fill="#3cc83c"/>
<line x1="650.15" y1="109.99" x2="650.15" y2="110.60" stroke="#3cc83c" stroke-width="0.6" opacity="0.75"/>
<line x1="649.35" y1="109.99" x2="650.95" y2="109.99" stroke="#3cc83c" stroke-width="0.6" opacity="0.75"/>
<rect x="649.35" y="109.61" width="1.6" height="1.6" fill="#3cc83c"/>
<line x1="652.48" y1="110.01" x2="652.48" y2="110.60" stroke="#3cc83c" stroke-width="0.6" opacity="0.75"/>
<line x1="651.68" y1="110.01" x2="653.28" y2="110.01" stroke="#3cc83c" stroke-width="0.6" opacity="0.75"/>
<rect x="651.68" y="109.61" width="1.6" height="1.6" fill="#3cc83c"/>
<line x1="654.58" y1="110.02" x2="654.58" y2="110.60" stroke="#3cc83c" stroke-width="0.6" opacity="0.75"/>
<line x1="653.78" y1="110.02" x2="655.38" y2="110.02" stroke="#3cc83c" stroke-width="0.6" opacity="0.75"/>
<rect x="653.78" y="109.61" width="1.6" height="1.6" fill="#3cc83c"/>
<line x1="656.51" y1="110.04" x2="656.51" y2="110.60" stroke="#3cc83c" stroke-width="0.6" opacity="0.75"/>
<line x1="655.71" y1="110.04" x2="657.31" y2="110.04" stroke="#3cc83c" stroke-width="0.6" opacity="0.75"/>
<rect x="655.71" y="109.61" width="1.6" height="1.6" fill="#3cc83c"/>
<line x1="658.28" y1="110.05" x2="658.28" y2="110.60" stroke="#3cc83c" stroke-width="0.6" opacity="0.75"/>
<line x1="657.48" y1="110.05" x2="659.08" y2="110.05" stroke="#3cc83c" stroke-width="0.6" opacity="0.75"/>
<rect x="657.48" y="109.61" width="1.6" height="1.6" fill="#3cc83c"/>
<line x1="659.92" y1="110.06" x2="659.92" y2="110.60" stroke="#3cc83c" stroke-width="0.6" opacity="0.75"/>
<line x1="659.12" y1="110.06" x2="660.72" y2="110.06" stroke="#3cc83c" stroke-width="0.6" opacity="0.75"/>
<rect x="659.12" y="109.61" width="1.6" height="1.6" fill="#3cc83c"/>
<line x1="661.44" y1="110.07" x2="661.44" y2="110.60" stroke="#3cc83c" stroke-width="0.6" opacity="0.75"/>
<line x1="660.64" y1="110.07" x2="662.24" y2="110.07" stroke="#3cc83c" stroke-width="0.6" opacity="0.75"/>
<rect x="660.64" y="109.61" width="1.6" height="1.6" fill="#3cc83c"/>
<line x1="662.87" y1="110.08" x2="662.87" y2="110.60" stroke="#3cc83c" stroke-width="0.6" opacity="0.75"/>
<line x1="662.07" y1="110.08" x2="663.67" y2="110.08" stroke="#3cc83c" stroke-width="0.6" opacity="0.75"/>
<rect x="662.07" y="109.61" width="1.6" height="1.6" fill="#3cc83c"/>
<line x1="664.21" y1="110.09" x2="664.21" y2="110.60" stroke="#3cc83c" stroke-width="0.6" opacity="0.75"/>
<line x1="663.41" y1="110.09" x2="665.01" y2="110.09" stroke="#3cc83c" stroke-width="0.6" opacity="0.75"/>
<rect x="663.41" y="109.61" width="1.6" height="1.6" fill="#3cc83c"/>
<line x1="665.47" y1="110.10" x2="665.47" y2="110.60" stroke="#3cc83c" stroke-width="0.6" opacity="0.75"/>
<line x1="664.67" y1="110.10" x2="666.27" y2="110.10" stroke="#3cc83c" stroke-width="0.6" opacity="0.75"/>
<rect x="664.67" y="109.61" width="1.6" height="1.6" fill="#3cc83c"/>
<line x1="666.67" y1="110.11" x2="666.67" y2="110.60" stroke="#3cc83c" stroke-width="0.6" opacity="0.75"/>
<line x1="665.87" y1="110.11" x2="667.47" y2="110.11" stroke="#3cc83c" stroke-width="0.6" opacity="0.75"/>
<rect x="665.87" y="109.61" width="1.6" height="1.6" fill="#3cc83c"/>
<line x1="667.80" y1="110.11" x2="667.80" y2="110.60" stroke="#3cc83c" stroke-width="0.6" opacity="0.75"/>
<line x1="667.00" y1="110.11" x2="668.60" y2="110.11" stroke="#3cc83c" stroke-width="0.6" opacity="0.75"/>
<rect x="667.00" y="109.61" width="1.6" height="1.6" fill="#3cc83c"/>
<line x1="676.76" y1="110.17" x2="676.76" y2="110.60" stroke="#3cc83c" stroke-width="0.6" opacity="0.75"/>
<line x1="675.96" y1="110.17" x2="677.56" y2="110.17" stroke="#3cc83c" stroke-width="0.6" opacity="0.75"/>
<line x1="683.12" y1="110.22" x2="683.12" y2="110.60" stroke="#3cc83c" stroke-width="0.6" opacity="0.75"/>
<line x1="682.32" y1="110.22" x2="683.92" y2="110.22" stroke="#3cc83c" stroke-width="0.6" opacity="0.75"/>
<path d="M566.00,110.41 L581.32,105.61 L590.29,94.28 L596.64,97.16 L601.58,100.04 L605.61,102.15 L609.02,104.65 L611.97,105.03 L614.57,105.61 L616.90,105.99 L625.86,107.53 L632.22,107.91 L637.16,108.23 L641.19,108.49 L644.59,108.72 L647.54,108.92 L650.15,109.10 L652.48,109.26 L654.58,109.36 L656.51,109.46 L658.28,109.55 L659.92,109.63 L661.44,109.71 L662.87,109.78 L664.21,109.84 L665.47,109.91 L666.67,109.97 L667.80,110.02 L676.76,110.14 L683.12,110.22" fill="none" stroke="#2020e8" stroke-width="0.8" opacity="0.85"/>
<line x1="566.00" y1="110.22" x2="566.00" y2="110.60" stroke="#2020e8" stroke-width="0.6" opacity="0.75"/>
<line x1="565.20" y1="110.22" x2="566.80" y2="110.22" stroke="#2020e8" stroke-width="0.6" opacity="0.75"/>
<rect x="565.20" y="109.61" width="1.6" height="1.6" fill="#2020e8"/>
<line x1="581.32" y1="102.73" x2="581.32" y2="108.49" stroke="#2020e8" stroke-width="0.6" opacity="0.75"/>
<line x1="580.52" y1="102.73" x2="582.12" y2="102.73" stroke="#2020e8" stroke-width="0.6" opacity="0.75"/>
<rect x="580.52" y="104.81" width="1.6" height="1.6" fill="#2020e8"/>
<line x1="590.29" y1="89.48" x2="590.29" y2="99.08" stroke="#2020e8" stroke-width="0.6" opacity="0.75"/>
<line x1="589.49" y1="89.48" x2="591.09" y2="89.48" stroke="#2020e8" stroke-width="0.6" opacity="0.75"/>
<rect x="589.49" y="93.48" width="1.6" height="1.6" fill="#2020e8"/>
<line x1="596.64" y1="94.28" x2="596.64" y2="100.04" stroke="#2020e8" stroke-width="0.6" opacity="0.75"/>
<line x1="595.84" y1="94.28" x2="597.44" y2="94.28" stroke="#2020e8" stroke-width="0.6" opacity="0.75"/>
<rect x="595.84" y="96.36" width="1.6" height="1.6" fill="#2020e8"/>
<line x1="601.58" y1="98.12" x2="601.58" y2="101.96" stroke="#2020e8" stroke-width="0.6" opacity="0.75"/>
<line x1="600.78" y1="98.12" x2="602.38" y2="98.12" stroke="#2020e8" stroke-width="0.6" opacity="0.75"/>
<rect x="600.78" y="99.24" width="1.6" height="1.6" fill="#2020e8"/>
<line x1="605.61" y1="100.62" x2="605.61" y2="103.69" stroke="#2020e8" stroke-width="0.6" opacity="0.75"/>
<line x1="604.81" y1="100.62" x2="606.41" y2="100.62" stroke="#2020e8" stroke-width="0.6" opacity="0.75"/>
<rect x="604.81" y="101.35" width="1.6" height="1.6" fill="#2020e8"/>
<line x1="609.02" y1="103.34" x2="609.02" y2="105.95" stroke="#2020e8" stroke-width="0.6" opacity="0.75"/>
<line x1="608.22" y1="103.34" x2="609.82" y2="103.34" stroke="#2020e8" stroke-width="0.6" opacity="0.75"/>
<rect x="608.22" y="103.85" width="1.6" height="1.6" fill="#2020e8"/>
<line x1="611.97" y1="103.93" x2="611.97" y2="106.14" stroke="#2020e8" stroke-width="0.6" opacity="0.75"/>
<line x1="611.17" y1="103.93" x2="612.77" y2="103.93" stroke="#2020e8" stroke-width="0.6" opacity="0.75"/>
<rect x="611.17" y="104.23" width="1.6" height="1.6" fill="#2020e8"/>
<line x1="614.57" y1="104.68" x2="614.57" y2="106.53" stroke="#2020e8" stroke-width="0.6" opacity="0.75"/>
<line x1="613.77" y1="104.68" x2="615.37" y2="104.68" stroke="#2020e8" stroke-width="0.6" opacity="0.75"/>
<rect x="613.77" y="104.81" width="1.6" height="1.6" fill="#2020e8"/>
<line x1="616.90" y1="105.22" x2="616.90" y2="106.76" stroke="#2020e8" stroke-width="0.6" opacity="0.75"/>
<line x1="616.10" y1="105.22" x2="617.70" y2="105.22" stroke="#2020e8" stroke-width="0.6" opacity="0.75"/>
<rect x="616.10" y="105.19" width="1.6" height="1.6" fill="#2020e8"/>
<line x1="625.86" y1="106.84" x2="625.86" y2="108.22" stroke="#2020e8" stroke-width="0.6" opacity="0.75"/>
<line x1="625.06" y1="106.84" x2="626.66" y2="106.84" stroke="#2020e8" stroke-width="0.6" opacity="0.75"/>
<rect x="625.06" y="106.73" width="1.6" height="1.6" fill="#2020e8"/>
<line x1="632.22" y1="107.28" x2="632.22" y2="108.55" stroke="#2020e8" stroke-width="0.6" opacity="0.75"/>
<line x1="631.42" y1="107.28" x2="633.02" y2="107.28" stroke="#2020e8" stroke-width="0.6" opacity="0.75"/>
<rect x="631.42" y="107.11" width="1.6" height="1.6" fill="#2020e8"/>
<line x1="637.16" y1="107.64" x2="637.16" y2="108.82" stroke="#2020e8" stroke-width="0.6" opacity="0.75"/>
<line x1="636.36" y1="107.64" x2="637.96" y2="107.64" stroke="#2020e8" stroke-width="0.6" opacity="0.75"/>
<rect x="636.36" y="107.43" width="1.6" height="1.6" fill="#2020e8"/>
<line x1="641.19" y1="107.93" x2="641.19" y2="109.04" stroke="#2020e8" stroke-width="0.6" opacity="0.75"/>
<line x1="640.39" y1="107.93" x2="641.99" y2="107.93" stroke="#2020e8" stroke-width="0.6" opacity="0.75"/>
<rect x="640.39" y="107.69" width="1.6" height="1.6" fill="#2020e8"/>
<line x1="644.59" y1="108.19" x2="644.59" y2="109.25" stroke="#2020e8" stroke-width="0.6" opacity="0.75"/>
<line x1="643.79" y1="108.19" x2="645.39" y2="108.19" stroke="#2020e8" stroke-width="0.6" opacity="0.75"/>
<rect x="643.79" y="107.92" width="1.6" height="1.6" fill="#2020e8"/>
<line x1="647.54" y1="108.42" x2="647.54" y2="109.42" stroke="#2020e8" stroke-width="0.6" opacity="0.75"/>
<line x1="646.74" y1="108.42" x2="648.34" y2="108.42" stroke="#2020e8" stroke-width="0.6" opacity="0.75"/>
<rect x="646.74" y="108.12" width="1.6" height="1.6" fill="#2020e8"/>
<line x1="650.15" y1="108.62" x2="650.15" y2="109.58" stroke="#2020e8" stroke-width="0.6" opacity="0.75"/>
<line x1="649.35" y1="108.62" x2="650.95" y2="108.62" stroke="#2020e8" stroke-width="0.6" opacity="0.75"/>
<rect x="649.35" y="108.30" width="1.6" height="1.6" fill="#2020e8"/>
<line x1="652.48" y1="108.80" x2="652.48" y2="109.71" stroke="#2020e8" stroke-width="0.6" opacity="0.75"/>
<line x1="651.68" y1="108.80" x2="653.28" y2="108.80" stroke="#2020e8" stroke-width="0.6" opacity="0.75"/>
<rect x="651.68" y="108.46" width="1.6" height="1.6" fill="#2020e8"/>
<line x1="654.58" y1="108.92" x2="654.58" y2="109.80" stroke="#2020e8" stroke-width="0.6" opacity="0.75"/>
<line x1="653.78" y1="108.92" x2="655.38" y2="108.92" stroke="#2020e8" stroke-width="0.6" opacity="0.75"/>
<rect x="653.78" y="108.56" width="1.6" height="1.6" fill="#2020e8"/>
<line x1="656.51" y1="109.03" x2="656.51" y2="109.88" stroke="#2020e8" stroke-width="0.6" opacity="0.75"/>
<line x1="655.71" y1="109.03" x2="657.31" y2="109.03" stroke="#2020e8" stroke-width="0.6" opacity="0.75"/>
<rect x="655.71" y="108.66" width="1.6" height="1.6" fill="#2020e8"/>
<line x1="658.28" y1="109.14" x2="658.28" y2="109.95" stroke="#2020e8" stroke-width="0.6" opacity="0.75"/>
<line x1="657.48" y1="109.14" x2="659.08" y2="109.14" stroke="#2020e8" stroke-width="0.6" opacity="0.75"/>
<rect x="657.48" y="108.75" width="1.6" height="1.6" fill="#2020e8"/>
<line x1="659.92" y1="109.23" x2="659.92" y2="110.02" stroke="#2020e8" stroke-width="0.6" opacity="0.75"/>
<line x1="659.12" y1="109.23" x2="660.72" y2="109.23" stroke="#2020e8" stroke-width="0.6" opacity="0.75"/>
<rect x="659.12" y="108.83" width="1.6" height="1.6" fill="#2020e8"/>
<line x1="661.44" y1="109.32" x2="661.44" y2="110.09" stroke="#2020e8" stroke-width="0.6" opacity="0.75"/>
<line x1="660.64" y1="109.32" x2="662.24" y2="109.32" stroke="#2020e8" stroke-width="0.6" opacity="0.75"/>
<rect x="660.64" y="108.91" width="1.6" height="1.6" fill="#2020e8"/>
<line x1="662.87" y1="109.41" x2="662.87" y2="110.14" stroke="#2020e8" stroke-width="0.6" opacity="0.75"/>
<line x1="662.07" y1="109.41" x2="663.67" y2="109.41" stroke="#2020e8" stroke-width="0.6" opacity="0.75"/>
<rect x="662.07" y="108.98" width="1.6" height="1.6" fill="#2020e8"/>
<line x1="664.21" y1="109.49" x2="664.21" y2="110.20" stroke="#2020e8" stroke-width="0.6" opacity="0.75"/>
<line x1="663.41" y1="109.49" x2="665.01" y2="109.49" stroke="#2020e8" stroke-width="0.6" opacity="0.75"/>
<rect x="663.41" y="109.04" width="1.6" height="1.6" fill="#2020e8"/>
<line x1="665.47" y1="109.56" x2="665.47" y2="110.25" stroke="#2020e8" stroke-width="0.6" opacity="0.75"/>
<line x1="664.67" y1="109.56" x2="666.27" y2="109.56" stroke="#2020e8" stroke-width="0.6" opacity="0.75"/>
<rect x="664.67" y="109.11" width="1.6" height="1.6" fill="#2020e8"/>
<line x1="666.67" y1="109.63" x2="666.67" y2="110.30" stroke="#2020e8" stroke-width="0.6" opacity="0.75"/>
<line x1="665.87" y1="109.63" x2="667.47" y2="109.63" stroke="#2020e8" stroke-width="0.6" opacity="0.75"/>
<rect x="665.87" y="109.17" width="1.6" height="1.6" fill="#2020e8"/>
<line x1="667.80" y1="109.70" x2="667.80" y2="110.35" stroke="#2020e8" stroke-width="0.6" opacity="0.75"/>
<line x1="667.00" y1="109.70" x2="668.60" y2="109.70" stroke="#2020e8" stroke-width="0.6" opacity="0.75"/>
<rect x="667.00" y="109.22" width="1.6" height="1.6" fill="#2020e8"/>
<line x1="676.76" y1="109.89" x2="676.76" y2="110.38" stroke="#2020e8" stroke-width="0.6" opacity="0.75"/>
<line x1="675.96" y1="109.89" x2="677.56" y2="109.89" stroke="#2020e8" stroke-width="0.6" opacity="0.75"/>
<line x1="683.12" y1="110.02" x2="683.12" y2="110.41" stroke="#2020e8" stroke-width="0.6" opacity="0.75"/>
<line x1="682.32" y1="110.02" x2="683.92" y2="110.02" stroke="#2020e8" stroke-width="0.6" opacity="0.75"/>
<path d="M566.00,110.41 L581.32,108.68 L590.29,104.46 L596.64,103.30 L601.58,103.11 L605.61,103.69 L609.02,104.65 L611.97,105.61 L614.57,105.99 L616.90,106.38 L625.86,107.34 L632.22,107.72 L637.16,108.04 L641.19,108.30 L644.59,108.53 L647.54,108.73 L650.15,108.91 L652.48,109.06 L654.58,109.14 L656.51,109.22 L658.28,109.28 L659.92,109.34 L661.44,109.40 L662.87,109.45 L664.21,109.50 L665.47,109.55 L666.67,109.60 L667.80,109.64 L676.76,109.75 L683.12,109.83" fill="none" stroke="#f03030" stroke-width="0.7" opacity="0.75"/>
<line x1="566.00" y1="110.22" x2="566.00" y2="110.60" stroke="#f03030" stroke-width="0.6" opacity="0.75"/>
<line x1="565.20" y1="110.22" x2="566.80" y2="110.22" stroke="#f03030" stroke-width="0.6" opacity="0.75"/>
<rect x="565.20" y="109.61" width="1.6" height="1.6" fill="#f03030"/>
<line x1="581.32" y1="107.91" x2="581.32" y2="109.45" stroke="#f03030" stroke-width="0.6" opacity="0.75"/>
<line x1="580.52" y1="107.91" x2="582.12" y2="107.91" stroke="#f03030" stroke-width="0.6" opacity="0.75"/>
<rect x="580.52" y="107.88" width="1.6" height="1.6" fill="#f03030"/>
<line x1="590.29" y1="103.50" x2="590.29" y2="105.42" stroke="#f03030" stroke-width="0.6" opacity="0.75"/>
<line x1="589.49" y1="103.50" x2="591.09" y2="103.50" stroke="#f03030" stroke-width="0.6" opacity="0.75"/>
<rect x="589.49" y="103.66" width="1.6" height="1.6" fill="#f03030"/>
<line x1="596.64" y1="102.34" x2="596.64" y2="104.26" stroke="#f03030" stroke-width="0.6" opacity="0.75"/>
<line x1="595.84" y1="102.34" x2="597.44" y2="102.34" stroke="#f03030" stroke-width="0.6" opacity="0.75"/>
<rect x="595.84" y="102.50" width="1.6" height="1.6" fill="#f03030"/>
<line x1="601.58" y1="102.25" x2="601.58" y2="103.98" stroke="#f03030" stroke-width="0.6" opacity="0.75"/>
<line x1="600.78" y1="102.25" x2="602.38" y2="102.25" stroke="#f03030" stroke-width="0.6" opacity="0.75"/>
<rect x="600.78" y="102.31" width="1.6" height="1.6" fill="#f03030"/>
<line x1="605.61" y1="102.90" x2="605.61" y2="104.48" stroke="#f03030" stroke-width="0.6" opacity="0.75"/>
<line x1="604.81" y1="102.90" x2="606.41" y2="102.90" stroke="#f03030" stroke-width="0.6" opacity="0.75"/>
<rect x="604.81" y="102.89" width="1.6" height="1.6" fill="#f03030"/>
<line x1="609.02" y1="103.92" x2="609.02" y2="105.37" stroke="#f03030" stroke-width="0.6" opacity="0.75"/>
<line x1="608.22" y1="103.92" x2="609.82" y2="103.92" stroke="#f03030" stroke-width="0.6" opacity="0.75"/>
<rect x="608.22" y="103.85" width="1.6" height="1.6" fill="#f03030"/>
<line x1="611.97" y1="104.94" x2="611.97" y2="106.28" stroke="#f03030" stroke-width="0.6" opacity="0.75"/>
<line x1="611.17" y1="104.94" x2="612.77" y2="104.94" stroke="#f03030" stroke-width="0.6" opacity="0.75"/>
<rect x="611.17" y="104.81" width="1.6" height="1.6" fill="#f03030"/>
<line x1="614.57" y1="105.37" x2="614.57" y2="106.61" stroke="#f03030" stroke-width="0.6" opacity="0.75"/>
<line x1="613.77" y1="105.37" x2="615.37" y2="105.37" stroke="#f03030" stroke-width="0.6" opacity="0.75"/>
<rect x="613.77" y="105.19" width="1.6" height="1.6" fill="#f03030"/>
<line x1="616.90" y1="105.80" x2="616.90" y2="106.95" stroke="#f03030" stroke-width="0.6" opacity="0.75"/>
<line x1="616.10" y1="105.80" x2="617.70" y2="105.80" stroke="#f03030" stroke-width="0.6" opacity="0.75"/>
<rect x="616.10" y="105.58" width="1.6" height="1.6" fill="#f03030"/>
<line x1="625.86" y1="106.81" x2="625.86" y2="107.86" stroke="#f03030" stroke-width="0.6" opacity="0.75"/>
<line x1="625.06" y1="106.81" x2="626.66" y2="106.81" stroke="#f03030" stroke-width="0.6" opacity="0.75"/>
<rect x="625.06" y="106.54" width="1.6" height="1.6" fill="#f03030"/>
<line x1="632.22" y1="107.23" x2="632.22" y2="108.21" stroke="#f03030" stroke-width="0.6" opacity="0.75"/>
<line x1="631.42" y1="107.23" x2="633.02" y2="107.23" stroke="#f03030" stroke-width="0.6" opacity="0.75"/>
<rect x="631.42" y="106.92" width="1.6" height="1.6" fill="#f03030"/>
<line x1="637.16" y1="107.58" x2="637.16" y2="108.50" stroke="#f03030" stroke-width="0.6" opacity="0.75"/>
<line x1="636.36" y1="107.58" x2="637.96" y2="107.58" stroke="#f03030" stroke-width="0.6" opacity="0.75"/>
<rect x="636.36" y="107.24" width="1.6" height="1.6" fill="#f03030"/>
<line x1="641.19" y1="107.86" x2="641.19" y2="108.73" stroke="#f03030" stroke-width="0.6" opacity="0.75"/>
<line x1="640.39" y1="107.86" x2="641.99" y2="107.86" stroke="#f03030" stroke-width="0.6" opacity="0.75"/>
<rect x="640.39" y="107.50" width="1.6" height="1.6" fill="#f03030"/>
<line x1="644.59" y1="108.11" x2="644.59" y2="108.94" stroke="#f03030" stroke-width="0.6" opacity="0.75"/>
<line x1="643.79" y1="108.11" x2="645.39" y2="108.11" stroke="#f03030" stroke-width="0.6" opacity="0.75"/>
<rect x="643.79" y="107.73" width="1.6" height="1.6" fill="#f03030"/>
<line x1="647.54" y1="108.33" x2="647.54" y2="109.13" stroke="#f03030" stroke-width="0.6" opacity="0.75"/>
<line x1="646.74" y1="108.33" x2="648.34" y2="108.33" stroke="#f03030" stroke-width="0.6" opacity="0.75"/>
<rect x="646.74" y="107.93" width="1.6" height="1.6" fill="#f03030"/>
<line x1="650.15" y1="108.52" x2="650.15" y2="109.29" stroke="#f03030" stroke-width="0.6" opacity="0.75"/>
<line x1="649.35" y1="108.52" x2="650.95" y2="108.52" stroke="#f03030" stroke-width="0.6" opacity="0.75"/>
<rect x="649.35" y="108.11" width="1.6" height="1.6" fill="#f03030"/>
<line x1="652.48" y1="108.69" x2="652.48" y2="109.43" stroke="#f03030" stroke-width="0.6" opacity="0.75"/>
<line x1="651.68" y1="108.69" x2="653.28" y2="108.69" stroke="#f03030" stroke-width="0.6" opacity="0.75"/>
<rect x="651.68" y="108.26" width="1.6" height="1.6" fill="#f03030"/>
<line x1="654.58" y1="108.79" x2="654.58" y2="109.50" stroke="#f03030" stroke-width="0.6" opacity="0.75"/>
<line x1="653.78" y1="108.79" x2="655.38" y2="108.79" stroke="#f03030" stroke-width="0.6" opacity="0.75"/>
<rect x="653.78" y="108.34" width="1.6" height="1.6" fill="#f03030"/>
<line x1="656.51" y1="108.87" x2="656.51" y2="109.56" stroke="#f03030" stroke-width="0.6" opacity="0.75"/>
<line x1="655.71" y1="108.87" x2="657.31" y2="108.87" stroke="#f03030" stroke-width="0.6" opacity="0.75"/>
<rect x="655.71" y="108.42" width="1.6" height="1.6" fill="#f03030"/>
<line x1="658.28" y1="108.95" x2="658.28" y2="109.62" stroke="#f03030" stroke-width="0.6" opacity="0.75"/>
<line x1="657.48" y1="108.95" x2="659.08" y2="108.95" stroke="#f03030" stroke-width="0.6" opacity="0.75"/>
<rect x="657.48" y="108.48" width="1.6" height="1.6" fill="#f03030"/>
<line x1="659.92" y1="109.02" x2="659.92" y2="109.67" stroke="#f03030" stroke-width="0.6" opacity="0.75"/>
<line x1="659.12" y1="109.02" x2="660.72" y2="109.02" stroke="#f03030" stroke-width="0.6" opacity="0.75"/>
<rect x="659.12" y="108.54" width="1.6" height="1.6" fill="#f03030"/>
<line x1="661.44" y1="109.08" x2="661.44" y2="109.72" stroke="#f03030" stroke-width="0.6" opacity="0.75"/>
<line x1="660.64" y1="109.08" x2="662.24" y2="109.08" stroke="#f03030" stroke-width="0.6" opacity="0.75"/>
<rect x="660.64" y="108.60" width="1.6" height="1.6" fill="#f03030"/>
<line x1="662.87" y1="109.15" x2="662.87" y2="109.76" stroke="#f03030" stroke-width="0.6" opacity="0.75"/>
<line x1="662.07" y1="109.15" x2="663.67" y2="109.15" stroke="#f03030" stroke-width="0.6" opacity="0.75"/>
<rect x="662.07" y="108.65" width="1.6" height="1.6" fill="#f03030"/>
<line x1="664.21" y1="109.20" x2="664.21" y2="109.81" stroke="#f03030" stroke-width="0.6" opacity="0.75"/>
<line x1="663.41" y1="109.20" x2="665.01" y2="109.20" stroke="#f03030" stroke-width="0.6" opacity="0.75"/>
<rect x="663.41" y="108.70" width="1.6" height="1.6" fill="#f03030"/>
<line x1="665.47" y1="109.26" x2="665.47" y2="109.85" stroke="#f03030" stroke-width="0.6" opacity="0.75"/>
<line x1="664.67" y1="109.26" x2="666.27" y2="109.26" stroke="#f03030" stroke-width="0.6" opacity="0.75"/>
<rect x="664.67" y="108.75" width="1.6" height="1.6" fill="#f03030"/>
<line x1="666.67" y1="109.31" x2="666.67" y2="109.88" stroke="#f03030" stroke-width="0.6" opacity="0.75"/>
<line x1="665.87" y1="109.31" x2="667.47" y2="109.31" stroke="#f03030" stroke-width="0.6" opacity="0.75"/>
<rect x="665.87" y="108.80" width="1.6" height="1.6" fill="#f03030"/>
<line x1="667.80" y1="109.36" x2="667.80" y2="109.92" stroke="#f03030" stroke-width="0.6" opacity="0.75"/>
<line x1="667.00" y1="109.36" x2="668.60" y2="109.36" stroke="#f03030" stroke-width="0.6" opacity="0.75"/>
<rect x="667.00" y="108.84" width="1.6" height="1.6" fill="#f03030"/>
<line x1="676.76" y1="109.52" x2="676.76" y2="109.98" stroke="#f03030" stroke-width="0.6" opacity="0.75"/>
<line x1="675.96" y1="109.52" x2="677.56" y2="109.52" stroke="#f03030" stroke-width="0.6" opacity="0.75"/>
<line x1="683.12" y1="109.64" x2="683.12" y2="110.02" stroke="#f03030" stroke-width="0.6" opacity="0.75"/>
<line x1="682.32" y1="109.64" x2="683.92" y2="109.64" stroke="#f03030" stroke-width="0.6" opacity="0.75"/>
<line x1="389.20" y1="194.11" x2="389.20" y2="271.60" stroke="#a4a4a4" stroke-width="0.9" />
<line x1="387.00" y1="271.30" x2="389.20" y2="271.30" stroke="#a4a4a4" stroke-width="0.9" />
<text x="386.30" y="274.36" font-size="9.6" text-anchor="end" font-weight="normal" font-style="normal" fill="#231f20" >0</text>
<line x1="387.00" y1="245.67" x2="389.20" y2="245.67" stroke="#a4a4a4" stroke-width="0.9" />
<text x="386.30" y="248.73" font-size="9.6" text-anchor="end" font-weight="normal" font-style="normal" fill="#231f20" >100</text>
<line x1="387.00" y1="220.04" x2="389.20" y2="220.04" stroke="#a4a4a4" stroke-width="0.9" />
<text x="386.30" y="223.10" font-size="9.6" text-anchor="end" font-weight="normal" font-style="normal" fill="#231f20" >200</text>
<line x1="387.00" y1="194.41" x2="389.20" y2="194.41" stroke="#a4a4a4" stroke-width="0.9" />
<text x="386.30" y="197.47" font-size="9.6" text-anchor="end" font-weight="normal" font-style="normal" fill="#231f20" >300</text>
<line x1="391.70" y1="274.10" x2="510.59" y2="274.10" stroke="#a4a4a4" stroke-width="0.9" />
<line x1="392.20" y1="274.10" x2="392.20" y2="275.40" stroke="#a4a4a4" stroke-width="0.6" />
<line x1="407.49" y1="274.10" x2="407.49" y2="275.40" stroke="#a4a4a4" stroke-width="0.6" />
<line x1="416.44" y1="274.10" x2="416.44" y2="275.40" stroke="#a4a4a4" stroke-width="0.6" />
<line x1="422.78" y1="274.10" x2="422.78" y2="275.40" stroke="#a4a4a4" stroke-width="0.6" />
<line x1="427.71" y1="274.10" x2="427.71" y2="275.40" stroke="#a4a4a4" stroke-width="0.6" />
<line x1="431.73" y1="274.10" x2="431.73" y2="275.40" stroke="#a4a4a4" stroke-width="0.6" />
<line x1="435.13" y1="274.10" x2="435.13" y2="275.40" stroke="#a4a4a4" stroke-width="0.6" />
<line x1="438.08" y1="274.10" x2="438.08" y2="275.40" stroke="#a4a4a4" stroke-width="0.6" />
<line x1="440.68" y1="274.10" x2="440.68" y2="275.40" stroke="#a4a4a4" stroke-width="0.6" />
<line x1="443.00" y1="274.10" x2="443.00" y2="275.40" stroke="#a4a4a4" stroke-width="0.6" />
<line x1="458.29" y1="274.10" x2="458.29" y2="275.40" stroke="#a4a4a4" stroke-width="0.6" />
<line x1="467.24" y1="274.10" x2="467.24" y2="275.40" stroke="#a4a4a4" stroke-width="0.6" />
<line x1="473.58" y1="274.10" x2="473.58" y2="275.40" stroke="#a4a4a4" stroke-width="0.6" />
<line x1="478.51" y1="274.10" x2="478.51" y2="275.40" stroke="#a4a4a4" stroke-width="0.6" />
<line x1="482.53" y1="274.10" x2="482.53" y2="275.40" stroke="#a4a4a4" stroke-width="0.6" />
<line x1="485.93" y1="274.10" x2="485.93" y2="275.40" stroke="#a4a4a4" stroke-width="0.6" />
<line x1="488.88" y1="274.10" x2="488.88" y2="275.40" stroke="#a4a4a4" stroke-width="0.6" />
<line x1="491.48" y1="274.10" x2="491.48" y2="275.40" stroke="#a4a4a4" stroke-width="0.6" />
<line x1="493.80" y1="274.10" x2="493.80" y2="275.40" stroke="#a4a4a4" stroke-width="0.6" />
<line x1="509.09" y1="274.10" x2="509.09" y2="275.40" stroke="#a4a4a4" stroke-width="0.6" />
<text x="392.20" y="285.60" font-size="9.1" text-anchor="middle" font-weight="normal" font-style="normal" fill="#231f20" >100</text>
<text x="443.00" y="285.60" font-size="9.1" text-anchor="middle" font-weight="normal" font-style="normal" fill="#231f20" >1,000</text>
<text x="493.80" y="285.60" font-size="9.1" text-anchor="middle" font-weight="normal" font-style="normal" fill="#231f20" >10,000</text>
<text x="450.00" y="299.40" font-size="10.75" text-anchor="middle" font-weight="normal" font-style="normal" fill="#231f20" >Size range</text>
<text transform="translate(362.40,233.10) rotate(-90)" font-size="10.8" text-anchor="middle" fill="#231f20">VAT adipocyte number</text>
<text x="354.20" y="169.60" font-size="19" text-anchor="start" font-weight="bold" font-style="normal" fill="#000" >g</text>
<path d="M392.20,271.04 L407.49,262.84 L416.44,241.57 L422.78,246.18 L427.71,244.90 L431.73,249.26 L435.13,252.85 L438.08,254.90 L440.68,259.25 L443.00,262.33 L451.95,267.71 L458.29,269.25 L463.22,269.81 L467.24,270.27 L470.64,270.37 L473.58,270.46 L476.18,270.53 L478.51,270.60 L480.61,270.66 L482.53,270.72 L484.30,270.77 L485.93,270.82 L487.45,270.86 L488.88,270.90 L490.21,270.94 L491.48,270.98 L492.67,271.01 L493.80,271.04 L502.75,271.04 L509.09,271.04" fill="none" stroke="#222" stroke-width="0.7" opacity="0.8"/>
<line x1="392.20" y1="270.79" x2="392.20" y2="271.30" stroke="#222" stroke-width="0.6" opacity="0.75"/>
<line x1="391.40" y1="270.79" x2="393.00" y2="270.79" stroke="#222" stroke-width="0.6" opacity="0.75"/>
<rect x="391.40" y="270.24" width="1.6" height="1.6" fill="#222"/>
<line x1="407.49" y1="260.28" x2="407.49" y2="265.41" stroke="#222" stroke-width="0.6" opacity="0.75"/>
<line x1="406.69" y1="260.28" x2="408.29" y2="260.28" stroke="#222" stroke-width="0.6" opacity="0.75"/>
<rect x="406.69" y="262.04" width="1.6" height="1.6" fill="#222"/>
<line x1="416.44" y1="236.44" x2="416.44" y2="246.70" stroke="#222" stroke-width="0.6" opacity="0.75"/>
<line x1="415.64" y1="236.44" x2="417.24" y2="236.44" stroke="#222" stroke-width="0.6" opacity="0.75"/>
<rect x="415.64" y="240.77" width="1.6" height="1.6" fill="#222"/>
<line x1="422.78" y1="241.06" x2="422.78" y2="251.31" stroke="#222" stroke-width="0.6" opacity="0.75"/>
<line x1="421.98" y1="241.06" x2="423.58" y2="241.06" stroke="#222" stroke-width="0.6" opacity="0.75"/>
<rect x="421.98" y="245.38" width="1.6" height="1.6" fill="#222"/>
<line x1="427.71" y1="239.78" x2="427.71" y2="250.03" stroke="#222" stroke-width="0.6" opacity="0.75"/>
<line x1="426.91" y1="239.78" x2="428.51" y2="239.78" stroke="#222" stroke-width="0.6" opacity="0.75"/>
<rect x="426.91" y="244.10" width="1.6" height="1.6" fill="#222"/>
<line x1="431.73" y1="244.64" x2="431.73" y2="253.87" stroke="#222" stroke-width="0.6" opacity="0.75"/>
<line x1="430.93" y1="244.64" x2="432.53" y2="244.64" stroke="#222" stroke-width="0.6" opacity="0.75"/>
<rect x="430.93" y="248.46" width="1.6" height="1.6" fill="#222"/>
<line x1="435.13" y1="249.00" x2="435.13" y2="256.69" stroke="#222" stroke-width="0.6" opacity="0.75"/>
<line x1="434.33" y1="249.00" x2="435.93" y2="249.00" stroke="#222" stroke-width="0.6" opacity="0.75"/>
<rect x="434.33" y="252.05" width="1.6" height="1.6" fill="#222"/>
<line x1="438.08" y1="251.82" x2="438.08" y2="257.97" stroke="#222" stroke-width="0.6" opacity="0.75"/>
<line x1="437.28" y1="251.82" x2="438.88" y2="251.82" stroke="#222" stroke-width="0.6" opacity="0.75"/>
<rect x="437.28" y="254.10" width="1.6" height="1.6" fill="#222"/>
<line x1="440.68" y1="256.69" x2="440.68" y2="261.82" stroke="#222" stroke-width="0.6" opacity="0.75"/>
<line x1="439.88" y1="256.69" x2="441.48" y2="256.69" stroke="#222" stroke-width="0.6" opacity="0.75"/>
<rect x="439.88" y="258.45" width="1.6" height="1.6" fill="#222"/>
<line x1="443.00" y1="260.28" x2="443.00" y2="264.38" stroke="#222" stroke-width="0.6" opacity="0.75"/>
<line x1="442.20" y1="260.28" x2="443.80" y2="260.28" stroke="#222" stroke-width="0.6" opacity="0.75"/>
<rect x="442.20" y="261.53" width="1.6" height="1.6" fill="#222"/>
<line x1="451.95" y1="266.69" x2="451.95" y2="268.74" stroke="#222" stroke-width="0.6" opacity="0.75"/>
<line x1="451.15" y1="266.69" x2="452.75" y2="266.69" stroke="#222" stroke-width="0.6" opacity="0.75"/>
<rect x="451.15" y="266.91" width="1.6" height="1.6" fill="#222"/>
<line x1="458.29" y1="268.31" x2="458.29" y2="270.19" stroke="#222" stroke-width="0.6" opacity="0.75"/>
<line x1="457.49" y1="268.31" x2="459.09" y2="268.31" stroke="#222" stroke-width="0.6" opacity="0.75"/>
<rect x="457.49" y="268.45" width="1.6" height="1.6" fill="#222"/>
<line x1="463.22" y1="268.94" x2="463.22" y2="270.69" stroke="#222" stroke-width="0.6" opacity="0.75"/>
<line x1="462.42" y1="268.94" x2="464.02" y2="268.94" stroke="#222" stroke-width="0.6" opacity="0.75"/>
<rect x="462.42" y="269.01" width="1.6" height="1.6" fill="#222"/>
<line x1="467.24" y1="269.46" x2="467.24" y2="271.09" stroke="#222" stroke-width="0.6" opacity="0.75"/>
<line x1="466.44" y1="269.46" x2="468.04" y2="269.46" stroke="#222" stroke-width="0.6" opacity="0.75"/>
<rect x="466.44" y="269.47" width="1.6" height="1.6" fill="#222"/>
<line x1="470.64" y1="269.60" x2="470.64" y2="271.15" stroke="#222" stroke-width="0.6" opacity="0.75"/>
<line x1="469.84" y1="269.60" x2="471.44" y2="269.60" stroke="#222" stroke-width="0.6" opacity="0.75"/>
<rect x="469.84" y="269.57" width="1.6" height="1.6" fill="#222"/>
<line x1="473.58" y1="269.72" x2="473.58" y2="271.19" stroke="#222" stroke-width="0.6" opacity="0.75"/>
<line x1="472.78" y1="269.72" x2="474.38" y2="269.72" stroke="#222" stroke-width="0.6" opacity="0.75"/>
<rect x="472.78" y="269.66" width="1.6" height="1.6" fill="#222"/>
<line x1="476.18" y1="269.83" x2="476.18" y2="271.23" stroke="#222" stroke-width="0.6" opacity="0.75"/>
<line x1="475.38" y1="269.83" x2="476.98" y2="269.83" stroke="#222" stroke-width="0.6" opacity="0.75"/>
<rect x="475.38" y="269.73" width="1.6" height="1.6" fill="#222"/>
<line x1="478.51" y1="269.93" x2="478.51" y2="271.27" stroke="#222" stroke-width="0.6" opacity="0.75"/>
<line x1="477.71" y1="269.93" x2="479.31" y2="269.93" stroke="#222" stroke-width="0.6" opacity="0.75"/>
<rect x="477.71" y="269.80" width="1.6" height="1.6" fill="#222"/>
<line x1="480.61" y1="270.02" x2="480.61" y2="271.30" stroke="#222" stroke-width="0.6" opacity="0.75"/>
<line x1="479.81" y1="270.02" x2="481.41" y2="270.02" stroke="#222" stroke-width="0.6" opacity="0.75"/>
<rect x="479.81" y="269.86" width="1.6" height="1.6" fill="#222"/>
<line x1="482.53" y1="270.10" x2="482.53" y2="271.30" stroke="#222" stroke-width="0.6" opacity="0.75"/>
<line x1="481.73" y1="270.10" x2="483.33" y2="270.10" stroke="#222" stroke-width="0.6" opacity="0.75"/>
<rect x="481.73" y="269.92" width="1.6" height="1.6" fill="#222"/>
<line x1="484.30" y1="270.18" x2="484.30" y2="271.30" stroke="#222" stroke-width="0.6" opacity="0.75"/>
<line x1="483.50" y1="270.18" x2="485.10" y2="270.18" stroke="#222" stroke-width="0.6" opacity="0.75"/>
<rect x="483.50" y="269.97" width="1.6" height="1.6" fill="#222"/>
<line x1="485.93" y1="270.25" x2="485.93" y2="271.30" stroke="#222" stroke-width="0.6" opacity="0.75"/>
<line x1="485.13" y1="270.25" x2="486.73" y2="270.25" stroke="#222" stroke-width="0.6" opacity="0.75"/>
<rect x="485.13" y="270.02" width="1.6" height="1.6" fill="#222"/>
<line x1="487.45" y1="270.31" x2="487.45" y2="271.30" stroke="#222" stroke-width="0.6" opacity="0.75"/>
<line x1="486.65" y1="270.31" x2="488.25" y2="270.31" stroke="#222" stroke-width="0.6" opacity="0.75"/>
<rect x="486.65" y="270.06" width="1.6" height="1.6" fill="#222"/>
<line x1="488.88" y1="270.37" x2="488.88" y2="271.30" stroke="#222" stroke-width="0.6" opacity="0.75"/>
<line x1="488.08" y1="270.37" x2="489.68" y2="270.37" stroke="#222" stroke-width="0.6" opacity="0.75"/>
<rect x="488.08" y="270.10" width="1.6" height="1.6" fill="#222"/>
<line x1="490.21" y1="270.43" x2="490.21" y2="271.30" stroke="#222" stroke-width="0.6" opacity="0.75"/>
<line x1="489.41" y1="270.43" x2="491.01" y2="270.43" stroke="#222" stroke-width="0.6" opacity="0.75"/>
<rect x="489.41" y="270.14" width="1.6" height="1.6" fill="#222"/>
<line x1="491.48" y1="270.48" x2="491.48" y2="271.30" stroke="#222" stroke-width="0.6" opacity="0.75"/>
<line x1="490.68" y1="270.48" x2="492.28" y2="270.48" stroke="#222" stroke-width="0.6" opacity="0.75"/>
<rect x="490.68" y="270.18" width="1.6" height="1.6" fill="#222"/>
<line x1="492.67" y1="270.53" x2="492.67" y2="271.30" stroke="#222" stroke-width="0.6" opacity="0.75"/>
<line x1="491.87" y1="270.53" x2="493.47" y2="270.53" stroke="#222" stroke-width="0.6" opacity="0.75"/>
<rect x="491.87" y="270.21" width="1.6" height="1.6" fill="#222"/>
<line x1="493.80" y1="270.58" x2="493.80" y2="271.30" stroke="#222" stroke-width="0.6" opacity="0.75"/>
<line x1="493.00" y1="270.58" x2="494.60" y2="270.58" stroke="#222" stroke-width="0.6" opacity="0.75"/>
<rect x="493.00" y="270.24" width="1.6" height="1.6" fill="#222"/>
<line x1="502.75" y1="270.70" x2="502.75" y2="271.30" stroke="#222" stroke-width="0.6" opacity="0.75"/>
<line x1="501.95" y1="270.70" x2="503.55" y2="270.70" stroke="#222" stroke-width="0.6" opacity="0.75"/>
<line x1="509.09" y1="270.79" x2="509.09" y2="271.30" stroke="#222" stroke-width="0.6" opacity="0.75"/>
<line x1="508.29" y1="270.79" x2="509.89" y2="270.79" stroke="#222" stroke-width="0.6" opacity="0.75"/>
<path d="M392.20,271.04 L407.49,243.62 L416.44,222.35 L422.78,238.24 L427.71,244.64 L431.73,250.28 L435.13,253.87 L438.08,256.69 L440.68,259.25 L443.00,261.30 L451.95,267.71 L458.29,269.51 L463.22,270.07 L467.24,270.53 L470.64,270.60 L473.58,270.65 L476.18,270.70 L478.51,270.75 L480.61,270.79 L482.53,270.83 L484.30,270.86 L485.93,270.89 L487.45,270.92 L488.88,270.95 L490.21,270.97 L491.48,271.00 L492.67,271.02 L493.80,271.04 L502.75,271.04 L509.09,271.04" fill="none" stroke="#3cc83c" stroke-width="0.8" opacity="0.85"/>
<line x1="392.20" y1="270.79" x2="392.20" y2="271.30" stroke="#3cc83c" stroke-width="0.6" opacity="0.75"/>
<line x1="391.40" y1="270.79" x2="393.00" y2="270.79" stroke="#3cc83c" stroke-width="0.6" opacity="0.75"/>
<rect x="391.40" y="270.24" width="1.6" height="1.6" fill="#3cc83c"/>
<line x1="407.49" y1="226.19" x2="407.49" y2="261.05" stroke="#3cc83c" stroke-width="0.6" opacity="0.75"/>
<line x1="406.69" y1="226.19" x2="408.29" y2="226.19" stroke="#3cc83c" stroke-width="0.6" opacity="0.75"/>
<rect x="406.69" y="242.82" width="1.6" height="1.6" fill="#3cc83c"/>
<line x1="416.44" y1="205.17" x2="416.44" y2="239.52" stroke="#3cc83c" stroke-width="0.6" opacity="0.75"/>
<line x1="415.64" y1="205.17" x2="417.24" y2="205.17" stroke="#3cc83c" stroke-width="0.6" opacity="0.75"/>
<rect x="415.64" y="221.55" width="1.6" height="1.6" fill="#3cc83c"/>
<line x1="422.78" y1="230.55" x2="422.78" y2="245.93" stroke="#3cc83c" stroke-width="0.6" opacity="0.75"/>
<line x1="421.98" y1="230.55" x2="423.58" y2="230.55" stroke="#3cc83c" stroke-width="0.6" opacity="0.75"/>
<rect x="421.98" y="237.44" width="1.6" height="1.6" fill="#3cc83c"/>
<line x1="427.71" y1="238.24" x2="427.71" y2="251.05" stroke="#3cc83c" stroke-width="0.6" opacity="0.75"/>
<line x1="426.91" y1="238.24" x2="428.51" y2="238.24" stroke="#3cc83c" stroke-width="0.6" opacity="0.75"/>
<rect x="426.91" y="243.84" width="1.6" height="1.6" fill="#3cc83c"/>
<line x1="431.73" y1="245.16" x2="431.73" y2="255.41" stroke="#3cc83c" stroke-width="0.6" opacity="0.75"/>
<line x1="430.93" y1="245.16" x2="432.53" y2="245.16" stroke="#3cc83c" stroke-width="0.6" opacity="0.75"/>
<rect x="430.93" y="249.48" width="1.6" height="1.6" fill="#3cc83c"/>
<line x1="435.13" y1="250.03" x2="435.13" y2="257.72" stroke="#3cc83c" stroke-width="0.6" opacity="0.75"/>
<line x1="434.33" y1="250.03" x2="435.93" y2="250.03" stroke="#3cc83c" stroke-width="0.6" opacity="0.75"/>
<rect x="434.33" y="253.07" width="1.6" height="1.6" fill="#3cc83c"/>
<line x1="438.08" y1="253.62" x2="438.08" y2="259.77" stroke="#3cc83c" stroke-width="0.6" opacity="0.75"/>
<line x1="437.28" y1="253.62" x2="438.88" y2="253.62" stroke="#3cc83c" stroke-width="0.6" opacity="0.75"/>
<rect x="437.28" y="255.89" width="1.6" height="1.6" fill="#3cc83c"/>
<line x1="440.68" y1="256.69" x2="440.68" y2="261.82" stroke="#3cc83c" stroke-width="0.6" opacity="0.75"/>
<line x1="439.88" y1="256.69" x2="441.48" y2="256.69" stroke="#3cc83c" stroke-width="0.6" opacity="0.75"/>
<rect x="439.88" y="258.45" width="1.6" height="1.6" fill="#3cc83c"/>
<line x1="443.00" y1="259.25" x2="443.00" y2="263.35" stroke="#3cc83c" stroke-width="0.6" opacity="0.75"/>
<line x1="442.20" y1="259.25" x2="443.80" y2="259.25" stroke="#3cc83c" stroke-width="0.6" opacity="0.75"/>
<rect x="442.20" y="260.50" width="1.6" height="1.6" fill="#3cc83c"/>
<line x1="451.95" y1="266.69" x2="451.95" y2="268.74" stroke="#3cc83c" stroke-width="0.6" opacity="0.75"/>
<line x1="451.15" y1="266.69" x2="452.75" y2="266.69" stroke="#3cc83c" stroke-width="0.6" opacity="0.75"/>
<rect x="451.15" y="266.91" width="1.6" height="1.6" fill="#3cc83c"/>
<line x1="458.29" y1="268.57" x2="458.29" y2="270.45" stroke="#3cc83c" stroke-width="0.6" opacity="0.75"/>
<line x1="457.49" y1="268.57" x2="459.09" y2="268.57" stroke="#3cc83c" stroke-width="0.6" opacity="0.75"/>
<rect x="457.49" y="268.71" width="1.6" height="1.6" fill="#3cc83c"/>
<line x1="463.22" y1="269.20" x2="463.22" y2="270.94" stroke="#3cc83c" stroke-width="0.6" opacity="0.75"/>
<line x1="462.42" y1="269.20" x2="464.02" y2="269.20" stroke="#3cc83c" stroke-width="0.6" opacity="0.75"/>
<rect x="462.42" y="269.27" width="1.6" height="1.6" fill="#3cc83c"/>
<line x1="467.24" y1="269.71" x2="467.24" y2="271.30" stroke="#3cc83c" stroke-width="0.6" opacity="0.75"/>
<line x1="466.44" y1="269.71" x2="468.04" y2="269.71" stroke="#3cc83c" stroke-width="0.6" opacity="0.75"/>
<rect x="466.44" y="269.73" width="1.6" height="1.6" fill="#3cc83c"/>
<line x1="470.64" y1="269.82" x2="470.64" y2="271.30" stroke="#3cc83c" stroke-width="0.6" opacity="0.75"/>
<line x1="469.84" y1="269.82" x2="471.44" y2="269.82" stroke="#3cc83c" stroke-width="0.6" opacity="0.75"/>
<rect x="469.84" y="269.80" width="1.6" height="1.6" fill="#3cc83c"/>
<line x1="473.58" y1="269.92" x2="473.58" y2="271.30" stroke="#3cc83c" stroke-width="0.6" opacity="0.75"/>
<line x1="472.78" y1="269.92" x2="474.38" y2="269.92" stroke="#3cc83c" stroke-width="0.6" opacity="0.75"/>
<rect x="472.78" y="269.85" width="1.6" height="1.6" fill="#3cc83c"/>
<line x1="476.18" y1="270.00" x2="476.18" y2="271.30" stroke="#3cc83c" stroke-width="0.6" opacity="0.75"/>
<line x1="475.38" y1="270.00" x2="476.98" y2="270.00" stroke="#3cc83c" stroke-width="0.6" opacity="0.75"/>
<rect x="475.38" y="269.90" width="1.6" height="1.6" fill="#3cc83c"/>
<line x1="478.51" y1="270.08" x2="478.51" y2="271.30" stroke="#3cc83c" stroke-width="0.6" opacity="0.75"/>
<line x1="477.71" y1="270.08" x2="479.31" y2="270.08" stroke="#3cc83c" stroke-width="0.6" opacity="0.75"/>
<rect x="477.71" y="269.95" width="1.6" height="1.6" fill="#3cc83c"/>
<line x1="480.61" y1="270.15" x2="480.61" y2="271.30" stroke="#3cc83c" stroke-width="0.6" opacity="0.75"/>
<line x1="479.81" y1="270.15" x2="481.41" y2="270.15" stroke="#3cc83c" stroke-width="0.6" opacity="0.75"/>
<rect x="479.81" y="269.99" width="1.6" height="1.6" fill="#3cc83c"/>
<line x1="482.53" y1="270.21" x2="482.53" y2="271.30" stroke="#3cc83c" stroke-width="0.6" opacity="0.75"/>
<line x1="481.73" y1="270.21" x2="483.33" y2="270.21" stroke="#3cc83c" stroke-width="0.6" opacity="0.75"/>
<rect x="481.73" y="270.03" width="1.6" height="1.6" fill="#3cc83c"/>
<line x1="484.30" y1="270.27" x2="484.30" y2="271.30" stroke="#3cc83c" stroke-width="0.6" opacity="0.75"/>
<line x1="483.50" y1="270.27" x2="485.10" y2="270.27" stroke="#3cc83c" stroke-width="0.6" opacity="0.75"/>
<rect x="483.50" y="270.06" width="1.6" height="1.6" fill="#3cc83c"/>
<line x1="485.93" y1="270.32" x2="485.93" y2="271.30" stroke="#3cc83c" stroke-width="0.6" opacity="0.75"/>
<line x1="485.13" y1="270.32" x2="486.73" y2="270.32" stroke="#3cc83c" stroke-width="0.6" opacity="0.75"/>
<rect x="485.13" y="270.09" width="1.6" height="1.6" fill="#3cc83c"/>
<line x1="487.45" y1="270.37" x2="487.45" y2="271.30" stroke="#3cc83c" stroke-width="0.6" opacity="0.75"/>
<line x1="486.65" y1="270.37" x2="488.25" y2="270.37" stroke="#3cc83c" stroke-width="0.6" opacity="0.75"/>
<rect x="486.65" y="270.12" width="1.6" height="1.6" fill="#3cc83c"/>
<line x1="488.88" y1="270.42" x2="488.88" y2="271.30" stroke="#3cc83c" stroke-width="0.6" opacity="0.75"/>
<line x1="488.08" y1="270.42" x2="489.68" y2="270.42" stroke="#3cc83c" stroke-width="0.6" opacity="0.75"/>
<rect x="488.08" y="270.15" width="1.6" height="1.6" fill="#3cc83c"/>
<line x1="490.21" y1="270.46" x2="490.21" y2="271.30" stroke="#3cc83c" stroke-width="0.6" opacity="0.75"/>
<line x1="489.41" y1="270.46" x2="491.01" y2="270.46" stroke="#3cc83c" stroke-width="0.6" opacity="0.75"/>
<rect x="489.41" y="270.17" width="1.6" height="1.6" fill="#3cc83c"/>
<line x1="491.48" y1="270.51" x2="491.48" y2="271.30" stroke="#3cc83c" stroke-width="0.6" opacity="0.75"/>
<line x1="490.68" y1="270.51" x2="492.28" y2="270.51" stroke="#3cc83c" stroke-width="0.6" opacity="0.75"/>
<rect x="490.68" y="270.20" width="1.6" height="1.6" fill="#3cc83c"/>
<line x1="492.67" y1="270.54" x2="492.67" y2="271.30" stroke="#3cc83c" stroke-width="0.6" opacity="0.75"/>
<line x1="491.87" y1="270.54" x2="493.47" y2="270.54" stroke="#3cc83c" stroke-width="0.6" opacity="0.75"/>
<rect x="491.87" y="270.22" width="1.6" height="1.6" fill="#3cc83c"/>
<line x1="493.80" y1="270.58" x2="493.80" y2="271.30" stroke="#3cc83c" stroke-width="0.6" opacity="0.75"/>
<line x1="493.00" y1="270.58" x2="494.60" y2="270.58" stroke="#3cc83c" stroke-width="0.6" opacity="0.75"/>
<rect x="493.00" y="270.24" width="1.6" height="1.6" fill="#3cc83c"/>
<line x1="502.75" y1="270.70" x2="502.75" y2="271.30" stroke="#3cc83c" stroke-width="0.6" opacity="0.75"/>
<line x1="501.95" y1="270.70" x2="503.55" y2="270.70" stroke="#3cc83c" stroke-width="0.6" opacity="0.75"/>
<line x1="509.09" y1="270.79" x2="509.09" y2="271.30" stroke="#3cc83c" stroke-width="0.6" opacity="0.75"/>
<line x1="508.29" y1="270.79" x2="509.89" y2="270.79" stroke="#3cc83c" stroke-width="0.6" opacity="0.75"/>
<path d="M392.20,271.04 L407.49,266.43 L416.44,260.28 L422.78,262.33 L427.71,263.35 L431.73,263.61 L435.13,264.12 L438.08,264.64 L440.68,265.41 L443.00,265.92 L451.95,268.22 L458.29,268.99 L463.22,269.28 L467.24,269.51 L470.64,269.64 L473.58,269.75 L476.18,269.85 L478.51,269.94 L480.61,270.02 L482.53,270.10 L484.30,270.16 L485.93,270.23 L487.45,270.29 L488.88,270.34 L490.21,270.39 L491.48,270.44 L492.67,270.49 L493.80,270.53 L502.75,270.68 L509.09,270.79" fill="none" stroke="#2020e8" stroke-width="0.8" opacity="0.85"/>
<line x1="392.20" y1="270.79" x2="392.20" y2="271.30" stroke="#2020e8" stroke-width="0.6" opacity="0.75"/>
<line x1="391.40" y1="270.79" x2="393.00" y2="270.79" stroke="#2020e8" stroke-width="0.6" opacity="0.75"/>
<rect x="391.40" y="270.24" width="1.6" height="1.6" fill="#2020e8"/>
<line x1="407.49" y1="265.15" x2="407.49" y2="267.71" stroke="#2020e8" stroke-width="0.6" opacity="0.75"/>
<line x1="406.69" y1="265.15" x2="408.29" y2="265.15" stroke="#2020e8" stroke-width="0.6" opacity="0.75"/>
<rect x="406.69" y="265.63" width="1.6" height="1.6" fill="#2020e8"/>
<line x1="416.44" y1="258.23" x2="416.44" y2="262.33" stroke="#2020e8" stroke-width="0.6" opacity="0.75"/>
<line x1="415.64" y1="258.23" x2="417.24" y2="258.23" stroke="#2020e8" stroke-width="0.6" opacity="0.75"/>
<rect x="415.64" y="259.48" width="1.6" height="1.6" fill="#2020e8"/>
<line x1="422.78" y1="261.05" x2="422.78" y2="263.61" stroke="#2020e8" stroke-width="0.6" opacity="0.75"/>
<line x1="421.98" y1="261.05" x2="423.58" y2="261.05" stroke="#2020e8" stroke-width="0.6" opacity="0.75"/>
<rect x="421.98" y="261.53" width="1.6" height="1.6" fill="#2020e8"/>
<line x1="427.71" y1="262.20" x2="427.71" y2="264.51" stroke="#2020e8" stroke-width="0.6" opacity="0.75"/>
<line x1="426.91" y1="262.20" x2="428.51" y2="262.20" stroke="#2020e8" stroke-width="0.6" opacity="0.75"/>
<rect x="426.91" y="262.55" width="1.6" height="1.6" fill="#2020e8"/>
<line x1="431.73" y1="262.56" x2="431.73" y2="264.67" stroke="#2020e8" stroke-width="0.6" opacity="0.75"/>
<line x1="430.93" y1="262.56" x2="432.53" y2="262.56" stroke="#2020e8" stroke-width="0.6" opacity="0.75"/>
<rect x="430.93" y="262.81" width="1.6" height="1.6" fill="#2020e8"/>
<line x1="435.13" y1="263.16" x2="435.13" y2="265.09" stroke="#2020e8" stroke-width="0.6" opacity="0.75"/>
<line x1="434.33" y1="263.16" x2="435.93" y2="263.16" stroke="#2020e8" stroke-width="0.6" opacity="0.75"/>
<rect x="434.33" y="263.32" width="1.6" height="1.6" fill="#2020e8"/>
<line x1="438.08" y1="263.74" x2="438.08" y2="265.53" stroke="#2020e8" stroke-width="0.6" opacity="0.75"/>
<line x1="437.28" y1="263.74" x2="438.88" y2="263.74" stroke="#2020e8" stroke-width="0.6" opacity="0.75"/>
<rect x="437.28" y="263.84" width="1.6" height="1.6" fill="#2020e8"/>
<line x1="440.68" y1="264.58" x2="440.68" y2="266.23" stroke="#2020e8" stroke-width="0.6" opacity="0.75"/>
<line x1="439.88" y1="264.58" x2="441.48" y2="264.58" stroke="#2020e8" stroke-width="0.6" opacity="0.75"/>
<rect x="439.88" y="264.61" width="1.6" height="1.6" fill="#2020e8"/>
<line x1="443.00" y1="265.15" x2="443.00" y2="266.69" stroke="#2020e8" stroke-width="0.6" opacity="0.75"/>
<line x1="442.20" y1="265.15" x2="443.80" y2="265.15" stroke="#2020e8" stroke-width="0.6" opacity="0.75"/>
<rect x="442.20" y="265.12" width="1.6" height="1.6" fill="#2020e8"/>
<line x1="451.95" y1="267.46" x2="451.95" y2="268.99" stroke="#2020e8" stroke-width="0.6" opacity="0.75"/>
<line x1="451.15" y1="267.46" x2="452.75" y2="267.46" stroke="#2020e8" stroke-width="0.6" opacity="0.75"/>
<rect x="451.15" y="267.42" width="1.6" height="1.6" fill="#2020e8"/>
<line x1="458.29" y1="268.22" x2="458.29" y2="269.76" stroke="#2020e8" stroke-width="0.6" opacity="0.75"/>
<line x1="457.49" y1="268.22" x2="459.09" y2="268.22" stroke="#2020e8" stroke-width="0.6" opacity="0.75"/>
<rect x="457.49" y="268.19" width="1.6" height="1.6" fill="#2020e8"/>
<line x1="463.22" y1="268.51" x2="463.22" y2="270.04" stroke="#2020e8" stroke-width="0.6" opacity="0.75"/>
<line x1="462.42" y1="268.51" x2="464.02" y2="268.51" stroke="#2020e8" stroke-width="0.6" opacity="0.75"/>
<rect x="462.42" y="268.48" width="1.6" height="1.6" fill="#2020e8"/>
<line x1="467.24" y1="268.74" x2="467.24" y2="270.27" stroke="#2020e8" stroke-width="0.6" opacity="0.75"/>
<line x1="466.44" y1="268.74" x2="468.04" y2="268.74" stroke="#2020e8" stroke-width="0.6" opacity="0.75"/>
<rect x="466.44" y="268.71" width="1.6" height="1.6" fill="#2020e8"/>
<line x1="470.64" y1="268.91" x2="470.64" y2="270.36" stroke="#2020e8" stroke-width="0.6" opacity="0.75"/>
<line x1="469.84" y1="268.91" x2="471.44" y2="268.91" stroke="#2020e8" stroke-width="0.6" opacity="0.75"/>
<rect x="469.84" y="268.84" width="1.6" height="1.6" fill="#2020e8"/>
<line x1="473.58" y1="269.06" x2="473.58" y2="270.44" stroke="#2020e8" stroke-width="0.6" opacity="0.75"/>
<line x1="472.78" y1="269.06" x2="474.38" y2="269.06" stroke="#2020e8" stroke-width="0.6" opacity="0.75"/>
<rect x="472.78" y="268.95" width="1.6" height="1.6" fill="#2020e8"/>
<line x1="476.18" y1="269.19" x2="476.18" y2="270.51" stroke="#2020e8" stroke-width="0.6" opacity="0.75"/>
<line x1="475.38" y1="269.19" x2="476.98" y2="269.19" stroke="#2020e8" stroke-width="0.6" opacity="0.75"/>
<rect x="475.38" y="269.05" width="1.6" height="1.6" fill="#2020e8"/>
<line x1="478.51" y1="269.31" x2="478.51" y2="270.57" stroke="#2020e8" stroke-width="0.6" opacity="0.75"/>
<line x1="477.71" y1="269.31" x2="479.31" y2="269.31" stroke="#2020e8" stroke-width="0.6" opacity="0.75"/>
<rect x="477.71" y="269.14" width="1.6" height="1.6" fill="#2020e8"/>
<line x1="480.61" y1="269.42" x2="480.61" y2="270.63" stroke="#2020e8" stroke-width="0.6" opacity="0.75"/>
<line x1="479.81" y1="269.42" x2="481.41" y2="269.42" stroke="#2020e8" stroke-width="0.6" opacity="0.75"/>
<rect x="479.81" y="269.22" width="1.6" height="1.6" fill="#2020e8"/>
<line x1="482.53" y1="269.51" x2="482.53" y2="270.68" stroke="#2020e8" stroke-width="0.6" opacity="0.75"/>
<line x1="481.73" y1="269.51" x2="483.33" y2="269.51" stroke="#2020e8" stroke-width="0.6" opacity="0.75"/>
<rect x="481.73" y="269.30" width="1.6" height="1.6" fill="#2020e8"/>
<line x1="484.30" y1="269.60" x2="484.30" y2="270.72" stroke="#2020e8" stroke-width="0.6" opacity="0.75"/>
<line x1="483.50" y1="269.60" x2="485.10" y2="269.60" stroke="#2020e8" stroke-width="0.6" opacity="0.75"/>
<rect x="483.50" y="269.36" width="1.6" height="1.6" fill="#2020e8"/>
<line x1="485.93" y1="269.69" x2="485.93" y2="270.77" stroke="#2020e8" stroke-width="0.6" opacity="0.75"/>
<line x1="485.13" y1="269.69" x2="486.73" y2="269.69" stroke="#2020e8" stroke-width="0.6" opacity="0.75"/>
<rect x="485.13" y="269.43" width="1.6" height="1.6" fill="#2020e8"/>
<line x1="487.45" y1="269.76" x2="487.45" y2="270.81" stroke="#2020e8" stroke-width="0.6" opacity="0.75"/>
<line x1="486.65" y1="269.76" x2="488.25" y2="269.76" stroke="#2020e8" stroke-width="0.6" opacity="0.75"/>
<rect x="486.65" y="269.49" width="1.6" height="1.6" fill="#2020e8"/>
<line x1="488.88" y1="269.84" x2="488.88" y2="270.84" stroke="#2020e8" stroke-width="0.6" opacity="0.75"/>
<line x1="488.08" y1="269.84" x2="489.68" y2="269.84" stroke="#2020e8" stroke-width="0.6" opacity="0.75"/>
<rect x="488.08" y="269.54" width="1.6" height="1.6" fill="#2020e8"/>
<line x1="490.21" y1="269.91" x2="490.21" y2="270.88" stroke="#2020e8" stroke-width="0.6" opacity="0.75"/>
<line x1="489.41" y1="269.91" x2="491.01" y2="269.91" stroke="#2020e8" stroke-width="0.6" opacity="0.75"/>
<rect x="489.41" y="269.59" width="1.6" height="1.6" fill="#2020e8"/>
<line x1="491.48" y1="269.97" x2="491.48" y2="270.91" stroke="#2020e8" stroke-width="0.6" opacity="0.75"/>
<line x1="490.68" y1="269.97" x2="492.28" y2="269.97" stroke="#2020e8" stroke-width="0.6" opacity="0.75"/>
<rect x="490.68" y="269.64" width="1.6" height="1.6" fill="#2020e8"/>
<line x1="492.67" y1="270.03" x2="492.67" y2="270.94" stroke="#2020e8" stroke-width="0.6" opacity="0.75"/>
<line x1="491.87" y1="270.03" x2="493.47" y2="270.03" stroke="#2020e8" stroke-width="0.6" opacity="0.75"/>
<rect x="491.87" y="269.69" width="1.6" height="1.6" fill="#2020e8"/>
<line x1="493.80" y1="270.09" x2="493.80" y2="270.97" stroke="#2020e8" stroke-width="0.6" opacity="0.75"/>
<line x1="493.00" y1="270.09" x2="494.60" y2="270.09" stroke="#2020e8" stroke-width="0.6" opacity="0.75"/>
<rect x="493.00" y="269.73" width="1.6" height="1.6" fill="#2020e8"/>
<line x1="502.75" y1="270.35" x2="502.75" y2="271.02" stroke="#2020e8" stroke-width="0.6" opacity="0.75"/>
<line x1="501.95" y1="270.35" x2="503.55" y2="270.35" stroke="#2020e8" stroke-width="0.6" opacity="0.75"/>
<line x1="509.09" y1="270.53" x2="509.09" y2="271.04" stroke="#2020e8" stroke-width="0.6" opacity="0.75"/>
<line x1="508.29" y1="270.53" x2="509.89" y2="270.53" stroke="#2020e8" stroke-width="0.6" opacity="0.75"/>
<path d="M392.20,262.84 L407.49,256.43 L416.44,249.00 L422.78,252.85 L427.71,255.92 L431.73,260.54 L435.13,262.59 L438.08,264.12 L440.68,265.41 L443.00,265.92 L451.95,268.22 L458.29,269.51 L463.22,269.93 L467.24,270.27 L470.64,270.34 L473.58,270.40 L476.18,270.45 L478.51,270.49 L480.61,270.53 L482.53,270.57 L484.30,270.60 L485.93,270.64 L487.45,270.66 L488.88,270.69 L490.21,270.72 L491.48,270.74 L492.67,270.77 L493.80,270.79 L502.75,270.79 L509.09,270.79" fill="none" stroke="#f03030" stroke-width="0.7" opacity="0.75"/>
<line x1="392.20" y1="254.38" x2="392.20" y2="271.30" stroke="#f03030" stroke-width="0.6" opacity="0.75"/>
<line x1="391.40" y1="254.38" x2="393.00" y2="254.38" stroke="#f03030" stroke-width="0.6" opacity="0.75"/>
<rect x="391.40" y="262.04" width="1.6" height="1.6" fill="#f03030"/>
<line x1="407.49" y1="250.03" x2="407.49" y2="262.84" stroke="#f03030" stroke-width="0.6" opacity="0.75"/>
<line x1="406.69" y1="250.03" x2="408.29" y2="250.03" stroke="#f03030" stroke-width="0.6" opacity="0.75"/>
<rect x="406.69" y="255.63" width="1.6" height="1.6" fill="#f03030"/>
<line x1="416.44" y1="241.31" x2="416.44" y2="256.69" stroke="#f03030" stroke-width="0.6" opacity="0.75"/>
<line x1="415.64" y1="241.31" x2="417.24" y2="241.31" stroke="#f03030" stroke-width="0.6" opacity="0.75"/>
<rect x="415.64" y="248.20" width="1.6" height="1.6" fill="#f03030"/>
<line x1="422.78" y1="246.44" x2="422.78" y2="259.25" stroke="#f03030" stroke-width="0.6" opacity="0.75"/>
<line x1="421.98" y1="246.44" x2="423.58" y2="246.44" stroke="#f03030" stroke-width="0.6" opacity="0.75"/>
<rect x="421.98" y="252.05" width="1.6" height="1.6" fill="#f03030"/>
<line x1="427.71" y1="250.80" x2="427.71" y2="261.05" stroke="#f03030" stroke-width="0.6" opacity="0.75"/>
<line x1="426.91" y1="250.80" x2="428.51" y2="250.80" stroke="#f03030" stroke-width="0.6" opacity="0.75"/>
<rect x="426.91" y="255.12" width="1.6" height="1.6" fill="#f03030"/>
<line x1="431.73" y1="256.69" x2="431.73" y2="264.38" stroke="#f03030" stroke-width="0.6" opacity="0.75"/>
<line x1="430.93" y1="256.69" x2="432.53" y2="256.69" stroke="#f03030" stroke-width="0.6" opacity="0.75"/>
<rect x="430.93" y="259.74" width="1.6" height="1.6" fill="#f03030"/>
<line x1="435.13" y1="259.51" x2="435.13" y2="265.66" stroke="#f03030" stroke-width="0.6" opacity="0.75"/>
<line x1="434.33" y1="259.51" x2="435.93" y2="259.51" stroke="#f03030" stroke-width="0.6" opacity="0.75"/>
<rect x="434.33" y="261.79" width="1.6" height="1.6" fill="#f03030"/>
<line x1="438.08" y1="261.56" x2="438.08" y2="266.69" stroke="#f03030" stroke-width="0.6" opacity="0.75"/>
<line x1="437.28" y1="261.56" x2="438.88" y2="261.56" stroke="#f03030" stroke-width="0.6" opacity="0.75"/>
<rect x="437.28" y="263.32" width="1.6" height="1.6" fill="#f03030"/>
<line x1="440.68" y1="263.35" x2="440.68" y2="267.46" stroke="#f03030" stroke-width="0.6" opacity="0.75"/>
<line x1="439.88" y1="263.35" x2="441.48" y2="263.35" stroke="#f03030" stroke-width="0.6" opacity="0.75"/>
<rect x="439.88" y="264.61" width="1.6" height="1.6" fill="#f03030"/>
<line x1="443.00" y1="264.38" x2="443.00" y2="267.46" stroke="#f03030" stroke-width="0.6" opacity="0.75"/>
<line x1="442.20" y1="264.38" x2="443.80" y2="264.38" stroke="#f03030" stroke-width="0.6" opacity="0.75"/>
<rect x="442.20" y="265.12" width="1.6" height="1.6" fill="#f03030"/>
<line x1="451.95" y1="267.20" x2="451.95" y2="269.25" stroke="#f03030" stroke-width="0.6" opacity="0.75"/>
<line x1="451.15" y1="267.20" x2="452.75" y2="267.20" stroke="#f03030" stroke-width="0.6" opacity="0.75"/>
<rect x="451.15" y="267.42" width="1.6" height="1.6" fill="#f03030"/>
<line x1="458.29" y1="268.57" x2="458.29" y2="270.45" stroke="#f03030" stroke-width="0.6" opacity="0.75"/>
<line x1="457.49" y1="268.57" x2="459.09" y2="268.57" stroke="#f03030" stroke-width="0.6" opacity="0.75"/>
<rect x="457.49" y="268.71" width="1.6" height="1.6" fill="#f03030"/>
<line x1="463.22" y1="269.06" x2="463.22" y2="270.80" stroke="#f03030" stroke-width="0.6" opacity="0.75"/>
<line x1="462.42" y1="269.06" x2="464.02" y2="269.06" stroke="#f03030" stroke-width="0.6" opacity="0.75"/>
<rect x="462.42" y="269.13" width="1.6" height="1.6" fill="#f03030"/>
<line x1="467.24" y1="269.46" x2="467.24" y2="271.09" stroke="#f03030" stroke-width="0.6" opacity="0.75"/>
<line x1="466.44" y1="269.46" x2="468.04" y2="269.46" stroke="#f03030" stroke-width="0.6" opacity="0.75"/>
<rect x="466.44" y="269.47" width="1.6" height="1.6" fill="#f03030"/>
<line x1="470.64" y1="269.57" x2="470.64" y2="271.11" stroke="#f03030" stroke-width="0.6" opacity="0.75"/>
<line x1="469.84" y1="269.57" x2="471.44" y2="269.57" stroke="#f03030" stroke-width="0.6" opacity="0.75"/>
<rect x="469.84" y="269.54" width="1.6" height="1.6" fill="#f03030"/>
<line x1="473.58" y1="269.66" x2="473.58" y2="271.13" stroke="#f03030" stroke-width="0.6" opacity="0.75"/>
<line x1="472.78" y1="269.66" x2="474.38" y2="269.66" stroke="#f03030" stroke-width="0.6" opacity="0.75"/>
<rect x="472.78" y="269.60" width="1.6" height="1.6" fill="#f03030"/>
<line x1="476.18" y1="269.75" x2="476.18" y2="271.15" stroke="#f03030" stroke-width="0.6" opacity="0.75"/>
<line x1="475.38" y1="269.75" x2="476.98" y2="269.75" stroke="#f03030" stroke-width="0.6" opacity="0.75"/>
<rect x="475.38" y="269.65" width="1.6" height="1.6" fill="#f03030"/>
<line x1="478.51" y1="269.82" x2="478.51" y2="271.16" stroke="#f03030" stroke-width="0.6" opacity="0.75"/>
<line x1="477.71" y1="269.82" x2="479.31" y2="269.82" stroke="#f03030" stroke-width="0.6" opacity="0.75"/>
<rect x="477.71" y="269.69" width="1.6" height="1.6" fill="#f03030"/>
<line x1="480.61" y1="269.89" x2="480.61" y2="271.17" stroke="#f03030" stroke-width="0.6" opacity="0.75"/>
<line x1="479.81" y1="269.89" x2="481.41" y2="269.89" stroke="#f03030" stroke-width="0.6" opacity="0.75"/>
<rect x="479.81" y="269.73" width="1.6" height="1.6" fill="#f03030"/>
<line x1="482.53" y1="269.96" x2="482.53" y2="271.18" stroke="#f03030" stroke-width="0.6" opacity="0.75"/>
<line x1="481.73" y1="269.96" x2="483.33" y2="269.96" stroke="#f03030" stroke-width="0.6" opacity="0.75"/>
<rect x="481.73" y="269.77" width="1.6" height="1.6" fill="#f03030"/>
<line x1="484.30" y1="270.01" x2="484.30" y2="271.19" stroke="#f03030" stroke-width="0.6" opacity="0.75"/>
<line x1="483.50" y1="270.01" x2="485.10" y2="270.01" stroke="#f03030" stroke-width="0.6" opacity="0.75"/>
<rect x="483.50" y="269.80" width="1.6" height="1.6" fill="#f03030"/>
<line x1="485.93" y1="270.07" x2="485.93" y2="271.20" stroke="#f03030" stroke-width="0.6" opacity="0.75"/>
<line x1="485.13" y1="270.07" x2="486.73" y2="270.07" stroke="#f03030" stroke-width="0.6" opacity="0.75"/>
<rect x="485.13" y="269.84" width="1.6" height="1.6" fill="#f03030"/>
<line x1="487.45" y1="270.12" x2="487.45" y2="271.21" stroke="#f03030" stroke-width="0.6" opacity="0.75"/>
<line x1="486.65" y1="270.12" x2="488.25" y2="270.12" stroke="#f03030" stroke-width="0.6" opacity="0.75"/>
<rect x="486.65" y="269.86" width="1.6" height="1.6" fill="#f03030"/>
<line x1="488.88" y1="270.16" x2="488.88" y2="271.22" stroke="#f03030" stroke-width="0.6" opacity="0.75"/>
<line x1="488.08" y1="270.16" x2="489.68" y2="270.16" stroke="#f03030" stroke-width="0.6" opacity="0.75"/>
<rect x="488.08" y="269.89" width="1.6" height="1.6" fill="#f03030"/>
<line x1="490.21" y1="270.21" x2="490.21" y2="271.23" stroke="#f03030" stroke-width="0.6" opacity="0.75"/>
<line x1="489.41" y1="270.21" x2="491.01" y2="270.21" stroke="#f03030" stroke-width="0.6" opacity="0.75"/>
<rect x="489.41" y="269.92" width="1.6" height="1.6" fill="#f03030"/>
<line x1="491.48" y1="270.25" x2="491.48" y2="271.24" stroke="#f03030" stroke-width="0.6" opacity="0.75"/>
<line x1="490.68" y1="270.25" x2="492.28" y2="270.25" stroke="#f03030" stroke-width="0.6" opacity="0.75"/>
<rect x="490.68" y="269.94" width="1.6" height="1.6" fill="#f03030"/>
<line x1="492.67" y1="270.29" x2="492.67" y2="271.24" stroke="#f03030" stroke-width="0.6" opacity="0.75"/>
<line x1="491.87" y1="270.29" x2="493.47" y2="270.29" stroke="#f03030" stroke-width="0.6" opacity="0.75"/>
<rect x="491.87" y="269.97" width="1.6" height="1.6" fill="#f03030"/>
<line x1="493.80" y1="270.33" x2="493.80" y2="271.25" stroke="#f03030" stroke-width="0.6" opacity="0.75"/>
<line x1="493.00" y1="270.33" x2="494.60" y2="270.33" stroke="#f03030" stroke-width="0.6" opacity="0.75"/>
<rect x="493.00" y="269.99" width="1.6" height="1.6" fill="#f03030"/>
<line x1="502.75" y1="270.45" x2="502.75" y2="271.13" stroke="#f03030" stroke-width="0.6" opacity="0.75"/>
<line x1="501.95" y1="270.45" x2="503.55" y2="270.45" stroke="#f03030" stroke-width="0.6" opacity="0.75"/>
<line x1="509.09" y1="270.53" x2="509.09" y2="271.04" stroke="#f03030" stroke-width="0.6" opacity="0.75"/>
<line x1="508.29" y1="270.53" x2="509.89" y2="270.53" stroke="#f03030" stroke-width="0.6" opacity="0.75"/>
<line x1="562.90" y1="193.61" x2="562.90" y2="271.70" stroke="#a4a4a4" stroke-width="0.9" />
<line x1="560.70" y1="271.40" x2="562.90" y2="271.40" stroke="#a4a4a4" stroke-width="0.9" />
<text x="560.00" y="274.66" font-size="9.6" text-anchor="end" font-weight="normal" font-style="normal" fill="#231f20" >0</text>
<line x1="560.70" y1="245.57" x2="562.90" y2="245.57" stroke="#a4a4a4" stroke-width="0.9" />
<text x="560.00" y="248.83" font-size="9.6" text-anchor="end" font-weight="normal" font-style="normal" fill="#231f20" >100</text>
<line x1="560.70" y1="219.74" x2="562.90" y2="219.74" stroke="#a4a4a4" stroke-width="0.9" />
<text x="560.00" y="223.00" font-size="9.6" text-anchor="end" font-weight="normal" font-style="normal" fill="#231f20" >200</text>
<line x1="560.70" y1="193.91" x2="562.90" y2="193.91" stroke="#a4a4a4" stroke-width="0.9" />
<text x="560.00" y="197.17" font-size="9.6" text-anchor="end" font-weight="normal" font-style="normal" fill="#231f20" >300</text>
<line x1="565.50" y1="274.10" x2="684.62" y2="274.10" stroke="#a4a4a4" stroke-width="0.9" />
<line x1="566.00" y1="274.10" x2="566.00" y2="275.40" stroke="#a4a4a4" stroke-width="0.6" />
<line x1="581.32" y1="274.10" x2="581.32" y2="275.40" stroke="#a4a4a4" stroke-width="0.6" />
<line x1="590.29" y1="274.10" x2="590.29" y2="275.40" stroke="#a4a4a4" stroke-width="0.6" />
<line x1="596.64" y1="274.10" x2="596.64" y2="275.40" stroke="#a4a4a4" stroke-width="0.6" />
<line x1="601.58" y1="274.10" x2="601.58" y2="275.40" stroke="#a4a4a4" stroke-width="0.6" />
<line x1="605.61" y1="274.10" x2="605.61" y2="275.40" stroke="#a4a4a4" stroke-width="0.6" />
<line x1="609.02" y1="274.10" x2="609.02" y2="275.40" stroke="#a4a4a4" stroke-width="0.6" />
<line x1="611.97" y1="274.10" x2="611.97" y2="275.40" stroke="#a4a4a4" stroke-width="0.6" />
<line x1="614.57" y1="274.10" x2="614.57" y2="275.40" stroke="#a4a4a4" stroke-width="0.6" />
<line x1="616.90" y1="274.10" x2="616.90" y2="275.40" stroke="#a4a4a4" stroke-width="0.6" />
<line x1="632.22" y1="274.10" x2="632.22" y2="275.40" stroke="#a4a4a4" stroke-width="0.6" />
<line x1="641.19" y1="274.10" x2="641.19" y2="275.40" stroke="#a4a4a4" stroke-width="0.6" />
<line x1="647.54" y1="274.10" x2="647.54" y2="275.40" stroke="#a4a4a4" stroke-width="0.6" />
<line x1="652.48" y1="274.10" x2="652.48" y2="275.40" stroke="#a4a4a4" stroke-width="0.6" />
<line x1="656.51" y1="274.10" x2="656.51" y2="275.40" stroke="#a4a4a4" stroke-width="0.6" />
<line x1="659.92" y1="274.10" x2="659.92" y2="275.40" stroke="#a4a4a4" stroke-width="0.6" />
<line x1="662.87" y1="274.10" x2="662.87" y2="275.40" stroke="#a4a4a4" stroke-width="0.6" />
<line x1="665.47" y1="274.10" x2="665.47" y2="275.40" stroke="#a4a4a4" stroke-width="0.6" />
<line x1="667.80" y1="274.10" x2="667.80" y2="275.40" stroke="#a4a4a4" stroke-width="0.6" />
<line x1="683.12" y1="274.10" x2="683.12" y2="275.40" stroke="#a4a4a4" stroke-width="0.6" />
<text x="566.00" y="285.60" font-size="9.1" text-anchor="middle" font-weight="normal" font-style="normal" fill="#231f20" >100</text>
<text x="616.90" y="285.60" font-size="9.1" text-anchor="middle" font-weight="normal" font-style="normal" fill="#231f20" >1,000</text>
<text x="667.80" y="285.60" font-size="9.1" text-anchor="middle" font-weight="normal" font-style="normal" fill="#231f20" >10,000</text>
<text x="624.00" y="299.40" font-size="10.75" text-anchor="middle" font-weight="normal" font-style="normal" fill="#231f20" >Size range</text>
<text transform="translate(536.40,232.60) rotate(-90)" font-size="10.8" text-anchor="middle" fill="#231f20">VAT adipocyte number</text>
<text x="528.00" y="169.90" font-size="19" text-anchor="start" font-weight="bold" font-style="normal" fill="#000" >h</text>
<path d="M566.00,271.14 L581.32,258.23 L590.29,240.40 L596.64,247.38 L601.58,250.22 L605.61,252.54 L609.02,255.64 L611.97,257.97 L614.57,260.03 L616.90,261.58 L625.86,263.39 L632.22,266.75 L637.16,268.04 L641.19,268.56 L644.59,268.86 L647.54,269.11 L650.15,269.34 L652.48,269.55 L654.58,269.73 L656.51,269.90 L658.28,270.05 L659.92,270.19 L661.44,270.33 L662.87,270.45 L664.21,270.57 L665.47,270.68 L666.67,270.78 L667.80,270.88 L676.76,271.03 L683.12,271.14" fill="none" stroke="#222" stroke-width="0.7" opacity="0.8"/>
<line x1="566.00" y1="270.88" x2="566.00" y2="271.40" stroke="#222" stroke-width="0.6" opacity="0.75"/>
<line x1="565.20" y1="270.88" x2="566.80" y2="270.88" stroke="#222" stroke-width="0.6" opacity="0.75"/>
<rect x="565.20" y="270.34" width="1.6" height="1.6" fill="#222"/>
<line x1="581.32" y1="249.19" x2="581.32" y2="267.27" stroke="#222" stroke-width="0.6" opacity="0.75"/>
<line x1="580.52" y1="249.19" x2="582.12" y2="249.19" stroke="#222" stroke-width="0.6" opacity="0.75"/>
<rect x="580.52" y="257.43" width="1.6" height="1.6" fill="#222"/>
<line x1="590.29" y1="232.65" x2="590.29" y2="248.15" stroke="#222" stroke-width="0.6" opacity="0.75"/>
<line x1="589.49" y1="232.65" x2="591.09" y2="232.65" stroke="#222" stroke-width="0.6" opacity="0.75"/>
<rect x="589.49" y="239.60" width="1.6" height="1.6" fill="#222"/>
<line x1="596.64" y1="238.34" x2="596.64" y2="256.42" stroke="#222" stroke-width="0.6" opacity="0.75"/>
<line x1="595.84" y1="238.34" x2="597.44" y2="238.34" stroke="#222" stroke-width="0.6" opacity="0.75"/>
<rect x="595.84" y="246.58" width="1.6" height="1.6" fill="#222"/>
<line x1="601.58" y1="241.18" x2="601.58" y2="259.26" stroke="#222" stroke-width="0.6" opacity="0.75"/>
<line x1="600.78" y1="241.18" x2="602.38" y2="241.18" stroke="#222" stroke-width="0.6" opacity="0.75"/>
<rect x="600.78" y="249.42" width="1.6" height="1.6" fill="#222"/>
<line x1="605.61" y1="244.80" x2="605.61" y2="260.29" stroke="#222" stroke-width="0.6" opacity="0.75"/>
<line x1="604.81" y1="244.80" x2="606.41" y2="244.80" stroke="#222" stroke-width="0.6" opacity="0.75"/>
<rect x="604.81" y="251.74" width="1.6" height="1.6" fill="#222"/>
<line x1="609.02" y1="249.19" x2="609.02" y2="262.10" stroke="#222" stroke-width="0.6" opacity="0.75"/>
<line x1="608.22" y1="249.19" x2="609.82" y2="249.19" stroke="#222" stroke-width="0.6" opacity="0.75"/>
<rect x="608.22" y="254.84" width="1.6" height="1.6" fill="#222"/>
<line x1="611.97" y1="252.80" x2="611.97" y2="263.13" stroke="#222" stroke-width="0.6" opacity="0.75"/>
<line x1="611.17" y1="252.80" x2="612.77" y2="252.80" stroke="#222" stroke-width="0.6" opacity="0.75"/>
<rect x="611.17" y="257.17" width="1.6" height="1.6" fill="#222"/>
<line x1="614.57" y1="256.16" x2="614.57" y2="263.91" stroke="#222" stroke-width="0.6" opacity="0.75"/>
<line x1="613.77" y1="256.16" x2="615.37" y2="256.16" stroke="#222" stroke-width="0.6" opacity="0.75"/>
<rect x="613.77" y="259.23" width="1.6" height="1.6" fill="#222"/>
<line x1="616.90" y1="258.48" x2="616.90" y2="264.68" stroke="#222" stroke-width="0.6" opacity="0.75"/>
<line x1="616.10" y1="258.48" x2="617.70" y2="258.48" stroke="#222" stroke-width="0.6" opacity="0.75"/>
<rect x="616.10" y="260.78" width="1.6" height="1.6" fill="#222"/>
<line x1="625.86" y1="261.33" x2="625.86" y2="265.46" stroke="#222" stroke-width="0.6" opacity="0.75"/>
<line x1="625.06" y1="261.33" x2="626.66" y2="261.33" stroke="#222" stroke-width="0.6" opacity="0.75"/>
<rect x="625.06" y="262.59" width="1.6" height="1.6" fill="#222"/>
<line x1="632.22" y1="264.89" x2="632.22" y2="268.62" stroke="#222" stroke-width="0.6" opacity="0.75"/>
<line x1="631.42" y1="264.89" x2="633.02" y2="264.89" stroke="#222" stroke-width="0.6" opacity="0.75"/>
<rect x="631.42" y="265.95" width="1.6" height="1.6" fill="#222"/>
<line x1="637.16" y1="266.33" x2="637.16" y2="269.75" stroke="#222" stroke-width="0.6" opacity="0.75"/>
<line x1="636.36" y1="266.33" x2="637.96" y2="266.33" stroke="#222" stroke-width="0.6" opacity="0.75"/>
<rect x="636.36" y="267.24" width="1.6" height="1.6" fill="#222"/>
<line x1="641.19" y1="266.98" x2="641.19" y2="270.14" stroke="#222" stroke-width="0.6" opacity="0.75"/>
<line x1="640.39" y1="266.98" x2="641.99" y2="266.98" stroke="#222" stroke-width="0.6" opacity="0.75"/>
<rect x="640.39" y="267.76" width="1.6" height="1.6" fill="#222"/>
<line x1="644.59" y1="267.38" x2="644.59" y2="270.33" stroke="#222" stroke-width="0.6" opacity="0.75"/>
<line x1="643.79" y1="267.38" x2="645.39" y2="267.38" stroke="#222" stroke-width="0.6" opacity="0.75"/>
<rect x="643.79" y="268.06" width="1.6" height="1.6" fill="#222"/>
<line x1="647.54" y1="267.73" x2="647.54" y2="270.50" stroke="#222" stroke-width="0.6" opacity="0.75"/>
<line x1="646.74" y1="267.73" x2="648.34" y2="267.73" stroke="#222" stroke-width="0.6" opacity="0.75"/>
<rect x="646.74" y="268.31" width="1.6" height="1.6" fill="#222"/>
<line x1="650.15" y1="268.04" x2="650.15" y2="270.64" stroke="#222" stroke-width="0.6" opacity="0.75"/>
<line x1="649.35" y1="268.04" x2="650.95" y2="268.04" stroke="#222" stroke-width="0.6" opacity="0.75"/>
<rect x="649.35" y="268.54" width="1.6" height="1.6" fill="#222"/>
<line x1="652.48" y1="268.32" x2="652.48" y2="270.77" stroke="#222" stroke-width="0.6" opacity="0.75"/>
<line x1="651.68" y1="268.32" x2="653.28" y2="268.32" stroke="#222" stroke-width="0.6" opacity="0.75"/>
<rect x="651.68" y="268.75" width="1.6" height="1.6" fill="#222"/>
<line x1="654.58" y1="268.57" x2="654.58" y2="270.89" stroke="#222" stroke-width="0.6" opacity="0.75"/>
<line x1="653.78" y1="268.57" x2="655.38" y2="268.57" stroke="#222" stroke-width="0.6" opacity="0.75"/>
<rect x="653.78" y="268.93" width="1.6" height="1.6" fill="#222"/>
<line x1="656.51" y1="268.80" x2="656.51" y2="271.00" stroke="#222" stroke-width="0.6" opacity="0.75"/>
<line x1="655.71" y1="268.80" x2="657.31" y2="268.80" stroke="#222" stroke-width="0.6" opacity="0.75"/>
<rect x="655.71" y="269.10" width="1.6" height="1.6" fill="#222"/>
<line x1="658.28" y1="269.01" x2="658.28" y2="271.09" stroke="#222" stroke-width="0.6" opacity="0.75"/>
<line x1="657.48" y1="269.01" x2="659.08" y2="269.01" stroke="#222" stroke-width="0.6" opacity="0.75"/>
<rect x="657.48" y="269.25" width="1.6" height="1.6" fill="#222"/>
<line x1="659.92" y1="269.20" x2="659.92" y2="271.19" stroke="#222" stroke-width="0.6" opacity="0.75"/>
<line x1="659.12" y1="269.20" x2="660.72" y2="269.20" stroke="#222" stroke-width="0.6" opacity="0.75"/>
<rect x="659.12" y="269.39" width="1.6" height="1.6" fill="#222"/>
<line x1="661.44" y1="269.38" x2="661.44" y2="271.27" stroke="#222" stroke-width="0.6" opacity="0.75"/>
<line x1="660.64" y1="269.38" x2="662.24" y2="269.38" stroke="#222" stroke-width="0.6" opacity="0.75"/>
<rect x="660.64" y="269.53" width="1.6" height="1.6" fill="#222"/>
<line x1="662.87" y1="269.55" x2="662.87" y2="271.35" stroke="#222" stroke-width="0.6" opacity="0.75"/>
<line x1="662.07" y1="269.55" x2="663.67" y2="269.55" stroke="#222" stroke-width="0.6" opacity="0.75"/>
<rect x="662.07" y="269.65" width="1.6" height="1.6" fill="#222"/>
<line x1="664.21" y1="269.71" x2="664.21" y2="271.40" stroke="#222" stroke-width="0.6" opacity="0.75"/>
<line x1="663.41" y1="269.71" x2="665.01" y2="269.71" stroke="#222" stroke-width="0.6" opacity="0.75"/>
<rect x="663.41" y="269.77" width="1.6" height="1.6" fill="#222"/>
<line x1="665.47" y1="269.86" x2="665.47" y2="271.40" stroke="#222" stroke-width="0.6" opacity="0.75"/>
<line x1="664.67" y1="269.86" x2="666.27" y2="269.86" stroke="#222" stroke-width="0.6" opacity="0.75"/>
<rect x="664.67" y="269.88" width="1.6" height="1.6" fill="#222"/>
<line x1="666.67" y1="270.01" x2="666.67" y2="271.40" stroke="#222" stroke-width="0.6" opacity="0.75"/>
<line x1="665.87" y1="270.01" x2="667.47" y2="270.01" stroke="#222" stroke-width="0.6" opacity="0.75"/>
<rect x="665.87" y="269.98" width="1.6" height="1.6" fill="#222"/>
<line x1="667.80" y1="270.14" x2="667.80" y2="271.40" stroke="#222" stroke-width="0.6" opacity="0.75"/>
<line x1="667.00" y1="270.14" x2="668.60" y2="270.14" stroke="#222" stroke-width="0.6" opacity="0.75"/>
<rect x="667.00" y="270.08" width="1.6" height="1.6" fill="#222"/>
<line x1="676.76" y1="270.58" x2="676.76" y2="271.40" stroke="#222" stroke-width="0.6" opacity="0.75"/>
<line x1="675.96" y1="270.58" x2="677.56" y2="270.58" stroke="#222" stroke-width="0.6" opacity="0.75"/>
<line x1="683.12" y1="270.88" x2="683.12" y2="271.40" stroke="#222" stroke-width="0.6" opacity="0.75"/>
<line x1="682.32" y1="270.88" x2="683.92" y2="270.88" stroke="#222" stroke-width="0.6" opacity="0.75"/>
<path d="M566.00,271.14 L581.32,254.09 L590.29,240.40 L596.64,243.50 L601.58,245.57 L605.61,247.64 L609.02,251.25 L611.97,253.32 L614.57,254.09 L616.90,256.16 L625.86,263.39 L632.22,267.53 L637.16,268.56 L641.19,268.82 L644.59,269.08 L647.54,269.31 L650.15,269.51 L652.48,269.69 L654.58,269.86 L656.51,270.01 L658.28,270.14 L659.92,270.27 L661.44,270.39 L662.87,270.50 L664.21,270.60 L665.47,270.70 L666.67,270.80 L667.80,270.88 L676.76,271.03 L683.12,271.14" fill="none" stroke="#3cc83c" stroke-width="0.8" opacity="0.85"/>
<line x1="566.00" y1="270.88" x2="566.00" y2="271.40" stroke="#3cc83c" stroke-width="0.6" opacity="0.75"/>
<line x1="565.20" y1="270.88" x2="566.80" y2="270.88" stroke="#3cc83c" stroke-width="0.6" opacity="0.75"/>
<rect x="565.20" y="270.34" width="1.6" height="1.6" fill="#3cc83c"/>
<line x1="581.32" y1="248.93" x2="581.32" y2="259.26" stroke="#3cc83c" stroke-width="0.6" opacity="0.75"/>
<line x1="580.52" y1="248.93" x2="582.12" y2="248.93" stroke="#3cc83c" stroke-width="0.6" opacity="0.75"/>
<rect x="580.52" y="253.29" width="1.6" height="1.6" fill="#3cc83c"/>
<line x1="590.29" y1="230.07" x2="590.29" y2="250.74" stroke="#3cc83c" stroke-width="0.6" opacity="0.75"/>
<line x1="589.49" y1="230.07" x2="591.09" y2="230.07" stroke="#3cc83c" stroke-width="0.6" opacity="0.75"/>
<rect x="589.49" y="239.60" width="1.6" height="1.6" fill="#3cc83c"/>
<line x1="596.64" y1="237.05" x2="596.64" y2="249.96" stroke="#3cc83c" stroke-width="0.6" opacity="0.75"/>
<line x1="595.84" y1="237.05" x2="597.44" y2="237.05" stroke="#3cc83c" stroke-width="0.6" opacity="0.75"/>
<rect x="595.84" y="242.70" width="1.6" height="1.6" fill="#3cc83c"/>
<line x1="601.58" y1="239.11" x2="601.58" y2="252.03" stroke="#3cc83c" stroke-width="0.6" opacity="0.75"/>
<line x1="600.78" y1="239.11" x2="602.38" y2="239.11" stroke="#3cc83c" stroke-width="0.6" opacity="0.75"/>
<rect x="600.78" y="244.77" width="1.6" height="1.6" fill="#3cc83c"/>
<line x1="605.61" y1="242.47" x2="605.61" y2="252.80" stroke="#3cc83c" stroke-width="0.6" opacity="0.75"/>
<line x1="604.81" y1="242.47" x2="606.41" y2="242.47" stroke="#3cc83c" stroke-width="0.6" opacity="0.75"/>
<rect x="604.81" y="246.84" width="1.6" height="1.6" fill="#3cc83c"/>
<line x1="609.02" y1="247.38" x2="609.02" y2="255.13" stroke="#3cc83c" stroke-width="0.6" opacity="0.75"/>
<line x1="608.22" y1="247.38" x2="609.82" y2="247.38" stroke="#3cc83c" stroke-width="0.6" opacity="0.75"/>
<rect x="608.22" y="250.45" width="1.6" height="1.6" fill="#3cc83c"/>
<line x1="611.97" y1="249.44" x2="611.97" y2="257.19" stroke="#3cc83c" stroke-width="0.6" opacity="0.75"/>
<line x1="611.17" y1="249.44" x2="612.77" y2="249.44" stroke="#3cc83c" stroke-width="0.6" opacity="0.75"/>
<rect x="611.17" y="252.52" width="1.6" height="1.6" fill="#3cc83c"/>
<line x1="614.57" y1="250.99" x2="614.57" y2="257.19" stroke="#3cc83c" stroke-width="0.6" opacity="0.75"/>
<line x1="613.77" y1="250.99" x2="615.37" y2="250.99" stroke="#3cc83c" stroke-width="0.6" opacity="0.75"/>
<rect x="613.77" y="253.29" width="1.6" height="1.6" fill="#3cc83c"/>
<line x1="616.90" y1="253.58" x2="616.90" y2="258.74" stroke="#3cc83c" stroke-width="0.6" opacity="0.75"/>
<line x1="616.10" y1="253.58" x2="617.70" y2="253.58" stroke="#3cc83c" stroke-width="0.6" opacity="0.75"/>
<rect x="616.10" y="255.36" width="1.6" height="1.6" fill="#3cc83c"/>
<line x1="625.86" y1="261.84" x2="625.86" y2="264.94" stroke="#3cc83c" stroke-width="0.6" opacity="0.75"/>
<line x1="625.06" y1="261.84" x2="626.66" y2="261.84" stroke="#3cc83c" stroke-width="0.6" opacity="0.75"/>
<rect x="625.06" y="262.59" width="1.6" height="1.6" fill="#3cc83c"/>
<line x1="632.22" y1="266.12" x2="632.22" y2="268.93" stroke="#3cc83c" stroke-width="0.6" opacity="0.75"/>
<line x1="631.42" y1="266.12" x2="633.02" y2="266.12" stroke="#3cc83c" stroke-width="0.6" opacity="0.75"/>
<rect x="631.42" y="266.73" width="1.6" height="1.6" fill="#3cc83c"/>
<line x1="637.16" y1="267.26" x2="637.16" y2="269.85" stroke="#3cc83c" stroke-width="0.6" opacity="0.75"/>
<line x1="636.36" y1="267.26" x2="637.96" y2="267.26" stroke="#3cc83c" stroke-width="0.6" opacity="0.75"/>
<rect x="636.36" y="267.76" width="1.6" height="1.6" fill="#3cc83c"/>
<line x1="641.19" y1="267.61" x2="641.19" y2="270.02" stroke="#3cc83c" stroke-width="0.6" opacity="0.75"/>
<line x1="640.39" y1="267.61" x2="641.99" y2="267.61" stroke="#3cc83c" stroke-width="0.6" opacity="0.75"/>
<rect x="640.39" y="268.02" width="1.6" height="1.6" fill="#3cc83c"/>
<line x1="644.59" y1="267.95" x2="644.59" y2="270.21" stroke="#3cc83c" stroke-width="0.6" opacity="0.75"/>
<line x1="643.79" y1="267.95" x2="645.39" y2="267.95" stroke="#3cc83c" stroke-width="0.6" opacity="0.75"/>
<rect x="643.79" y="268.28" width="1.6" height="1.6" fill="#3cc83c"/>
<line x1="647.54" y1="268.25" x2="647.54" y2="270.37" stroke="#3cc83c" stroke-width="0.6" opacity="0.75"/>
<line x1="646.74" y1="268.25" x2="648.34" y2="268.25" stroke="#3cc83c" stroke-width="0.6" opacity="0.75"/>
<rect x="646.74" y="268.51" width="1.6" height="1.6" fill="#3cc83c"/>
<line x1="650.15" y1="268.51" x2="650.15" y2="270.51" stroke="#3cc83c" stroke-width="0.6" opacity="0.75"/>
<line x1="649.35" y1="268.51" x2="650.95" y2="268.51" stroke="#3cc83c" stroke-width="0.6" opacity="0.75"/>
<rect x="649.35" y="268.71" width="1.6" height="1.6" fill="#3cc83c"/>
<line x1="652.48" y1="268.74" x2="652.48" y2="270.64" stroke="#3cc83c" stroke-width="0.6" opacity="0.75"/>
<line x1="651.68" y1="268.74" x2="653.28" y2="268.74" stroke="#3cc83c" stroke-width="0.6" opacity="0.75"/>
<rect x="651.68" y="268.89" width="1.6" height="1.6" fill="#3cc83c"/>
<line x1="654.58" y1="268.96" x2="654.58" y2="270.76" stroke="#3cc83c" stroke-width="0.6" opacity="0.75"/>
<line x1="653.78" y1="268.96" x2="655.38" y2="268.96" stroke="#3cc83c" stroke-width="0.6" opacity="0.75"/>
<rect x="653.78" y="269.06" width="1.6" height="1.6" fill="#3cc83c"/>
<line x1="656.51" y1="269.15" x2="656.51" y2="270.87" stroke="#3cc83c" stroke-width="0.6" opacity="0.75"/>
<line x1="655.71" y1="269.15" x2="657.31" y2="269.15" stroke="#3cc83c" stroke-width="0.6" opacity="0.75"/>
<rect x="655.71" y="269.21" width="1.6" height="1.6" fill="#3cc83c"/>
<line x1="658.28" y1="269.33" x2="658.28" y2="270.96" stroke="#3cc83c" stroke-width="0.6" opacity="0.75"/>
<line x1="657.48" y1="269.33" x2="659.08" y2="269.33" stroke="#3cc83c" stroke-width="0.6" opacity="0.75"/>
<rect x="657.48" y="269.34" width="1.6" height="1.6" fill="#3cc83c"/>
<line x1="659.92" y1="269.49" x2="659.92" y2="271.05" stroke="#3cc83c" stroke-width="0.6" opacity="0.75"/>
<line x1="659.12" y1="269.49" x2="660.72" y2="269.49" stroke="#3cc83c" stroke-width="0.6" opacity="0.75"/>
<rect x="659.12" y="269.47" width="1.6" height="1.6" fill="#3cc83c"/>
<line x1="661.44" y1="269.64" x2="661.44" y2="271.14" stroke="#3cc83c" stroke-width="0.6" opacity="0.75"/>
<line x1="660.64" y1="269.64" x2="662.24" y2="269.64" stroke="#3cc83c" stroke-width="0.6" opacity="0.75"/>
<rect x="660.64" y="269.59" width="1.6" height="1.6" fill="#3cc83c"/>
<line x1="662.87" y1="269.79" x2="662.87" y2="271.22" stroke="#3cc83c" stroke-width="0.6" opacity="0.75"/>
<line x1="662.07" y1="269.79" x2="663.67" y2="269.79" stroke="#3cc83c" stroke-width="0.6" opacity="0.75"/>
<rect x="662.07" y="269.70" width="1.6" height="1.6" fill="#3cc83c"/>
<line x1="664.21" y1="269.92" x2="664.21" y2="271.29" stroke="#3cc83c" stroke-width="0.6" opacity="0.75"/>
<line x1="663.41" y1="269.92" x2="665.01" y2="269.92" stroke="#3cc83c" stroke-width="0.6" opacity="0.75"/>
<rect x="663.41" y="269.80" width="1.6" height="1.6" fill="#3cc83c"/>
<line x1="665.47" y1="270.05" x2="665.47" y2="271.36" stroke="#3cc83c" stroke-width="0.6" opacity="0.75"/>
<line x1="664.67" y1="270.05" x2="666.27" y2="270.05" stroke="#3cc83c" stroke-width="0.6" opacity="0.75"/>
<rect x="664.67" y="269.90" width="1.6" height="1.6" fill="#3cc83c"/>
<line x1="666.67" y1="270.17" x2="666.67" y2="271.40" stroke="#3cc83c" stroke-width="0.6" opacity="0.75"/>
<line x1="665.87" y1="270.17" x2="667.47" y2="270.17" stroke="#3cc83c" stroke-width="0.6" opacity="0.75"/>
<rect x="665.87" y="270.00" width="1.6" height="1.6" fill="#3cc83c"/>
<line x1="667.80" y1="270.28" x2="667.80" y2="271.40" stroke="#3cc83c" stroke-width="0.6" opacity="0.75"/>
<line x1="667.00" y1="270.28" x2="668.60" y2="270.28" stroke="#3cc83c" stroke-width="0.6" opacity="0.75"/>
<rect x="667.00" y="270.08" width="1.6" height="1.6" fill="#3cc83c"/>
<line x1="676.76" y1="270.63" x2="676.76" y2="271.40" stroke="#3cc83c" stroke-width="0.6" opacity="0.75"/>
<line x1="675.96" y1="270.63" x2="677.56" y2="270.63" stroke="#3cc83c" stroke-width="0.6" opacity="0.75"/>
<line x1="683.12" y1="270.88" x2="683.12" y2="271.40" stroke="#3cc83c" stroke-width="0.6" opacity="0.75"/>
<line x1="682.32" y1="270.88" x2="683.92" y2="270.88" stroke="#3cc83c" stroke-width="0.6" opacity="0.75"/>
<path d="M566.00,271.14 L581.32,267.53 L590.29,258.74 L596.64,258.74 L601.58,260.81 L605.61,262.10 L609.02,263.39 L611.97,263.39 L614.57,262.36 L616.90,263.65 L625.86,266.23 L632.22,267.01 L637.16,267.58 L641.19,268.04 L644.59,268.37 L647.54,268.66 L650.15,268.91 L652.48,269.14 L654.58,269.34 L656.51,269.53 L658.28,269.70 L659.92,269.86 L661.44,270.01 L662.87,270.15 L664.21,270.28 L665.47,270.40 L666.67,270.52 L667.80,270.63 L676.76,270.78 L683.12,270.88" fill="none" stroke="#2020e8" stroke-width="0.8" opacity="0.85"/>
<line x1="566.00" y1="270.88" x2="566.00" y2="271.40" stroke="#2020e8" stroke-width="0.6" opacity="0.75"/>
<line x1="565.20" y1="270.88" x2="566.80" y2="270.88" stroke="#2020e8" stroke-width="0.6" opacity="0.75"/>
<rect x="565.20" y="270.34" width="1.6" height="1.6" fill="#2020e8"/>
<line x1="581.32" y1="265.98" x2="581.32" y2="269.08" stroke="#2020e8" stroke-width="0.6" opacity="0.75"/>
<line x1="580.52" y1="265.98" x2="582.12" y2="265.98" stroke="#2020e8" stroke-width="0.6" opacity="0.75"/>
<rect x="580.52" y="266.73" width="1.6" height="1.6" fill="#2020e8"/>
<line x1="590.29" y1="256.68" x2="590.29" y2="260.81" stroke="#2020e8" stroke-width="0.6" opacity="0.75"/>
<line x1="589.49" y1="256.68" x2="591.09" y2="256.68" stroke="#2020e8" stroke-width="0.6" opacity="0.75"/>
<rect x="589.49" y="257.94" width="1.6" height="1.6" fill="#2020e8"/>
<line x1="596.64" y1="256.68" x2="596.64" y2="260.81" stroke="#2020e8" stroke-width="0.6" opacity="0.75"/>
<line x1="595.84" y1="256.68" x2="597.44" y2="256.68" stroke="#2020e8" stroke-width="0.6" opacity="0.75"/>
<rect x="595.84" y="257.94" width="1.6" height="1.6" fill="#2020e8"/>
<line x1="601.58" y1="258.99" x2="601.58" y2="262.62" stroke="#2020e8" stroke-width="0.6" opacity="0.75"/>
<line x1="600.78" y1="258.99" x2="602.38" y2="258.99" stroke="#2020e8" stroke-width="0.6" opacity="0.75"/>
<rect x="600.78" y="260.01" width="1.6" height="1.6" fill="#2020e8"/>
<line x1="605.61" y1="260.49" x2="605.61" y2="263.71" stroke="#2020e8" stroke-width="0.6" opacity="0.75"/>
<line x1="604.81" y1="260.49" x2="606.41" y2="260.49" stroke="#2020e8" stroke-width="0.6" opacity="0.75"/>
<rect x="604.81" y="261.30" width="1.6" height="1.6" fill="#2020e8"/>
<line x1="609.02" y1="261.96" x2="609.02" y2="264.83" stroke="#2020e8" stroke-width="0.6" opacity="0.75"/>
<line x1="608.22" y1="261.96" x2="609.82" y2="261.96" stroke="#2020e8" stroke-width="0.6" opacity="0.75"/>
<rect x="608.22" y="262.59" width="1.6" height="1.6" fill="#2020e8"/>
<line x1="611.97" y1="262.11" x2="611.97" y2="264.68" stroke="#2020e8" stroke-width="0.6" opacity="0.75"/>
<line x1="611.17" y1="262.11" x2="612.77" y2="262.11" stroke="#2020e8" stroke-width="0.6" opacity="0.75"/>
<rect x="611.17" y="262.59" width="1.6" height="1.6" fill="#2020e8"/>
<line x1="614.57" y1="261.21" x2="614.57" y2="263.51" stroke="#2020e8" stroke-width="0.6" opacity="0.75"/>
<line x1="613.77" y1="261.21" x2="615.37" y2="261.21" stroke="#2020e8" stroke-width="0.6" opacity="0.75"/>
<rect x="613.77" y="261.56" width="1.6" height="1.6" fill="#2020e8"/>
<line x1="616.90" y1="262.62" x2="616.90" y2="264.68" stroke="#2020e8" stroke-width="0.6" opacity="0.75"/>
<line x1="616.10" y1="262.62" x2="617.70" y2="262.62" stroke="#2020e8" stroke-width="0.6" opacity="0.75"/>
<rect x="616.10" y="262.85" width="1.6" height="1.6" fill="#2020e8"/>
<line x1="625.86" y1="265.31" x2="625.86" y2="267.16" stroke="#2020e8" stroke-width="0.6" opacity="0.75"/>
<line x1="625.06" y1="265.31" x2="626.66" y2="265.31" stroke="#2020e8" stroke-width="0.6" opacity="0.75"/>
<rect x="625.06" y="265.43" width="1.6" height="1.6" fill="#2020e8"/>
<line x1="632.22" y1="266.15" x2="632.22" y2="267.86" stroke="#2020e8" stroke-width="0.6" opacity="0.75"/>
<line x1="631.42" y1="266.15" x2="633.02" y2="266.15" stroke="#2020e8" stroke-width="0.6" opacity="0.75"/>
<rect x="631.42" y="266.21" width="1.6" height="1.6" fill="#2020e8"/>
<line x1="637.16" y1="266.78" x2="637.16" y2="268.37" stroke="#2020e8" stroke-width="0.6" opacity="0.75"/>
<line x1="636.36" y1="266.78" x2="637.96" y2="266.78" stroke="#2020e8" stroke-width="0.6" opacity="0.75"/>
<rect x="636.36" y="266.78" width="1.6" height="1.6" fill="#2020e8"/>
<line x1="641.19" y1="267.29" x2="641.19" y2="268.79" stroke="#2020e8" stroke-width="0.6" opacity="0.75"/>
<line x1="640.39" y1="267.29" x2="641.99" y2="267.29" stroke="#2020e8" stroke-width="0.6" opacity="0.75"/>
<rect x="640.39" y="267.24" width="1.6" height="1.6" fill="#2020e8"/>
<line x1="644.59" y1="267.66" x2="644.59" y2="269.08" stroke="#2020e8" stroke-width="0.6" opacity="0.75"/>
<line x1="643.79" y1="267.66" x2="645.39" y2="267.66" stroke="#2020e8" stroke-width="0.6" opacity="0.75"/>
<rect x="643.79" y="267.57" width="1.6" height="1.6" fill="#2020e8"/>
<line x1="647.54" y1="267.98" x2="647.54" y2="269.33" stroke="#2020e8" stroke-width="0.6" opacity="0.75"/>
<line x1="646.74" y1="267.98" x2="648.34" y2="267.98" stroke="#2020e8" stroke-width="0.6" opacity="0.75"/>
<rect x="646.74" y="267.86" width="1.6" height="1.6" fill="#2020e8"/>
<line x1="650.15" y1="268.27" x2="650.15" y2="269.56" stroke="#2020e8" stroke-width="0.6" opacity="0.75"/>
<line x1="649.35" y1="268.27" x2="650.95" y2="268.27" stroke="#2020e8" stroke-width="0.6" opacity="0.75"/>
<rect x="649.35" y="268.11" width="1.6" height="1.6" fill="#2020e8"/>
<line x1="652.48" y1="268.52" x2="652.48" y2="269.75" stroke="#2020e8" stroke-width="0.6" opacity="0.75"/>
<line x1="651.68" y1="268.52" x2="653.28" y2="268.52" stroke="#2020e8" stroke-width="0.6" opacity="0.75"/>
<rect x="651.68" y="268.34" width="1.6" height="1.6" fill="#2020e8"/>
<line x1="654.58" y1="268.75" x2="654.58" y2="269.93" stroke="#2020e8" stroke-width="0.6" opacity="0.75"/>
<line x1="653.78" y1="268.75" x2="655.38" y2="268.75" stroke="#2020e8" stroke-width="0.6" opacity="0.75"/>
<rect x="653.78" y="268.54" width="1.6" height="1.6" fill="#2020e8"/>
<line x1="656.51" y1="268.96" x2="656.51" y2="270.10" stroke="#2020e8" stroke-width="0.6" opacity="0.75"/>
<line x1="655.71" y1="268.96" x2="657.31" y2="268.96" stroke="#2020e8" stroke-width="0.6" opacity="0.75"/>
<rect x="655.71" y="268.73" width="1.6" height="1.6" fill="#2020e8"/>
<line x1="658.28" y1="269.15" x2="658.28" y2="270.25" stroke="#2020e8" stroke-width="0.6" opacity="0.75"/>
<line x1="657.48" y1="269.15" x2="659.08" y2="269.15" stroke="#2020e8" stroke-width="0.6" opacity="0.75"/>
<rect x="657.48" y="268.90" width="1.6" height="1.6" fill="#2020e8"/>
<line x1="659.92" y1="269.33" x2="659.92" y2="270.39" stroke="#2020e8" stroke-width="0.6" opacity="0.75"/>
<line x1="659.12" y1="269.33" x2="660.72" y2="269.33" stroke="#2020e8" stroke-width="0.6" opacity="0.75"/>
<rect x="659.12" y="269.06" width="1.6" height="1.6" fill="#2020e8"/>
<line x1="661.44" y1="269.50" x2="661.44" y2="270.52" stroke="#2020e8" stroke-width="0.6" opacity="0.75"/>
<line x1="660.64" y1="269.50" x2="662.24" y2="269.50" stroke="#2020e8" stroke-width="0.6" opacity="0.75"/>
<rect x="660.64" y="269.21" width="1.6" height="1.6" fill="#2020e8"/>
<line x1="662.87" y1="269.65" x2="662.87" y2="270.64" stroke="#2020e8" stroke-width="0.6" opacity="0.75"/>
<line x1="662.07" y1="269.65" x2="663.67" y2="269.65" stroke="#2020e8" stroke-width="0.6" opacity="0.75"/>
<rect x="662.07" y="269.35" width="1.6" height="1.6" fill="#2020e8"/>
<line x1="664.21" y1="269.80" x2="664.21" y2="270.76" stroke="#2020e8" stroke-width="0.6" opacity="0.75"/>
<line x1="663.41" y1="269.80" x2="665.01" y2="269.80" stroke="#2020e8" stroke-width="0.6" opacity="0.75"/>
<rect x="663.41" y="269.48" width="1.6" height="1.6" fill="#2020e8"/>
<line x1="665.47" y1="269.93" x2="665.47" y2="270.86" stroke="#2020e8" stroke-width="0.6" opacity="0.75"/>
<line x1="664.67" y1="269.93" x2="666.27" y2="269.93" stroke="#2020e8" stroke-width="0.6" opacity="0.75"/>
<rect x="664.67" y="269.60" width="1.6" height="1.6" fill="#2020e8"/>
<line x1="666.67" y1="270.06" x2="666.67" y2="270.97" stroke="#2020e8" stroke-width="0.6" opacity="0.75"/>
<line x1="665.87" y1="270.06" x2="667.47" y2="270.06" stroke="#2020e8" stroke-width="0.6" opacity="0.75"/>
<rect x="665.87" y="269.72" width="1.6" height="1.6" fill="#2020e8"/>
<line x1="667.80" y1="270.19" x2="667.80" y2="271.06" stroke="#2020e8" stroke-width="0.6" opacity="0.75"/>
<line x1="667.00" y1="270.19" x2="668.60" y2="270.19" stroke="#2020e8" stroke-width="0.6" opacity="0.75"/>
<rect x="667.00" y="269.83" width="1.6" height="1.6" fill="#2020e8"/>
<line x1="676.76" y1="270.44" x2="676.76" y2="271.11" stroke="#2020e8" stroke-width="0.6" opacity="0.75"/>
<line x1="675.96" y1="270.44" x2="677.56" y2="270.44" stroke="#2020e8" stroke-width="0.6" opacity="0.75"/>
<line x1="683.12" y1="270.63" x2="683.12" y2="271.14" stroke="#2020e8" stroke-width="0.6" opacity="0.75"/>
<line x1="682.32" y1="270.63" x2="683.92" y2="270.63" stroke="#2020e8" stroke-width="0.6" opacity="0.75"/>
<path d="M566.00,271.14 L581.32,269.08 L590.29,263.39 L596.64,260.55 L601.58,261.58 L605.61,262.88 L609.02,264.17 L611.97,264.43 L614.57,264.94 L616.90,265.20 L625.86,267.01 L632.22,268.04 L637.16,268.33 L641.19,268.56 L644.59,268.82 L647.54,269.05 L650.15,269.25 L652.48,269.44 L654.58,269.60 L656.51,269.75 L658.28,269.89 L659.92,270.01 L661.44,270.13 L662.87,270.24 L664.21,270.35 L665.47,270.44 L666.67,270.54 L667.80,270.63 L676.76,270.78 L683.12,270.88" fill="none" stroke="#f03030" stroke-width="0.7" opacity="0.75"/>
<line x1="566.00" y1="270.88" x2="566.00" y2="271.40" stroke="#f03030" stroke-width="0.6" opacity="0.75"/>
<line x1="565.20" y1="270.88" x2="566.80" y2="270.88" stroke="#f03030" stroke-width="0.6" opacity="0.75"/>
<rect x="565.20" y="270.34" width="1.6" height="1.6" fill="#f03030"/>
<line x1="581.32" y1="268.30" x2="581.32" y2="269.85" stroke="#f03030" stroke-width="0.6" opacity="0.75"/>
<line x1="580.52" y1="268.30" x2="582.12" y2="268.30" stroke="#f03030" stroke-width="0.6" opacity="0.75"/>
<rect x="580.52" y="268.28" width="1.6" height="1.6" fill="#f03030"/>
<line x1="590.29" y1="262.10" x2="590.29" y2="264.68" stroke="#f03030" stroke-width="0.6" opacity="0.75"/>
<line x1="589.49" y1="262.10" x2="591.09" y2="262.10" stroke="#f03030" stroke-width="0.6" opacity="0.75"/>
<rect x="589.49" y="262.59" width="1.6" height="1.6" fill="#f03030"/>
<line x1="596.64" y1="259.26" x2="596.64" y2="261.84" stroke="#f03030" stroke-width="0.6" opacity="0.75"/>
<line x1="595.84" y1="259.26" x2="597.44" y2="259.26" stroke="#f03030" stroke-width="0.6" opacity="0.75"/>
<rect x="595.84" y="259.75" width="1.6" height="1.6" fill="#f03030"/>
<line x1="601.58" y1="260.42" x2="601.58" y2="262.75" stroke="#f03030" stroke-width="0.6" opacity="0.75"/>
<line x1="600.78" y1="260.42" x2="602.38" y2="260.42" stroke="#f03030" stroke-width="0.6" opacity="0.75"/>
<rect x="600.78" y="260.78" width="1.6" height="1.6" fill="#f03030"/>
<line x1="605.61" y1="261.81" x2="605.61" y2="263.94" stroke="#f03030" stroke-width="0.6" opacity="0.75"/>
<line x1="604.81" y1="261.81" x2="606.41" y2="261.81" stroke="#f03030" stroke-width="0.6" opacity="0.75"/>
<rect x="604.81" y="262.08" width="1.6" height="1.6" fill="#f03030"/>
<line x1="609.02" y1="263.19" x2="609.02" y2="265.14" stroke="#f03030" stroke-width="0.6" opacity="0.75"/>
<line x1="608.22" y1="263.19" x2="609.82" y2="263.19" stroke="#f03030" stroke-width="0.6" opacity="0.75"/>
<rect x="608.22" y="263.37" width="1.6" height="1.6" fill="#f03030"/>
<line x1="611.97" y1="263.53" x2="611.97" y2="265.33" stroke="#f03030" stroke-width="0.6" opacity="0.75"/>
<line x1="611.17" y1="263.53" x2="612.77" y2="263.53" stroke="#f03030" stroke-width="0.6" opacity="0.75"/>
<rect x="611.17" y="263.63" width="1.6" height="1.6" fill="#f03030"/>
<line x1="614.57" y1="264.11" x2="614.57" y2="265.78" stroke="#f03030" stroke-width="0.6" opacity="0.75"/>
<line x1="613.77" y1="264.11" x2="615.37" y2="264.11" stroke="#f03030" stroke-width="0.6" opacity="0.75"/>
<rect x="613.77" y="264.14" width="1.6" height="1.6" fill="#f03030"/>
<line x1="616.90" y1="264.43" x2="616.90" y2="265.98" stroke="#f03030" stroke-width="0.6" opacity="0.75"/>
<line x1="616.10" y1="264.43" x2="617.70" y2="264.43" stroke="#f03030" stroke-width="0.6" opacity="0.75"/>
<rect x="616.10" y="264.40" width="1.6" height="1.6" fill="#f03030"/>
<line x1="625.86" y1="266.30" x2="625.86" y2="267.71" stroke="#f03030" stroke-width="0.6" opacity="0.75"/>
<line x1="625.06" y1="266.30" x2="626.66" y2="266.30" stroke="#f03030" stroke-width="0.6" opacity="0.75"/>
<rect x="625.06" y="266.21" width="1.6" height="1.6" fill="#f03030"/>
<line x1="632.22" y1="267.39" x2="632.22" y2="268.70" stroke="#f03030" stroke-width="0.6" opacity="0.75"/>
<line x1="631.42" y1="267.39" x2="633.02" y2="267.39" stroke="#f03030" stroke-width="0.6" opacity="0.75"/>
<rect x="631.42" y="267.24" width="1.6" height="1.6" fill="#f03030"/>
<line x1="637.16" y1="267.71" x2="637.16" y2="268.94" stroke="#f03030" stroke-width="0.6" opacity="0.75"/>
<line x1="636.36" y1="267.71" x2="637.96" y2="267.71" stroke="#f03030" stroke-width="0.6" opacity="0.75"/>
<rect x="636.36" y="267.53" width="1.6" height="1.6" fill="#f03030"/>
<line x1="641.19" y1="267.97" x2="641.19" y2="269.14" stroke="#f03030" stroke-width="0.6" opacity="0.75"/>
<line x1="640.39" y1="267.97" x2="641.99" y2="267.97" stroke="#f03030" stroke-width="0.6" opacity="0.75"/>
<rect x="640.39" y="267.76" width="1.6" height="1.6" fill="#f03030"/>
<line x1="644.59" y1="268.26" x2="644.59" y2="269.38" stroke="#f03030" stroke-width="0.6" opacity="0.75"/>
<line x1="643.79" y1="268.26" x2="645.39" y2="268.26" stroke="#f03030" stroke-width="0.6" opacity="0.75"/>
<rect x="643.79" y="268.02" width="1.6" height="1.6" fill="#f03030"/>
<line x1="647.54" y1="268.52" x2="647.54" y2="269.59" stroke="#f03030" stroke-width="0.6" opacity="0.75"/>
<line x1="646.74" y1="268.52" x2="648.34" y2="268.52" stroke="#f03030" stroke-width="0.6" opacity="0.75"/>
<rect x="646.74" y="268.25" width="1.6" height="1.6" fill="#f03030"/>
<line x1="650.15" y1="268.74" x2="650.15" y2="269.77" stroke="#f03030" stroke-width="0.6" opacity="0.75"/>
<line x1="649.35" y1="268.74" x2="650.95" y2="268.74" stroke="#f03030" stroke-width="0.6" opacity="0.75"/>
<rect x="649.35" y="268.45" width="1.6" height="1.6" fill="#f03030"/>
<line x1="652.48" y1="268.94" x2="652.48" y2="269.93" stroke="#f03030" stroke-width="0.6" opacity="0.75"/>
<line x1="651.68" y1="268.94" x2="653.28" y2="268.94" stroke="#f03030" stroke-width="0.6" opacity="0.75"/>
<rect x="651.68" y="268.64" width="1.6" height="1.6" fill="#f03030"/>
<line x1="654.58" y1="269.12" x2="654.58" y2="270.08" stroke="#f03030" stroke-width="0.6" opacity="0.75"/>
<line x1="653.78" y1="269.12" x2="655.38" y2="269.12" stroke="#f03030" stroke-width="0.6" opacity="0.75"/>
<rect x="653.78" y="268.80" width="1.6" height="1.6" fill="#f03030"/>
<line x1="656.51" y1="269.28" x2="656.51" y2="270.21" stroke="#f03030" stroke-width="0.6" opacity="0.75"/>
<line x1="655.71" y1="269.28" x2="657.31" y2="269.28" stroke="#f03030" stroke-width="0.6" opacity="0.75"/>
<rect x="655.71" y="268.95" width="1.6" height="1.6" fill="#f03030"/>
<line x1="658.28" y1="269.43" x2="658.28" y2="270.34" stroke="#f03030" stroke-width="0.6" opacity="0.75"/>
<line x1="657.48" y1="269.43" x2="659.08" y2="269.43" stroke="#f03030" stroke-width="0.6" opacity="0.75"/>
<rect x="657.48" y="269.09" width="1.6" height="1.6" fill="#f03030"/>
<line x1="659.92" y1="269.57" x2="659.92" y2="270.45" stroke="#f03030" stroke-width="0.6" opacity="0.75"/>
<line x1="659.12" y1="269.57" x2="660.72" y2="269.57" stroke="#f03030" stroke-width="0.6" opacity="0.75"/>
<rect x="659.12" y="269.21" width="1.6" height="1.6" fill="#f03030"/>
<line x1="661.44" y1="269.70" x2="661.44" y2="270.56" stroke="#f03030" stroke-width="0.6" opacity="0.75"/>
<line x1="660.64" y1="269.70" x2="662.24" y2="269.70" stroke="#f03030" stroke-width="0.6" opacity="0.75"/>
<rect x="660.64" y="269.33" width="1.6" height="1.6" fill="#f03030"/>
<line x1="662.87" y1="269.83" x2="662.87" y2="270.66" stroke="#f03030" stroke-width="0.6" opacity="0.75"/>
<line x1="662.07" y1="269.83" x2="663.67" y2="269.83" stroke="#f03030" stroke-width="0.6" opacity="0.75"/>
<rect x="662.07" y="269.44" width="1.6" height="1.6" fill="#f03030"/>
<line x1="664.21" y1="269.94" x2="664.21" y2="270.75" stroke="#f03030" stroke-width="0.6" opacity="0.75"/>
<line x1="663.41" y1="269.94" x2="665.01" y2="269.94" stroke="#f03030" stroke-width="0.6" opacity="0.75"/>
<rect x="663.41" y="269.55" width="1.6" height="1.6" fill="#f03030"/>
<line x1="665.47" y1="270.05" x2="665.47" y2="270.84" stroke="#f03030" stroke-width="0.6" opacity="0.75"/>
<line x1="664.67" y1="270.05" x2="666.27" y2="270.05" stroke="#f03030" stroke-width="0.6" opacity="0.75"/>
<rect x="664.67" y="269.64" width="1.6" height="1.6" fill="#f03030"/>
<line x1="666.67" y1="270.15" x2="666.67" y2="270.92" stroke="#f03030" stroke-width="0.6" opacity="0.75"/>
<line x1="665.87" y1="270.15" x2="667.47" y2="270.15" stroke="#f03030" stroke-width="0.6" opacity="0.75"/>
<rect x="665.87" y="269.74" width="1.6" height="1.6" fill="#f03030"/>
<line x1="667.80" y1="270.25" x2="667.80" y2="271.00" stroke="#f03030" stroke-width="0.6" opacity="0.75"/>
<line x1="667.00" y1="270.25" x2="668.60" y2="270.25" stroke="#f03030" stroke-width="0.6" opacity="0.75"/>
<rect x="667.00" y="269.83" width="1.6" height="1.6" fill="#f03030"/>
<line x1="676.76" y1="270.47" x2="676.76" y2="271.08" stroke="#f03030" stroke-width="0.6" opacity="0.75"/>
<line x1="675.96" y1="270.47" x2="677.56" y2="270.47" stroke="#f03030" stroke-width="0.6" opacity="0.75"/>
<line x1="683.12" y1="270.63" x2="683.12" y2="271.14" stroke="#f03030" stroke-width="0.6" opacity="0.75"/>
<line x1="682.32" y1="270.63" x2="683.92" y2="270.63" stroke="#f03030" stroke-width="0.6" opacity="0.75"/>
</svg>
</body></html>
